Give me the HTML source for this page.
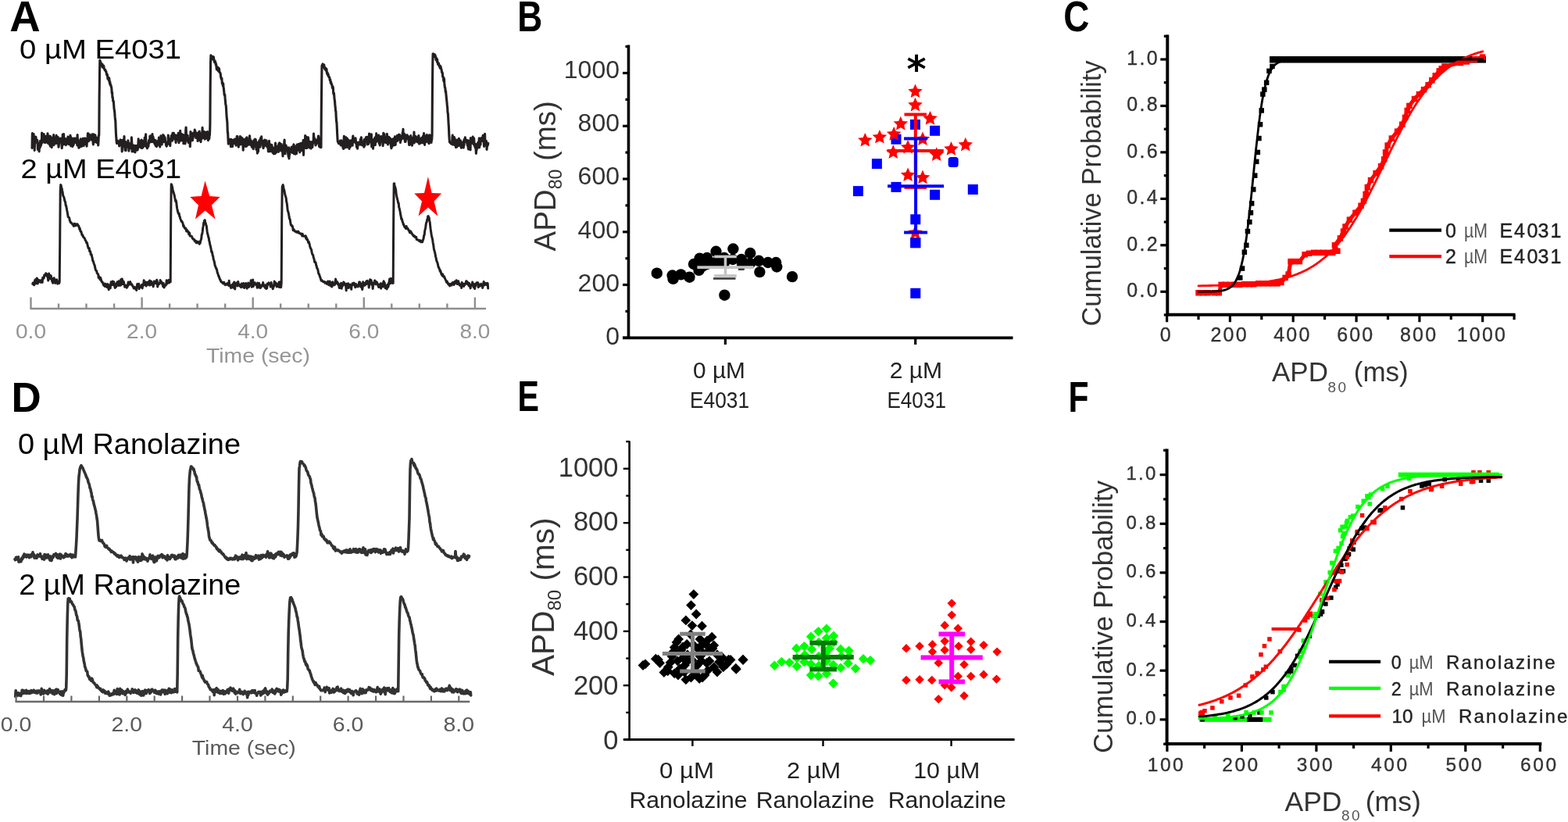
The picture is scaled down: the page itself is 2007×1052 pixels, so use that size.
<!DOCTYPE html>
<html><head><meta charset="utf-8"><title>Figure</title>
<style>html,body{margin:0;padding:0;background:#fff;overflow:hidden;width:2007px;height:1052px;} svg{display:block;} text{font-family:"Liberation Sans", Arial, sans-serif;}</style>
</head><body>
<svg width="2007" height="1052" viewBox="0 0 2007 1052">
<rect width="2007" height="1052" fill="#fff"/>
<path d="M41 189.5 L41.4 170.5 L41.7 180.3 L42.1 177.8 L42.4 179.3 L42.8 178.2 L43.1 171.5 L43.5 178.1 L43.8 175.2 L44.2 192.5 L44.5 181.9 L44.9 180.6 L45.2 177.7 L45.6 176.3 L45.9 175.2 L46.3 179 L46.6 181.1 L47 179.4 L47.3 182.6 L47.7 179.2 L48 182.1 L48.4 191.5 L48.7 187.7 L49.1 183.4 L49.4 184.1 L49.8 188.6 L50.1 194 L50.5 186.1 L50.8 186.4 L51.2 188.9 L51.5 180.3 L51.9 182.7 L52.2 186.7 L52.6 185 L52.9 182.8 L53.3 183.6 L53.6 170 L54 182.8 L54.3 175.6 L54.7 171.8 L55 177.2 L55.4 179.2 L55.7 174.7 L56.1 171.5 L56.4 174.9 L56.8 175.9 L57.1 182.4 L57.5 179.6 L57.8 178.1 L58.2 182.4 L58.5 177.1 L58.9 174.3 L59.2 179.8 L59.6 182 L59.9 177.3 L60.3 175.7 L60.6 180.5 L61 170.7 L61.3 183.3 L61.7 183.3 L62 174.8 L62.4 181.7 L62.7 177.6 L63.1 184.6 L63.4 174 L63.8 179.6 L64.1 186 L64.5 187.1 L64.8 174.5 L65.2 182.6 L65.5 185.4 L65.9 181.2 L66.2 188.6 L66.6 178.4 L66.9 183 L67.3 176.4 L67.6 184.8 L68 180.1 L68.3 178.5 L68.7 172.6 L69 185.6 L69.4 183.6 L69.7 182.8 L70.1 183.4 L70.4 181.2 L70.8 177.1 L71.1 176 L71.5 175.5 L71.8 183.6 L72.2 173.4 L72.5 176.8 L72.9 178.4 L73.2 181.4 L73.6 182.7 L73.9 177.9 L74.3 175.5 L74.6 183.1 L75 188.3 L75.3 186 L75.7 182.5 L76 180.1 L76.4 181.3 L76.7 179.2 L77.1 181.9 L77.4 177 L77.8 179.7 L78.1 178.9 L78.5 182.7 L78.8 181.5 L79.2 189.7 L79.5 185.3 L79.9 186.3 L80.2 172.1 L80.6 177 L80.9 176.3 L81.3 182 L81.6 171.6 L82 184.2 L82.3 184.5 L82.7 177.1 L83 177.9 L83.4 178.5 L83.7 182.5 L84.1 182.5 L84.4 185.6 L84.8 177.8 L85.1 183 L85.5 179.6 L85.8 183.9 L86.2 180.4 L86.5 183.5 L86.9 175 L87.2 179.1 L87.6 177.5 L87.9 184.8 L88.3 180.3 L88.6 176.4 L89 176.1 L89.3 178.7 L89.7 174.6 L90 173.3 L90.4 179 L90.7 186.9 L91.1 175.9 L91.4 176.5 L91.8 177.1 L92.1 177.6 L92.5 185.3 L92.8 187.5 L93.2 184.9 L93.5 186.3 L93.9 185 L94.2 185.2 L94.6 177.1 L94.9 180.1 L95.3 182.8 L95.6 178.6 L96 178.7 L96.3 177.1 L96.7 178.5 L97 182.5 L97.4 178 L97.7 178.4 L98.1 181.5 L98.4 179.8 L98.8 186 L99.1 172.6 L99.5 183.2 L99.8 178.5 L100.2 182.6 L100.5 186.7 L100.9 189.2 L101.2 189 L101.6 184.8 L101.9 188.5 L102.3 180.6 L102.6 180.8 L103 185.6 L103.3 177.9 L103.7 186.8 L104 182.6 L104.4 187.4 L104.7 181.4 L105.1 179.2 L105.4 180.8 L105.8 183.6 L106.1 177.4 L106.5 182.1 L106.8 180.1 L107.2 186.7 L107.5 177 L107.9 181.7 L108.2 177.5 L108.6 178.1 L108.9 179.5 L109.3 177 L109.6 181.6 L110 184.8 L110.3 179.9 L110.7 182 L111 187.1 L111.4 181.1 L111.7 178.9 L112.1 175.9 L112.4 170.7 L112.8 181 L113.1 170.7 L113.5 180.7 L113.8 177.4 L114.2 180 L114.5 174.2 L114.9 172.6 L115.2 177.5 L115.6 176.9 L115.9 176.6 L116.3 178.1 L116.6 177.6 L117 178.8 L117.3 176.9 L117.7 178.9 L118 171.9 L118.4 179.8 L118.7 174.1 L119.1 183.1 L119.4 184.9 L119.8 171.9 L120.1 179.4 L120.5 178.4 L120.8 177.3 L121.2 181.8 L121.5 177.4 L121.9 172.9 L122.2 179.1 L122.6 179.1 L122.9 180.2 L123.3 175.9 L123.6 182.4 L124 182.3 L124.3 177 L124.7 179.4 L125 180.1 L125.4 177.3 L125.7 186 L126.1 179.5 L126.4 173.1 L126.8 172.9 L127.1 126.9 L127.5 95.1 L127.8 77 L128.2 78.5 L128.5 79.8 L128.9 79.7 L129.2 84.3 L129.6 81.1 L129.9 84 L130.3 83.7 L130.6 84 L131 82.3 L131.3 86.3 L131.7 84 L132 85.1 L132.4 83.9 L132.7 84.5 L133.1 86.5 L133.4 87.9 L133.8 88.8 L134.1 89.6 L134.5 90.1 L134.8 89.5 L135.2 91.1 L135.5 91.3 L135.9 91.4 L136.2 93.9 L136.6 95.5 L136.9 94.6 L137.3 95.1 L137.6 97.8 L138 101 L138.3 98.7 L138.7 100 L139 101 L139.4 103.3 L139.7 99.9 L140.1 104.1 L140.4 106.8 L140.8 104.5 L141.1 109 L141.5 108.6 L141.8 108.4 L142.2 110.9 L142.5 111 L142.9 113.8 L143.2 119.4 L143.6 118.2 L143.9 125 L144.3 124.5 L144.6 129.2 L145 129.7 L145.3 129.4 L145.7 134.6 L146 139 L146.4 141 L146.7 143.1 L147.1 149.2 L147.4 152.1 L147.8 155 L148.1 163.2 L148.5 172.1 L148.8 176.1 L149.2 182.1 L149.5 183.4 L149.9 181.7 L150.2 180.4 L150.6 180.1 L150.9 181.8 L151.3 183.2 L151.6 182 L152 183.4 L152.3 184.5 L152.7 187 L153 183.1 L153.4 182.3 L153.7 179.9 L154.1 178.9 L154.4 182.5 L154.8 181 L155.1 179.6 L155.5 186.2 L155.8 182.3 L156.2 194 L156.5 187.7 L156.9 179.4 L157.2 185.8 L157.6 184.9 L157.9 180.1 L158.3 187.8 L158.6 181 L159 174.6 L159.3 188 L159.7 183.3 L160 192.2 L160.4 183.9 L160.7 181.5 L161.1 192.6 L161.4 182.9 L161.8 186.5 L162.1 188.3 L162.5 183.9 L162.8 182.2 L163.2 183.1 L163.5 185.9 L163.9 179.8 L164.2 186 L164.6 185.5 L164.9 193.1 L165.3 185.2 L165.6 183.5 L166 190 L166.3 185.8 L166.7 187.4 L167 186.5 L167.4 189.6 L167.7 183.4 L168.1 185.1 L168.4 175.9 L168.8 183.2 L169.1 194 L169.5 185.6 L169.8 186.9 L170.2 185.8 L170.5 193.1 L170.9 191.6 L171.2 187.2 L171.6 194.2 L171.9 191.4 L172.3 191.5 L172.6 186.4 L173 195 L173.3 190.4 L173.7 188.2 L174 186.6 L174.4 188.3 L174.7 191.1 L175.1 186.6 L175.4 192.2 L175.8 190.2 L176.1 191.9 L176.5 189.8 L176.8 186.1 L177.2 177.9 L177.5 186.5 L177.9 188 L178.2 185.8 L178.6 186.3 L178.9 182.5 L179.3 183.9 L179.6 180.4 L180 189 L180.3 185 L180.7 180.4 L181 179 L181.4 183.5 L181.7 189.6 L182.1 185.3 L182.4 180.1 L182.8 188.8 L183.1 188.4 L183.5 187.7 L183.8 185.7 L184.2 184.6 L184.5 181.9 L184.9 181.5 L185.2 176 L185.6 184.2 L185.9 179.7 L186.3 187 L186.6 171.7 L187 184.4 L187.3 187.9 L187.7 183.4 L188 188.4 L188.4 189.8 L188.7 189.1 L189.1 183.5 L189.4 183.7 L189.8 187.4 L190.1 185.8 L190.5 180.5 L190.8 179.4 L191.2 179.5 L191.5 182.4 L191.9 174.3 L192.2 174.1 L192.6 178.7 L192.9 173.9 L193.3 177.8 L193.6 178.8 L194 181.4 L194.3 174.9 L194.7 181.8 L195 171.6 L195.4 180.7 L195.7 174.8 L196.1 175.6 L196.4 181.7 L196.8 179.6 L197.1 178.3 L197.5 180 L197.8 183.9 L198.2 182.5 L198.5 182.2 L198.9 186.1 L199.2 179.5 L199.6 183.2 L199.9 182.7 L200.3 187.6 L200.6 187.2 L201 186.7 L201.3 182.4 L201.7 182.4 L202 185.5 L202.4 180.4 L202.7 182.2 L203.1 181.5 L203.4 176 L203.8 179 L204.1 180 L204.5 186.5 L204.8 188 L205.2 179.8 L205.5 181.3 L205.9 173.7 L206.2 183 L206.6 182.8 L206.9 177.1 L207.3 184.9 L207.6 176.4 L208 181.4 L208.3 180.7 L208.7 172.5 L209 180.5 L209.4 181.6 L209.7 173.6 L210.1 175.3 L210.4 180.8 L210.8 178.6 L211.1 175.9 L211.5 180.3 L211.8 182.5 L212.2 182.4 L212.5 185.8 L212.9 183.7 L213.2 187.3 L213.6 186.2 L213.9 182.8 L214.3 183.2 L214.6 182.9 L215 180.7 L215.3 173.1 L215.7 180.9 L216 177.8 L216.4 184.4 L216.7 179.3 L217.1 180.3 L217.4 180.3 L217.8 186.7 L218.1 180.3 L218.5 177.4 L218.8 178.4 L219.2 173.8 L219.5 175 L219.9 173.2 L220.2 175.3 L220.6 180.1 L220.9 170.4 L221.3 172.6 L221.6 171.8 L222 176.5 L222.3 170.2 L222.7 172.6 L223 175.5 L223.4 177.9 L223.7 177 L224.1 175.2 L224.4 172.9 L224.8 179.3 L225.1 182.5 L225.5 178.4 L225.8 177.7 L226.2 178.9 L226.5 173.3 L226.9 174.5 L227.2 174.7 L227.6 178.3 L227.9 176 L228.3 170.3 L228.6 180.3 L229 182.7 L229.3 175 L229.7 176.9 L230 175.2 L230.4 176.1 L230.7 167.2 L231.1 180.2 L231.4 171.5 L231.8 176.1 L232.1 172.6 L232.5 171.5 L232.8 173.1 L233.2 179.8 L233.5 174.1 L233.9 176 L234.2 175.1 L234.6 172.6 L234.9 183.6 L235.3 180.6 L235.6 176.6 L236 180.2 L236.3 173.6 L236.7 176.6 L237 183.9 L237.4 179.8 L237.7 166.9 L238.1 163 L238.4 170.2 L238.8 179.8 L239.1 175.8 L239.5 175.1 L239.8 179.7 L240.2 173.3 L240.5 179.2 L240.9 182 L241.2 182.3 L241.6 182 L241.9 177.5 L242.3 181.4 L242.6 177.7 L243 183.1 L243.3 187.7 L243.7 174.1 L244 168.6 L244.4 174.7 L244.7 177.6 L245.1 180 L245.4 179.4 L245.8 171.1 L246.1 171.6 L246.5 179.8 L246.8 170.9 L247.2 176.9 L247.5 170.3 L247.9 173.6 L248.2 173.1 L248.6 172.3 L248.9 173.5 L249.3 166 L249.6 170.6 L250 168.1 L250.3 172 L250.7 176.4 L251 171.9 L251.4 170.2 L251.7 170.9 L252.1 172.7 L252.4 176.7 L252.8 171.8 L253.1 180.5 L253.5 177.7 L253.8 174.5 L254.2 169.5 L254.5 176.6 L254.9 178.1 L255.2 168.1 L255.6 177.7 L255.9 179.5 L256.3 173.4 L256.6 172.8 L257 181.6 L257.3 178.2 L257.7 170.5 L258 173.5 L258.4 172.7 L258.7 173.8 L259.1 163.3 L259.4 177 L259.8 171.1 L260.1 174.1 L260.5 171.4 L260.8 174.2 L261.2 169.8 L261.5 168.5 L261.9 172.9 L262.2 178.2 L262.6 170.6 L262.9 175.4 L263.3 171.7 L263.6 169.4 L264 176.6 L264.3 170.2 L264.7 177.2 L265 171.5 L265.4 174 L265.7 168.6 L266.1 171.9 L266.4 179.7 L266.8 177.5 L267.1 177.2 L267.5 173.7 L267.8 177.6 L268.2 171.5 L268.5 172.7 L268.9 158.9 L269.2 110.9 L269.6 78.2 L269.9 70.8 L270.3 71.3 L270.6 71.8 L271 74.9 L271.3 75 L271.7 75.8 L272 73.9 L272.4 73.6 L272.7 72.5 L273.1 74.6 L273.4 72.9 L273.8 75.3 L274.1 77.9 L274.5 79.7 L274.8 79.7 L275.2 77.9 L275.5 80.5 L275.9 79.6 L276.2 83 L276.6 82 L276.9 85.2 L277.3 88.8 L277.6 86.5 L278 89.2 L278.3 86.6 L278.7 86 L279 89.2 L279.4 90.9 L279.7 87.9 L280.1 88.7 L280.4 87.4 L280.8 90.7 L281.1 92.9 L281.5 92.8 L281.8 93.4 L282.2 93.9 L282.5 97.4 L282.9 99.6 L283.2 100.9 L283.6 101.6 L283.9 100 L284.3 107 L284.6 105.3 L285 107.3 L285.3 109.8 L285.7 106.7 L286 111.6 L286.4 113.4 L286.7 116.5 L287.1 121.2 L287.4 121.9 L287.8 121.2 L288.1 125.7 L288.5 129.8 L288.8 133.7 L289.2 134.8 L289.5 138.5 L289.9 146 L290.2 150.1 L290.6 153.8 L290.9 156.7 L291.3 169.3 L291.6 169.1 L292 178 L292.3 184.3 L292.7 180.7 L293 181.1 L293.4 178.7 L293.7 182.6 L294.1 178.2 L294.4 180.7 L294.8 181 L295.1 179.7 L295.5 187.8 L295.8 178.4 L296.2 181.5 L296.5 182.3 L296.9 181.3 L297.2 186.1 L297.6 187.5 L297.9 182.8 L298.3 180.4 L298.6 179.1 L299 180.3 L299.3 183.2 L299.7 179.5 L300 183.6 L300.4 181.4 L300.7 178.1 L301.1 183.6 L301.4 178.5 L301.8 180.9 L302.1 186.1 L302.5 177.7 L302.8 181.8 L303.2 174.6 L303.5 177.7 L303.9 174.5 L304.2 179.5 L304.6 177.8 L304.9 182.5 L305.3 188.2 L305.6 183.7 L306 185.3 L306.3 181.8 L306.7 181.7 L307 179.3 L307.4 174.5 L307.7 180.1 L308.1 184.9 L308.4 180.7 L308.8 175.7 L309.1 183.8 L309.5 178.5 L309.8 178.8 L310.2 176.7 L310.5 178.3 L310.9 183.4 L311.2 192.3 L311.6 184.7 L311.9 182.6 L312.3 185.5 L312.6 184.3 L313 178.6 L313.3 184.4 L313.7 186.9 L314 185.2 L314.4 187.4 L314.7 178.1 L315.1 176.6 L315.4 187.2 L315.8 186.9 L316.1 175.9 L316.5 183.6 L316.8 182.6 L317.2 184.5 L317.5 183.1 L317.9 182.6 L318.2 185.2 L318.6 183.8 L318.9 183.2 L319.3 178.6 L319.6 173.7 L320 182.6 L320.3 178.2 L320.7 184.3 L321 185.5 L321.4 184 L321.7 183.1 L322.1 185 L322.4 188.3 L322.8 180.8 L323.1 187.4 L323.5 187.5 L323.8 186.4 L324.2 190.7 L324.5 181.3 L324.9 187.9 L325.2 180 L325.6 178.9 L325.9 179 L326.3 183.6 L326.6 178.1 L327 183.1 L327.3 178.6 L327.7 187.6 L328 191.4 L328.4 184.9 L328.7 191.6 L329.1 188.4 L329.4 196.1 L329.8 190 L330.1 182.2 L330.5 194.3 L330.8 188.1 L331.2 182.8 L331.5 184.8 L331.9 179.8 L332.2 184.7 L332.6 180.9 L332.9 188.1 L333.3 186.1 L333.6 176.6 L334 176.5 L334.3 178.6 L334.7 174.9 L335 183.4 L335.4 183.2 L335.7 179.7 L336.1 180.4 L336.4 184.3 L336.8 188.1 L337.1 189.6 L337.5 186.3 L337.8 187.6 L338.2 180 L338.5 185 L338.9 179 L339.2 186.5 L339.6 179.5 L339.9 179.7 L340.3 183.5 L340.6 185.6 L341 179.7 L341.3 183.9 L341.7 186.2 L342 188.2 L342.4 185.4 L342.7 188.9 L343.1 189 L343.4 193.9 L343.8 191 L344.1 183.2 L344.5 180.4 L344.8 189.3 L345.2 193.9 L345.5 189.3 L345.9 191.6 L346.2 186.2 L346.6 185 L346.9 192.1 L347.3 190.2 L347.6 193.6 L348 185.6 L348.3 191.4 L348.7 188.7 L349 195.5 L349.4 191.2 L349.7 189 L350.1 189.8 L350.4 197 L350.8 192 L351.1 189.5 L351.5 189.4 L351.8 189.5 L352.2 196.6 L352.5 183.1 L352.9 186.5 L353.2 193.4 L353.6 195.1 L353.9 189.5 L354.3 191.6 L354.6 189.8 L355 190.2 L355.3 187.3 L355.7 193.5 L356 189.2 L356.4 194.4 L356.7 184.3 L357.1 191 L357.4 183.6 L357.8 182.8 L358.1 189.9 L358.5 185.1 L358.8 189.4 L359.2 184 L359.5 192.9 L359.9 186.3 L360.2 184.6 L360.6 191.2 L360.9 192.8 L361.3 186.5 L361.6 192.3 L362 199.9 L362.3 197 L362.7 192.1 L363 190.3 L363.4 192.8 L363.7 184.1 L364.1 179 L364.4 188.6 L364.8 186.6 L365.1 196.8 L365.5 188.6 L365.8 185.9 L366.2 186.2 L366.5 192.5 L366.9 188.2 L367.2 189.7 L367.6 192.4 L367.9 192.3 L368.3 193.1 L368.6 195.4 L369 199.1 L369.3 200.8 L369.7 188.8 L370 203 L370.4 194.6 L370.7 198.1 L371.1 190.5 L371.4 193.2 L371.8 192.2 L372.1 192.3 L372.5 194.2 L372.8 194.3 L373.2 188.1 L373.5 191 L373.9 194.5 L374.2 195.5 L374.6 190.1 L374.9 189.3 L375.3 189.7 L375.6 186.4 L376 184.9 L376.3 196.6 L376.7 189 L377 190.1 L377.4 187 L377.7 196.8 L378.1 197.2 L378.4 191.4 L378.8 193.8 L379.1 189 L379.5 196.7 L379.8 193 L380.2 185.1 L380.5 192.9 L380.9 189.1 L381.2 190.6 L381.6 188.6 L381.9 185.3 L382.3 184.4 L382.6 189.4 L383 186.5 L383.3 184.6 L383.7 194.9 L384 184.8 L384.4 183.6 L384.7 183.5 L385.1 189.4 L385.4 190.6 L385.8 188.6 L386.1 193 L386.5 183.1 L386.8 187 L387.2 187.9 L387.5 188.9 L387.9 190.3 L388.2 179.3 L388.6 198.4 L388.9 183.7 L389.3 186.4 L389.6 187.6 L390 187.7 L390.3 184.8 L390.7 173.5 L391 181 L391.4 189.5 L391.7 182.8 L392.1 181.4 L392.4 175.3 L392.8 189.6 L393.1 187.4 L393.5 181.7 L393.8 183.6 L394.2 182.2 L394.5 175.8 L394.9 180.3 L395.2 183.8 L395.6 185.3 L395.9 189 L396.3 183.8 L396.6 181.3 L397 185.6 L397.3 182.9 L397.7 181.9 L398 190.1 L398.4 184.1 L398.7 186.6 L399.1 187.7 L399.4 181.6 L399.8 188.5 L400.1 185.9 L400.5 181.9 L400.8 183.1 L401.2 179.1 L401.5 171.1 L401.9 177.9 L402.2 176.1 L402.6 180.8 L402.9 179.5 L403.3 178 L403.6 182 L404 186 L404.3 185.1 L404.7 182.4 L405 184.1 L405.4 179.5 L405.7 181.6 L406.1 183.3 L406.4 180.4 L406.8 180.2 L407.1 176.1 L407.5 174.1 L407.8 175 L408.2 179.9 L408.5 187.4 L408.9 187.1 L409.2 179.8 L409.6 179 L409.9 188.4 L410.3 186.7 L410.6 179.2 L411 188.8 L411.3 143.1 L411.7 106.1 L412 83.9 L412.4 83.4 L412.7 82.7 L413.1 81.8 L413.4 82.9 L413.8 83.3 L414.1 85.7 L414.5 83.4 L414.8 83 L415.2 86.7 L415.5 87.7 L415.9 88.7 L416.2 89 L416.6 86.7 L416.9 88.5 L417.3 89.3 L417.6 90.8 L418 88.4 L418.3 92.8 L418.7 94.3 L419 92.8 L419.4 94.1 L419.7 96.5 L420.1 94.7 L420.4 97.2 L420.8 98.2 L421.1 98.8 L421.5 99.1 L421.8 98.8 L422.2 102.6 L422.5 101.7 L422.9 102.3 L423.2 106.1 L423.6 104.7 L423.9 106.7 L424.3 108 L424.6 107.6 L425 109.6 L425.3 111.8 L425.7 113.1 L426 110.7 L426.4 112.5 L426.7 119.2 L427.1 120.6 L427.4 119 L427.8 123 L428.1 127.1 L428.5 128.6 L428.8 133.6 L429.2 137.1 L429.5 141.5 L429.9 142.4 L430.2 149.4 L430.6 155.6 L430.9 155.8 L431.3 163.7 L431.6 170.4 L432 177.4 L432.3 181.2 L432.7 181.7 L433 181.4 L433.4 183.6 L433.7 183.6 L434.1 183.7 L434.4 183.7 L434.8 183.9 L435.1 181.4 L435.5 180.1 L435.8 182 L436.2 186 L436.5 184.5 L436.9 179.8 L437.2 185.9 L437.6 182.6 L437.9 186.1 L438.3 182.1 L438.6 185.2 L439 189.4 L439.3 186.1 L439.7 190.5 L440 180.4 L440.4 174.4 L440.7 185.9 L441.1 189.1 L441.4 189 L441.8 184.6 L442.1 183.4 L442.5 182.1 L442.8 175.7 L443.2 178.9 L443.5 183 L443.9 179.3 L444.2 188.4 L444.6 177.4 L444.9 181.8 L445.3 187.3 L445.6 182.3 L446 180.4 L446.3 179.5 L446.7 182.6 L447 190.5 L447.4 186.2 L447.7 185.8 L448.1 182.6 L448.4 188 L448.8 183.4 L449.1 179.8 L449.5 180.1 L449.8 181 L450.2 183.8 L450.5 179.6 L450.9 181.4 L451.2 186.3 L451.6 175.7 L451.9 174 L452.3 181.5 L452.6 180.3 L453 179.3 L453.3 181.8 L453.7 179.7 L454 182 L454.4 177.1 L454.7 182.4 L455.1 176.8 L455.4 179.8 L455.8 184.2 L456.1 182.3 L456.5 188.3 L456.8 185.3 L457.2 184.8 L457.5 190.2 L457.9 187.2 L458.2 182.2 L458.6 182.8 L458.9 182.4 L459.3 183.3 L459.6 183.1 L460 184.9 L460.3 181.8 L460.7 184.8 L461 183.6 L461.4 178 L461.7 185.2 L462.1 183.3 L462.4 175.9 L462.8 179.7 L463.1 183.4 L463.5 180.9 L463.8 186 L464.2 184 L464.5 185.9 L464.9 182.3 L465.2 185.9 L465.6 183.7 L465.9 188.3 L466.3 178.6 L466.6 185.9 L467 186.4 L467.3 181.3 L467.7 178.8 L468 180.8 L468.4 175.7 L468.7 175.7 L469.1 175.3 L469.4 176.6 L469.8 180.5 L470.1 175.7 L470.5 184.9 L470.8 175.2 L471.2 177.4 L471.5 179.1 L471.9 184.1 L472.2 177.7 L472.6 171 L472.9 181.9 L473.3 179.3 L473.6 174 L474 173.1 L474.3 174.1 L474.7 178.4 L475 179.5 L475.4 171.7 L475.7 187.7 L476.1 179.3 L476.4 178.4 L476.8 182.5 L477.1 180.7 L477.5 190.3 L477.8 185.7 L478.2 180.6 L478.5 180.9 L478.9 179.8 L479.2 177.7 L479.6 180.3 L479.9 176 L480.3 185.8 L480.6 179.3 L481 178.1 L481.3 182 L481.7 170.9 L482 175.2 L482.4 180.9 L482.7 179.9 L483.1 178.7 L483.4 179.6 L483.8 175.7 L484.1 178 L484.5 174.9 L484.8 173.1 L485.2 183.8 L485.5 176 L485.9 177.1 L486.2 185.9 L486.6 182.9 L486.9 175 L487.3 175.1 L487.6 177.6 L488 174.5 L488.3 180.7 L488.7 180.2 L489 177.2 L489.4 178.5 L489.7 180.3 L490.1 186.7 L490.4 183.2 L490.8 170.3 L491.1 179.8 L491.5 173.2 L491.8 171.6 L492.2 181.8 L492.5 176.4 L492.9 177.3 L493.2 182.5 L493.6 176.9 L493.9 175.4 L494.3 179.2 L494.6 182.7 L495 181 L495.3 171.3 L495.7 175.9 L496 178.3 L496.4 185 L496.7 181.7 L497.1 181.1 L497.4 182 L497.8 175.4 L498.1 178.8 L498.5 181 L498.8 176.3 L499.2 179.9 L499.5 183.4 L499.9 177.5 L500.2 185.3 L500.6 187.5 L500.9 189.8 L501.3 182.1 L501.6 184.5 L502 187.6 L502.3 184.6 L502.7 178.1 L503 180.4 L503.4 184.5 L503.7 177.6 L504.1 178.4 L504.4 185.9 L504.8 178.4 L505.1 179.5 L505.5 174.9 L505.8 175.4 L506.2 185.4 L506.5 179.5 L506.9 175.4 L507.2 176.1 L507.6 179.9 L507.9 180.6 L508.3 173.5 L508.6 180.5 L509 174.4 L509.3 176.3 L509.7 177.5 L510 177.1 L510.4 172.3 L510.7 174.9 L511.1 178.5 L511.4 172.4 L511.8 177 L512.1 180.2 L512.5 182.5 L512.8 177.3 L513.2 176.7 L513.5 179.2 L513.9 174.1 L514.2 173.9 L514.6 175.3 L514.9 175.3 L515.3 169.7 L515.6 170.7 L516 165.3 L516.3 177.2 L516.7 171.4 L517 174.3 L517.4 171 L517.7 176.8 L518.1 178.3 L518.4 181.4 L518.8 174 L519.1 181.4 L519.5 176.3 L519.8 173 L520.2 178.1 L520.5 174.8 L520.9 174.3 L521.2 172.7 L521.6 176.9 L521.9 176.8 L522.3 176.9 L522.6 174.6 L523 178.8 L523.3 182.1 L523.7 185.5 L524 180.8 L524.4 185.4 L524.7 178.2 L525.1 175.5 L525.4 179.6 L525.8 173.5 L526.1 177.9 L526.5 181.6 L526.8 175.9 L527.2 176.1 L527.5 186.2 L527.9 178.4 L528.2 177.9 L528.6 181.2 L528.9 178.3 L529.3 178.2 L529.6 179 L530 169.1 L530.3 183 L530.7 173.9 L531 174.6 L531.4 179.1 L531.7 177.7 L532.1 174.6 L532.4 180.9 L532.8 177.5 L533.1 178.2 L533.5 175.7 L533.8 178.4 L534.2 181.9 L534.5 180.5 L534.9 179.5 L535.2 180.8 L535.6 176.6 L535.9 173.5 L536.3 176.6 L536.6 184.2 L537 178.2 L537.3 179.8 L537.7 180.1 L538 183.3 L538.4 183.1 L538.7 180.5 L539.1 178.8 L539.4 176.8 L539.8 176.4 L540.1 181.5 L540.5 182.3 L540.8 182.8 L541.2 177.3 L541.5 174.2 L541.9 179.6 L542.2 179.5 L542.6 170.5 L542.9 179 L543.3 180.8 L543.6 185.5 L544 175.3 L544.3 175.4 L544.7 182.1 L545 173.7 L545.4 179.7 L545.7 177.4 L546.1 177.4 L546.4 172.6 L546.8 178.9 L547.1 181.1 L547.5 180.5 L547.8 181.7 L548.2 178.4 L548.5 183 L548.9 181 L549.2 183.8 L549.6 172.7 L549.9 180.1 L550.3 175.9 L550.6 180.4 L551 179.3 L551.3 173.4 L551.7 178.6 L552 182.5 L552.4 179.1 L552.7 179.1 L553.1 172.3 L553.4 121.1 L553.8 82 L554.1 68.7 L554.5 71 L554.8 70.8 L555.2 70.2 L555.5 69.3 L555.9 72.6 L556.2 71.8 L556.6 70 L556.9 70.1 L557.3 72.9 L557.6 72.2 L558 76.6 L558.3 75.2 L558.7 74.3 L559 75.5 L559.4 79.4 L559.7 76 L560.1 80 L560.4 80.4 L560.8 82.8 L561.1 81.8 L561.5 81 L561.8 83.3 L562.2 83.7 L562.5 85.2 L562.9 83.9 L563.2 87.2 L563.6 84.3 L563.9 86.2 L564.3 85.9 L564.6 88.2 L565 88.8 L565.3 90.5 L565.7 93 L566 92.7 L566.4 93.6 L566.7 98.3 L567.1 97.7 L567.4 98.9 L567.8 103.3 L568.1 104.2 L568.5 100.5 L568.8 106.4 L569.2 110 L569.5 112.4 L569.9 112.5 L570.2 117.6 L570.6 116.5 L570.9 120.2 L571.3 124.1 L571.6 127 L572 130.9 L572.3 134.5 L572.7 137.6 L573 143.9 L573.4 145.5 L573.7 150.7 L574.1 158.3 L574.4 162.3 L574.8 171.7 L575.1 177.2 L575.5 181.9 L575.8 182.1 L576.2 182.7 L576.5 182.1 L576.9 182.5 L577.2 183.6 L577.6 184.2 L577.9 182 L578.3 182 L578.6 183.7 L579 175.1 L579.3 173 L579.7 185.2 L580 183.7 L580.4 179 L580.7 180.9 L581.1 176.9 L581.4 175.5 L581.8 182.9 L582.1 177.3 L582.5 186.2 L582.8 179.3 L583.2 183.8 L583.5 188.6 L583.9 188.4 L584.2 181.1 L584.6 188.1 L584.9 179 L585.3 179.6 L585.6 183.5 L586 187 L586.3 179.4 L586.7 184.5 L587 182.6 L587.4 177.2 L587.7 180.4 L588.1 186.3 L588.4 181.4 L588.8 181.9 L589.1 184.8 L589.5 179.9 L589.8 186.8 L590.2 188.8 L590.5 189.1 L590.9 188 L591.2 183.2 L591.6 182.5 L591.9 183.5 L592.3 182.2 L592.6 181.8 L593 188.7 L593.3 189 L593.7 179.9 L594 186.2 L594.4 178.4 L594.7 180.7 L595.1 178.4 L595.4 175.8 L595.8 180.6 L596.1 180.3 L596.5 179.2 L596.8 181.3 L597.2 179.2 L597.5 182.8 L597.9 182.3 L598.2 185.9 L598.6 179.5 L598.9 186.9 L599.3 189.1 L599.6 191 L600 189.2 L600.3 186.3 L600.7 183.5 L601 180 L601.4 185.6 L601.7 191.8 L602.1 191.8 L602.4 176.5 L602.8 183.5 L603.1 184.1 L603.5 179.2 L603.8 182.5 L604.2 181.3 L604.5 179.3 L604.9 180.6 L605.2 175 L605.6 177.4 L605.9 177.4 L606.3 184.8 L606.6 176.7 L607 182.2 L607.3 186.5 L607.7 184.5 L608 188.5 L608.4 184.2 L608.7 188.2 L609.1 191.2 L609.4 196.4 L609.8 189.7 L610.1 192.2 L610.5 185.4 L610.8 184.3 L611.2 189.4 L611.5 183.4 L611.9 185 L612.2 181.8 L612.6 187.2 L612.9 188.8 L613.3 176.9 L613.6 188.8 L614 184.9 L614.3 184.4 L614.7 182.2 L615 185.3 L615.4 178.2 L615.7 177.9 L616.1 176.7 L616.4 179.1 L616.8 179.9 L617.1 179.6 L617.5 180.4 L617.8 177.3 L618.2 173.2 L618.5 181 L618.9 180.3 L619.2 182.2 L619.6 187.5 L619.9 181.4 L620.3 180.8 L620.6 171.3 L621 183.6 L621.3 181.3 L621.7 180.3 L622 185.6 L622.4 180.4 L622.7 182.7 L623.1 191.5 L623.4 186 L623.8 187 L624.1 185.6 L624.5 185.6 L624.8 183.4" fill="none" stroke="#231f20" stroke-width="3.1" stroke-linejoin="round" stroke-linecap="round"/>
<path d="M41.7 363.4 L42.2 362 L42.7 363.7 L43.2 364.5 L43.7 364.8 L44.2 361 L44.7 358.8 L45.2 357.9 L45.7 360.4 L46.2 362.9 L46.7 359.5 L47.2 356 L47.7 356.6 L48.2 363.1 L48.7 361.6 L49.2 358.3 L49.7 361 L50.2 358.6 L50.7 358.9 L51.2 359.3 L51.7 359.2 L52.2 361.3 L52.7 360.1 L53.2 358.5 L53.7 360.4 L54.2 361.5 L54.7 355.3 L55.2 356.4 L55.7 354.8 L56.2 356.2 L56.7 351.9 L57.2 353.1 L57.7 352.7 L58.2 351.9 L58.7 349.8 L59.2 352.5 L59.7 351.8 L60.2 350.9 L60.7 354.5 L61.2 354.3 L61.7 359.1 L62.2 356.9 L62.7 350.1 L63.2 354.4 L63.7 352.3 L64.2 356.1 L64.7 356.7 L65.2 352.7 L65.7 355.6 L66.2 356.2 L66.7 360.2 L67.2 357.1 L67.7 362.3 L68.2 357 L68.7 356.9 L69.2 355.7 L69.7 359.8 L70.2 358.6 L70.7 362.4 L71.2 358.3 L71.7 358.9 L72.2 359.5 L72.7 357.9 L73.2 359.9 L73.7 363.2 L74.2 360.7 L74.7 362.1 L75.2 361.6 L75.7 362.5 L76.2 360.7 L76.7 310.6 L77.2 244.2 L77.7 236.5 L78.2 237.4 L78.7 240.8 L79.2 241.3 L79.7 244 L80.2 246.4 L80.7 250.5 L81.2 251.2 L81.7 252.2 L82.2 253.7 L82.7 256.7 L83.2 257.5 L83.7 259.3 L84.2 263.1 L84.7 263.4 L85.2 266.2 L85.7 269.1 L86.2 271.5 L86.7 274.5 L87.2 277.7 L87.7 277.7 L88.2 278.3 L88.7 278.7 L89.2 281.7 L89.7 282.9 L90.2 284.7 L90.7 284.5 L91.2 285.3 L91.7 285.4 L92.2 286.2 L92.7 287.1 L93.2 287.4 L93.7 287.7 L94.2 289.4 L94.7 287.7 L95.2 286.2 L95.7 289.1 L96.2 288.1 L96.7 286.9 L97.2 288.8 L97.7 287.5 L98.2 286.7 L98.7 286.8 L99.2 287 L99.7 287.9 L100.2 289.3 L100.7 289 L101.2 290.8 L101.7 293.2 L102.2 292.2 L102.7 295.3 L103.2 296.3 L103.7 296.1 L104.2 297.5 L104.7 300 L105.2 301.1 L105.7 300.6 L106.2 302 L106.7 303.4 L107.2 303.9 L107.7 304.2 L108.2 304.8 L108.7 305.8 L109.2 307.5 L109.7 307.9 L110.2 308.9 L110.7 310.9 L111.2 310.3 L111.7 311.7 L112.2 314.4 L112.7 316.1 L113.2 317.9 L113.7 318 L114.2 317.7 L114.7 321.7 L115.2 322.1 L115.7 321.8 L116.2 325.7 L116.7 326 L117.2 325.8 L117.7 328.8 L118.2 330.3 L118.7 333.7 L119.2 334 L119.7 335.6 L120.2 337.5 L120.7 338.6 L121.2 339.9 L121.7 342.4 L122.2 344.8 L122.7 346.1 L123.2 346.3 L123.7 346.8 L124.2 349.5 L124.7 349.9 L125.2 350.7 L125.7 351 L126.2 355.6 L126.7 355.2 L127.2 354.1 L127.7 356.9 L128.2 358 L128.7 355.4 L129.2 357.5 L129.7 359.2 L130.2 360.8 L130.7 360.4 L131.2 361.4 L131.7 362.2 L132.2 364.2 L132.7 365.1 L133.2 363.6 L133.7 363.2 L134.2 366.6 L134.7 363.2 L135.2 363.6 L135.7 364.3 L136.2 365.1 L136.7 367.4 L137.2 366.6 L137.7 363.4 L138.2 368.2 L138.7 368.2 L139.2 370.7 L139.7 367.1 L140.2 364.7 L140.7 365 L141.2 368.8 L141.7 364 L142.2 360.8 L142.7 361.9 L143.2 361.3 L143.7 364.6 L144.2 360.1 L144.7 363.9 L145.2 364.4 L145.7 360.7 L146.2 362.6 L146.7 366.5 L147.2 368.5 L147.7 367.9 L148.2 365.9 L148.7 367 L149.2 362.9 L149.7 362.3 L150.2 360.7 L150.7 361.5 L151.2 361.2 L151.7 365.6 L152.2 359.8 L152.7 364.3 L153.2 365.1 L153.7 362.7 L154.2 365.2 L154.7 357.7 L155.2 362.3 L155.7 364.2 L156.2 356.9 L156.7 359 L157.2 363.5 L157.7 361.9 L158.2 360.2 L158.7 362.6 L159.2 364 L159.7 367.3 L160.2 366.4 L160.7 366.5 L161.2 365.4 L161.7 366.6 L162.2 368.3 L162.7 366.7 L163.2 366.9 L163.7 363.8 L164.2 361 L164.7 362.3 L165.2 364.4 L165.7 363.6 L166.2 361.7 L166.7 360.6 L167.2 363.8 L167.7 362.9 L168.2 364.4 L168.7 363.7 L169.2 365.1 L169.7 365.6 L170.2 366.9 L170.7 367.3 L171.2 369 L171.7 368.7 L172.2 367.3 L172.7 367.8 L173.2 369.6 L173.7 368.3 L174.2 369.8 L174.7 371.5 L175.2 366.7 L175.7 363.4 L176.2 367.3 L176.7 364.8 L177.2 365.9 L177.7 363.2 L178.2 369.8 L178.7 367.5 L179.2 366.2 L179.7 366 L180.2 367.1 L180.7 367.5 L181.2 366.1 L181.7 364.2 L182.2 368.9 L182.7 364.6 L183.2 364.1 L183.7 364.1 L184.2 358.7 L184.7 364.9 L185.2 362.2 L185.7 362.8 L186.2 363.8 L186.7 360.9 L187.2 366 L187.7 362.8 L188.2 362.2 L188.7 361.4 L189.2 362.6 L189.7 364.2 L190.2 362.7 L190.7 360.1 L191.2 365.1 L191.7 359 L192.2 364.9 L192.7 362.2 L193.2 360.6 L193.7 360.2 L194.2 364.2 L194.7 363.6 L195.2 362.7 L195.7 364.7 L196.2 366.8 L196.7 362 L197.2 360 L197.7 361.6 L198.2 361.5 L198.7 361.8 L199.2 362.8 L199.7 359.8 L200.2 362.7 L200.7 358.2 L201.2 359.7 L201.7 367.1 L202.2 364.3 L202.7 363.2 L203.2 363 L203.7 363.6 L204.2 362.2 L204.7 362 L205.2 358.6 L205.7 362.2 L206.2 360.1 L206.7 361 L207.2 361.4 L207.7 363.4 L208.2 364.4 L208.7 366.8 L209.2 362.5 L209.7 365.3 L210.2 368.1 L210.7 364.9 L211.2 365.4 L211.7 365.1 L212.2 365.2 L212.7 364 L213.2 358.8 L213.7 362.1 L214.2 362.9 L214.7 360.5 L215.2 360.8 L215.7 359.8 L216.2 358.3 L216.7 361.9 L217.2 361.1 L217.7 360.5 L218.2 360.6 L218.7 279 L219.2 235.7 L219.7 236.4 L220.2 238 L220.7 240.3 L221.2 243.1 L221.7 245.2 L222.2 246.4 L222.7 248.1 L223.2 249.9 L223.7 252.6 L224.2 255 L224.7 257.7 L225.2 256.5 L225.7 258.5 L226.2 263.8 L226.7 266.7 L227.2 269.2 L227.7 271.1 L228.2 273.1 L228.7 273.7 L229.2 273.1 L229.7 276.8 L230.2 277.2 L230.7 279.6 L231.2 280.6 L231.7 282.1 L232.2 283.4 L232.7 283 L233.2 284.2 L233.7 284.9 L234.2 286.7 L234.7 289.6 L235.2 288.5 L235.7 290.8 L236.2 291.3 L236.7 292.3 L237.2 292.5 L237.7 292 L238.2 294.3 L238.7 296 L239.2 294.1 L239.7 295.6 L240.2 295.6 L240.7 297.2 L241.2 296.5 L241.7 299.9 L242.2 298.7 L242.7 298.3 L243.2 302.1 L243.7 302 L244.2 301.9 L244.7 302.4 L245.2 302.4 L245.7 302.9 L246.2 304.9 L246.7 305.2 L247.2 306.1 L247.7 305.7 L248.2 306.2 L248.7 306.5 L249.2 308.6 L249.7 309 L250.2 308.3 L250.7 308.3 L251.2 310.8 L251.7 310.5 L252.2 310.8 L252.7 309.2 L253.2 310.7 L253.7 310.1 L254.2 310.9 L254.7 309.5 L255.2 312.3 L255.7 311.6 L256.2 311.3 L256.7 308.3 L257.2 306.9 L257.7 305.4 L258.2 300.3 L258.7 299.6 L259.2 296.5 L259.7 291.7 L260.2 289.3 L260.7 285.1 L261.2 284.3 L261.7 282 L262.2 281.7 L262.7 284.9 L263.2 285.3 L263.7 288.1 L264.2 288.7 L264.7 292.3 L265.2 296.7 L265.7 299.3 L266.2 300.7 L266.7 303.6 L267.2 304.2 L267.7 308.3 L268.2 309.4 L268.7 312.7 L269.2 314.2 L269.7 316.5 L270.2 319 L270.7 322.5 L271.2 321.9 L271.7 323.9 L272.2 327 L272.7 328 L273.2 331.9 L273.7 332.9 L274.2 334.6 L274.7 336.9 L275.2 340 L275.7 341 L276.2 342.2 L276.7 343.9 L277.2 343.9 L277.7 346 L278.2 348.7 L278.7 349.9 L279.2 351.3 L279.7 353.3 L280.2 353.4 L280.7 355.8 L281.2 356.3 L281.7 358.2 L282.2 358.2 L282.7 360.3 L283.2 360.9 L283.7 360.6 L284.2 361.5 L284.7 362 L285.2 362 L285.7 363 L286.2 361.4 L286.7 361.3 L287.2 362.9 L287.7 363.4 L288.2 364.6 L288.7 363.7 L289.2 364.2 L289.7 363.3 L290.2 364.3 L290.7 363.7 L291.2 362.5 L291.7 363.2 L292.2 364.2 L292.7 365.4 L293.2 359.3 L293.7 364.9 L294.2 365.9 L294.7 365.8 L295.2 367.5 L295.7 368.4 L296.2 365.1 L296.7 368 L297.2 366 L297.7 363.8 L298.2 366.3 L298.7 368.2 L299.2 362.1 L299.7 361.1 L300.2 361.4 L300.7 370 L301.2 364.9 L301.7 365.2 L302.2 364.4 L302.7 363.7 L303.2 362 L303.7 365.6 L304.2 365.9 L304.7 360.4 L305.2 362.8 L305.7 363.5 L306.2 364.4 L306.7 364.3 L307.2 366.3 L307.7 367 L308.2 366.4 L308.7 367.8 L309.2 362.9 L309.7 363.2 L310.2 367.1 L310.7 366.6 L311.2 367.1 L311.7 362.5 L312.2 363.5 L312.7 368.5 L313.2 366.8 L313.7 366 L314.2 365.6 L314.7 362.6 L315.2 366.4 L315.7 367.8 L316.2 369.2 L316.7 364 L317.2 363.6 L317.7 362.1 L318.2 365.7 L318.7 367.4 L319.2 362.9 L319.7 365 L320.2 363.8 L320.7 363.3 L321.2 358.8 L321.7 364.2 L322.2 367.2 L322.7 363.1 L323.2 362.9 L323.7 358 L324.2 366.7 L324.7 364.9 L325.2 363.3 L325.7 362.9 L326.2 361.7 L326.7 363.7 L327.2 363.3 L327.7 364.7 L328.2 364.1 L328.7 365 L329.2 368.3 L329.7 362 L330.2 366.8 L330.7 366.4 L331.2 363.9 L331.7 362.5 L332.2 368.3 L332.7 366.1 L333.2 366.2 L333.7 368.4 L334.2 365.1 L334.7 366.5 L335.2 364.8 L335.7 366 L336.2 365.6 L336.7 361.6 L337.2 365.9 L337.7 365.2 L338.2 366.4 L338.7 365.4 L339.2 368.3 L339.7 364.7 L340.2 368.2 L340.7 369.6 L341.2 365.2 L341.7 368.8 L342.2 363.1 L342.7 364.6 L343.2 363.7 L343.7 363.2 L344.2 361.9 L344.7 363.7 L345.2 363.9 L345.7 363.3 L346.2 367.1 L346.7 367.1 L347.2 361.6 L347.7 366 L348.2 364.9 L348.7 365.8 L349.2 369.7 L349.7 368.4 L350.2 366.4 L350.7 366.3 L351.2 360.1 L351.7 364.5 L352.2 361.3 L352.7 363.2 L353.2 362.3 L353.7 363.7 L354.2 366.9 L354.7 364.9 L355.2 364.6 L355.7 363.2 L356.2 366.3 L356.7 367.1 L357.2 361 L357.7 367.5 L358.2 362.3 L358.7 360.7 L359.2 366.1 L359.7 367.7 L360.2 362 L360.7 280.3 L361.2 239.7 L361.7 237.7 L362.2 236.6 L362.7 238.9 L363.2 242.3 L363.7 242.9 L364.2 245.4 L364.7 248.5 L365.2 250.2 L365.7 251.7 L366.2 253.6 L366.7 258.3 L367.2 259.9 L367.7 264.3 L368.2 269.1 L368.7 270.7 L369.2 272.3 L369.7 274.7 L370.2 278.1 L370.7 280.3 L371.2 280.7 L371.7 284.6 L372.2 287.3 L372.7 288.4 L373.2 288.1 L373.7 289.4 L374.2 289.2 L374.7 291.2 L375.2 294.7 L375.7 294.1 L376.2 293.7 L376.7 295.3 L377.2 295.7 L377.7 296.3 L378.2 296.4 L378.7 296.1 L379.2 297.2 L379.7 297.3 L380.2 296.4 L380.7 296.4 L381.2 297.7 L381.7 296.1 L382.2 297.1 L382.7 297.5 L383.2 298.5 L383.7 298.7 L384.2 298.7 L384.7 299.4 L385.2 298.9 L385.7 299.3 L386.2 299.4 L386.7 301.9 L387.2 299.3 L387.7 301.6 L388.2 302.2 L388.7 302.1 L389.2 302.1 L389.7 302 L390.2 302.6 L390.7 302.1 L391.2 301.9 L391.7 305.2 L392.2 303.7 L392.7 306.6 L393.2 306.9 L393.7 306.5 L394.2 308.8 L394.7 310.7 L395.2 309.5 L395.7 311.1 L396.2 312.5 L396.7 315.1 L397.2 317 L397.7 318 L398.2 318.8 L398.7 320 L399.2 323.4 L399.7 325.2 L400.2 326.1 L400.7 326.2 L401.2 329.2 L401.7 330.6 L402.2 332.3 L402.7 335.4 L403.2 335.7 L403.7 335.4 L404.2 336.4 L404.7 339.7 L405.2 340.4 L405.7 343.2 L406.2 343.7 L406.7 344.4 L407.2 347.2 L407.7 350.1 L408.2 350.7 L408.7 351.3 L409.2 353.5 L409.7 354.5 L410.2 356.1 L410.7 357.7 L411.2 359.3 L411.7 358.7 L412.2 358.8 L412.7 359.7 L413.2 360.3 L413.7 360.6 L414.2 360.6 L414.7 360.5 L415.2 360.4 L415.7 362.1 L416.2 361.5 L416.7 361.2 L417.2 362.4 L417.7 361.5 L418.2 363.4 L418.7 362.8 L419.2 363.4 L419.7 360 L420.2 361.3 L420.7 364.4 L421.2 361.7 L421.7 365 L422.2 360.1 L422.7 364.9 L423.2 365.7 L423.7 364 L424.2 364 L424.7 367.1 L425.2 361.4 L425.7 360.9 L426.2 362.8 L426.7 365 L427.2 365.1 L427.7 363.5 L428.2 363.8 L428.7 364.2 L429.2 359.7 L429.7 357.1 L430.2 361.1 L430.7 360.3 L431.2 362.6 L431.7 360.7 L432.2 361.5 L432.7 364.2 L433.2 363.2 L433.7 364.2 L434.2 368.4 L434.7 364.7 L435.2 366 L435.7 368.6 L436.2 363.2 L436.7 362.3 L437.2 369.2 L437.7 366.4 L438.2 366.5 L438.7 365.6 L439.2 365.2 L439.7 361.1 L440.2 362 L440.7 362 L441.2 363.9 L441.7 364 L442.2 365 L442.7 366.5 L443.2 371.8 L443.7 363.2 L444.2 367.9 L444.7 366.7 L445.2 365.5 L445.7 362.8 L446.2 368.6 L446.7 366.1 L447.2 364.7 L447.7 364.5 L448.2 364.1 L448.7 365.6 L449.2 367.5 L449.7 370.3 L450.2 364.4 L450.7 364.6 L451.2 362.6 L451.7 364.7 L452.2 364.2 L452.7 364.1 L453.2 362.1 L453.7 363.3 L454.2 365.4 L454.7 367.8 L455.2 367.5 L455.7 363.5 L456.2 366.3 L456.7 366.1 L457.2 364.9 L457.7 365.7 L458.2 367 L458.7 365.5 L459.2 364.1 L459.7 360.9 L460.2 364.3 L460.7 360.9 L461.2 364.9 L461.7 367.2 L462.2 363.3 L462.7 365.5 L463.2 365.8 L463.7 370.5 L464.2 367.4 L464.7 360.7 L465.2 365.6 L465.7 365.1 L466.2 362.4 L466.7 363.7 L467.2 365.2 L467.7 364.5 L468.2 363.5 L468.7 360.3 L469.2 363.4 L469.7 359.5 L470.2 359.3 L470.7 362.8 L471.2 360.8 L471.7 362.4 L472.2 368 L472.7 363.7 L473.2 360.8 L473.7 357.8 L474.2 361.7 L474.7 360.1 L475.2 358.6 L475.7 364.3 L476.2 361.5 L476.7 364.1 L477.2 369.5 L477.7 362.6 L478.2 362.7 L478.7 362.6 L479.2 360.9 L479.7 359 L480.2 360.7 L480.7 363.9 L481.2 361.4 L481.7 360.5 L482.2 361.3 L482.7 361.6 L483.2 363.5 L483.7 364.9 L484.2 366.3 L484.7 367.5 L485.2 364.2 L485.7 367.5 L486.2 366.8 L486.7 367.3 L487.2 362.7 L487.7 369.2 L488.2 364.5 L488.7 363.2 L489.2 366.2 L489.7 362.8 L490.2 366.9 L490.7 361.2 L491.2 359.9 L491.7 362.4 L492.2 361.8 L492.7 365.8 L493.2 368.8 L493.7 367.6 L494.2 365.7 L494.7 366.2 L495.2 369.9 L495.7 364.6 L496.2 364 L496.7 367.5 L497.2 366 L497.7 361.7 L498.2 361 L498.7 356.9 L499.2 362.9 L499.7 359.8 L500.2 356.4 L500.7 356.6 L501.2 357 L501.7 362.3 L502.2 360.6 L502.7 357 L503.2 362.5 L503.7 281.6 L504.2 235 L504.7 234.8 L505.2 239.1 L505.7 239 L506.2 241.5 L506.7 243.3 L507.2 247.9 L507.7 251.1 L508.2 253.1 L508.7 255.2 L509.2 257.1 L509.7 259.9 L510.2 259.9 L510.7 265.4 L511.2 266.5 L511.7 269 L512.2 271.5 L512.7 274.7 L513.2 276.8 L513.7 280.4 L514.2 279.8 L514.7 281.6 L515.2 283.7 L515.7 284.8 L516.2 287.3 L516.7 287.1 L517.2 288.8 L517.7 290.1 L518.2 290.7 L518.7 290.9 L519.2 292.4 L519.7 292.6 L520.2 289.6 L520.7 292.4 L521.2 292.2 L521.7 292.1 L522.2 292.7 L522.7 294 L523.2 295 L523.7 295.3 L524.2 297.2 L524.7 297.8 L525.2 295.8 L525.7 296.1 L526.2 298 L526.7 297.7 L527.2 299.2 L527.7 299.5 L528.2 300.4 L528.7 300.6 L529.2 302.1 L529.7 301.4 L530.2 302.7 L530.7 302 L531.2 303.4 L531.7 303.8 L532.2 303.7 L532.7 303.3 L533.2 306.5 L533.7 306.4 L534.2 306.6 L534.7 306.7 L535.2 307.3 L535.7 307.6 L536.2 307.5 L536.7 308.5 L537.2 308 L537.7 307.6 L538.2 309.4 L538.7 308.7 L539.2 309.8 L539.7 308.4 L540.2 309.8 L540.7 309.7 L541.2 307.7 L541.7 306.7 L542.2 304.7 L542.7 301.3 L543.2 300.7 L543.7 295.8 L544.2 293.4 L544.7 291.3 L545.2 287.3 L545.7 284.8 L546.2 283.9 L546.7 281 L547.2 280.8 L547.7 276.9 L548.2 276.6 L548.7 277.8 L549.2 278.7 L549.7 282.9 L550.2 284.3 L550.7 289.3 L551.2 293.5 L551.7 296.7 L552.2 300.5 L552.7 302.6 L553.2 304.8 L553.7 306.9 L554.2 311 L554.7 313.1 L555.2 317.2 L555.7 319.9 L556.2 321.6 L556.7 323.3 L557.2 326.1 L557.7 328.6 L558.2 330.5 L558.7 333.5 L559.2 334.4 L559.7 335.8 L560.2 337.3 L560.7 339.5 L561.2 342.1 L561.7 342.2 L562.2 344.1 L562.7 344.5 L563.2 347.3 L563.7 346.3 L564.2 347.9 L564.7 350.1 L565.2 351.4 L565.7 350.7 L566.2 352.9 L566.7 350.9 L567.2 353.5 L567.7 354.1 L568.2 353.5 L568.7 354 L569.2 355.8 L569.7 356.7 L570.2 357.9 L570.7 358.8 L571.2 360.1 L571.7 361.5 L572.2 359.9 L572.7 361.6 L573.2 362 L573.7 363.8 L574.2 363.5 L574.7 364.8 L575.2 363.8 L575.7 366 L576.2 363.6 L576.7 363.7 L577.2 363.5 L577.7 363.5 L578.2 365.1 L578.7 362 L579.2 361.7 L579.7 363.1 L580.2 363.7 L580.7 361.6 L581.2 364.5 L581.7 362.2 L582.2 360.2 L582.7 361.4 L583.2 361.8 L583.7 362.3 L584.2 358.8 L584.7 363.1 L585.2 363.5 L585.7 361 L586.2 363.5 L586.7 359.7 L587.2 362 L587.7 362.8 L588.2 364.8 L588.7 365.4 L589.2 365.2 L589.7 364.3 L590.2 364.2 L590.7 368.5 L591.2 361.6 L591.7 362.5 L592.2 364.2 L592.7 363.1 L593.2 363.5 L593.7 366.4 L594.2 364.5 L594.7 363.4 L595.2 364.4 L595.7 362.8 L596.2 362.6 L596.7 359.7 L597.2 359.7 L597.7 361 L598.2 363.5 L598.7 361.2 L599.2 364.3 L599.7 364.8 L600.2 365.7 L600.7 362.4 L601.2 366.5 L601.7 366.3 L602.2 368.9 L602.7 364.9 L603.2 364.5 L603.7 364.1 L604.2 364.6 L604.7 360.9 L605.2 365.5 L605.7 365.8 L606.2 367.6 L606.7 363.4 L607.2 364.9 L607.7 369.5 L608.2 364.1 L608.7 366.4 L609.2 363 L609.7 362.2 L610.2 363.5 L610.7 363.8 L611.2 361.6 L611.7 361.7 L612.2 367.7 L612.7 363.4 L613.2 365.1 L613.7 366.1 L614.2 366.3 L614.7 364.5 L615.2 365.6 L615.7 363.3 L616.2 365.3 L616.7 363.8 L617.2 365.2 L617.7 368.5 L618.2 366.1 L618.7 363.6 L619.2 360.5 L619.7 364 L620.2 364.8 L620.7 362.2 L621.2 364.3 L621.7 362.9 L622.2 364.5 L622.7 363.9 L623.2 362.4 L623.7 364.6 L624.2 362.5 L624.7 369.1" fill="none" stroke="#231f20" stroke-width="3" stroke-linejoin="round" stroke-linecap="round"/>
<polygon fill="#ff0000" points="262.5,231.6 268.3,251 281.6,251.9 270.9,262.6 275.6,280.5 262.5,269.6 250,280.5 254,262.6 243.3,251.9 257.6,251"/>
<polygon fill="#ff0000" points="547.9,226 552.6,247 565.2,247.6 555.6,257.6 560.2,276.5 547.9,265.6 535.6,276.5 540,257.6 530.3,247.6 543,247"/>
<text x="25" y="75.3" font-size="35.5" fill="#000" textLength="207" lengthAdjust="spacingAndGlyphs">0 µM E4031</text>
<text x="26.5" y="228" font-size="35.5" fill="#000" textLength="205.5" lengthAdjust="spacingAndGlyphs">2 µM E4031</text>
<line x1="38.5" y1="395" x2="622" y2="395" stroke="#8e8e8e" stroke-width="2.6" stroke-linecap="butt"/>
<line x1="39.5" y1="380.5" x2="39.5" y2="395" stroke="#8e8e8e" stroke-width="2.4" stroke-linecap="butt"/>
<line x1="75" y1="388.5" x2="75" y2="395" stroke="#8e8e8e" stroke-width="2.4" stroke-linecap="butt"/>
<line x1="110.5" y1="388.5" x2="110.5" y2="395" stroke="#8e8e8e" stroke-width="2.4" stroke-linecap="butt"/>
<line x1="146.1" y1="388.5" x2="146.1" y2="395" stroke="#8e8e8e" stroke-width="2.4" stroke-linecap="butt"/>
<line x1="181.6" y1="380.5" x2="181.6" y2="395" stroke="#8e8e8e" stroke-width="2.4" stroke-linecap="butt"/>
<line x1="217.1" y1="388.5" x2="217.1" y2="395" stroke="#8e8e8e" stroke-width="2.4" stroke-linecap="butt"/>
<line x1="252.6" y1="388.5" x2="252.6" y2="395" stroke="#8e8e8e" stroke-width="2.4" stroke-linecap="butt"/>
<line x1="288.2" y1="388.5" x2="288.2" y2="395" stroke="#8e8e8e" stroke-width="2.4" stroke-linecap="butt"/>
<line x1="323.7" y1="380.5" x2="323.7" y2="395" stroke="#8e8e8e" stroke-width="2.4" stroke-linecap="butt"/>
<line x1="359.2" y1="388.5" x2="359.2" y2="395" stroke="#8e8e8e" stroke-width="2.4" stroke-linecap="butt"/>
<line x1="394.8" y1="388.5" x2="394.8" y2="395" stroke="#8e8e8e" stroke-width="2.4" stroke-linecap="butt"/>
<line x1="430.3" y1="388.5" x2="430.3" y2="395" stroke="#8e8e8e" stroke-width="2.4" stroke-linecap="butt"/>
<line x1="465.8" y1="380.5" x2="465.8" y2="395" stroke="#8e8e8e" stroke-width="2.4" stroke-linecap="butt"/>
<line x1="501.3" y1="388.5" x2="501.3" y2="395" stroke="#8e8e8e" stroke-width="2.4" stroke-linecap="butt"/>
<line x1="536.8" y1="388.5" x2="536.8" y2="395" stroke="#8e8e8e" stroke-width="2.4" stroke-linecap="butt"/>
<line x1="572.4" y1="388.5" x2="572.4" y2="395" stroke="#8e8e8e" stroke-width="2.4" stroke-linecap="butt"/>
<line x1="607.9" y1="380.5" x2="607.9" y2="395" stroke="#8e8e8e" stroke-width="2.4" stroke-linecap="butt"/>
<text x="39.5" y="433" font-size="26.5" fill="#959595" text-anchor="middle" textLength="39" lengthAdjust="spacingAndGlyphs">0.0</text>
<text x="181.6" y="433" font-size="26.5" fill="#959595" text-anchor="middle" textLength="39" lengthAdjust="spacingAndGlyphs">2.0</text>
<text x="323.7" y="433" font-size="26.5" fill="#959595" text-anchor="middle" textLength="39" lengthAdjust="spacingAndGlyphs">4.0</text>
<text x="465.8" y="433" font-size="26.5" fill="#959595" text-anchor="middle" textLength="39" lengthAdjust="spacingAndGlyphs">6.0</text>
<text x="607.9" y="433" font-size="26.5" fill="#959595" text-anchor="middle" textLength="39" lengthAdjust="spacingAndGlyphs">8.0</text>
<text x="264" y="463.6" font-size="25" fill="#959595" textLength="133" lengthAdjust="spacingAndGlyphs">Time (sec)</text>
<path d="M19 715.7 L19.5 716.7 L20 716.4 L20.5 713.3 L21 714.1 L21.5 713.2 L22 715.2 L22.5 714.5 L23 716.5 L23.5 712.9 L24 719.1 L24.5 717 L25 718.9 L25.5 717.6 L26 718.3 L26.5 718.6 L27 718.7 L27.5 714.9 L28 714.5 L28.5 715.8 L29 713.2 L29.5 711.8 L30 713.8 L30.5 711 L31 709 L31.5 711.4 L32 712.3 L32.5 711.7 L33 710.1 L33.5 712.1 L34 713 L34.5 711.2 L35 710.2 L35.5 711.5 L36 711.6 L36.5 710.3 L37 712.4 L37.5 713.6 L38 711.4 L38.5 710.5 L39 711.8 L39.5 711 L40 712.7 L40.5 709.3 L41 710 L41.5 708.5 L42 706.8 L42.5 709.8 L43 710.8 L43.5 709.6 L44 714.1 L44.5 713 L45 713 L45.5 713.1 L46 714 L46.5 711.4 L47 714.2 L47.5 713.4 L48 709.8 L48.5 712.3 L49 711.3 L49.5 711.9 L50 710.6 L50.5 711 L51 710.1 L51.5 708.7 L52 712.5 L52.5 712 L53 713.1 L53.5 712 L54 715.2 L54.5 714.4 L55 713.3 L55.5 715.1 L56 716 L56.5 716.1 L57 709.5 L57.5 713.4 L58 712.8 L58.5 711.7 L59 710.2 L59.5 713.9 L60 710.9 L60.5 713.2 L61 713.5 L61.5 709.9 L62 712.7 L62.5 712 L63 714.3 L63.5 716 L64 717.1 L64.5 711.7 L65 713.8 L65.5 716.7 L66 717.4 L66.5 715.2 L67 712.1 L67.5 713.7 L68 713.2 L68.5 712 L69 709.5 L69.5 710.7 L70 710.4 L70.5 710.1 L71 709.5 L71.5 708.4 L72 710 L72.5 713 L73 710.8 L73.5 709.9 L74 714.3 L74.5 712.5 L75 714.2 L75.5 711.3 L76 709.9 L76.5 709.1 L77 712.8 L77.5 715 L78 709.6 L78.5 710.9 L79 712.8 L79.5 711.2 L80 711.8 L80.5 712 L81 711.8 L81.5 713.7 L82 711.6 L82.5 713.1 L83 710.9 L83.5 712.3 L84 708.5 L84.5 709.5 L85 711.8 L85.5 709.6 L86 711.4 L86.5 711.8 L87 712.2 L87.5 710.8 L88 711.3 L88.5 710.2 L89 710.1 L89.5 711.2 L90 711.8 L90.5 709.4 L91 711 L91.5 712.7 L92 713.6 L92.5 713.1 L93 710.1 L93.5 712.4 L94 712.6 L94.5 712.8 L95 712.8 L95.5 710.5 L96 709.8 L96.5 712.8 L97 704.8 L97.5 697.7 L98 688.7 L98.5 676.2 L99 664 L99.5 647.8 L100 631.4 L100.5 618.1 L101 609.8 L101.5 605.9 L102 601.2 L102.5 599.2 L103 597.4 L103.5 596.5 L104 595.7 L104.5 596.8 L105 597.7 L105.5 597.9 L106 599.3 L106.5 600.4 L107 601.6 L107.5 602.9 L108 603.9 L108.5 605 L109 606 L109.5 607.8 L110 608.3 L110.5 610.8 L111 610.8 L111.5 612.1 L112 613.2 L112.5 614.4 L113 617.1 L113.5 618.3 L114 619.1 L114.5 621 L115 624.4 L115.5 625 L116 626.5 L116.5 629.6 L117 630.8 L117.5 635.8 L118 635.1 L118.5 638.6 L119 640.6 L119.5 641.3 L120 644.6 L120.5 646.3 L121 648 L121.5 649.9 L122 652 L122.5 653.9 L123 657.1 L123.5 659.6 L124 663.4 L124.5 666.2 L125 672.3 L125.5 679.2 L126 685.6 L126.5 689.9 L127 691.8 L127.5 691.6 L128 690.9 L128.5 692.2 L129 691.5 L129.5 692.4 L130 692.7 L130.5 691.5 L131 693.8 L131.5 693.7 L132 695.1 L132.5 695.2 L133 695.8 L133.5 696.7 L134 698.7 L134.5 699.8 L135 698.9 L135.5 700.1 L136 699.4 L136.5 698.3 L137 700.2 L137.5 700.9 L138 701.2 L138.5 701.9 L139 702.7 L139.5 702 L140 702.3 L140.5 703.8 L141 704 L141.5 704.7 L142 705.9 L142.5 706.4 L143 705 L143.5 705.9 L144 706.3 L144.5 706.2 L145 707 L145.5 706.8 L146 707.6 L146.5 709 L147 708.9 L147.5 708.4 L148 709.3 L148.5 710.5 L149 710.3 L149.5 710.3 L150 712 L150.5 710.5 L151 712.1 L151.5 711.5 L152 711.1 L152.5 713.4 L153 713.3 L153.5 712.4 L154 712.8 L154.5 712.3 L155 711.1 L155.5 712.1 L156 713.1 L156.5 713.7 L157 713.8 L157.5 713.6 L158 713.9 L158.5 714.8 L159 716.4 L159.5 715.3 L160 715.5 L160.5 715.8 L161 714.2 L161.5 714.5 L162 718 L162.5 716.8 L163 714.8 L163.5 715 L164 713.9 L164.5 714.9 L165 714.3 L165.5 715.1 L166 711.6 L166.5 716.1 L167 713.6 L167.5 712.8 L168 715.6 L168.5 714.7 L169 715.9 L169.5 712.9 L170 715.3 L170.5 720 L171 712.7 L171.5 714.4 L172 713.4 L172.5 714.9 L173 712.9 L173.5 712.8 L174 715.2 L174.5 713.8 L175 717.3 L175.5 713.6 L176 715.4 L176.5 719.2 L177 713 L177.5 712.6 L178 715.2 L178.5 715.6 L179 717.5 L179.5 715.2 L180 713.1 L180.5 714.2 L181 717.2 L181.5 714.9 L182 708.9 L182.5 711.9 L183 710.6 L183.5 712.6 L184 712.3 L184.5 715.8 L185 714.8 L185.5 715.5 L186 714.4 L186.5 714 L187 714.8 L187.5 716.5 L188 716.4 L188.5 715 L189 718.1 L189.5 716.2 L190 715.5 L190.5 714 L191 713.6 L191.5 713.5 L192 709.9 L192.5 714.6 L193 714.5 L193.5 712.9 L194 715.3 L194.5 714.8 L195 715.3 L195.5 711 L196 714.5 L196.5 717.2 L197 719.4 L197.5 719.6 L198 719.2 L198.5 715.1 L199 712.9 L199.5 716.3 L200 715.9 L200.5 717.7 L201 714.6 L201.5 714.7 L202 711.4 L202.5 714.2 L203 711.8 L203.5 712.9 L204 713.4 L204.5 711.5 L205 711.3 L205.5 710.7 L206 711.5 L206.5 711.4 L207 709.6 L207.5 710.1 L208 713.8 L208.5 710.7 L209 713.4 L209.5 713.1 L210 711.7 L210.5 712 L211 713.3 L211.5 713.8 L212 715.1 L212.5 712.5 L213 714 L213.5 714.7 L214 717 L214.5 710.6 L215 715 L215.5 713.5 L216 714.9 L216.5 712.8 L217 714.3 L217.5 715.5 L218 713.5 L218.5 712.9 L219 713.3 L219.5 710.6 L220 712.2 L220.5 711.4 L221 710.3 L221.5 711.2 L222 711.6 L222.5 712.8 L223 712.2 L223.5 711.2 L224 715.6 L224.5 715.4 L225 715.7 L225.5 714.2 L226 713.6 L226.5 712.3 L227 712.8 L227.5 714.3 L228 714.1 L228.5 710.2 L229 712.6 L229.5 710.7 L230 712.8 L230.5 710.3 L231 711.5 L231.5 713.9 L232 713.3 L232.5 709.7 L233 713.6 L233.5 714.7 L234 708.5 L234.5 715.2 L235 711.5 L235.5 711 L236 710.8 L236.5 710 L237 714.7 L237.5 713.6 L238 712.8 L238.5 713.4 L239 711.8 L239.5 703.5 L240 693.7 L240.5 679.2 L241 662.6 L241.5 641.6 L242 623 L242.5 611.7 L243 605.8 L243.5 601.5 L244 599.4 L244.5 597 L245 597.1 L245.5 598.7 L246 599.1 L246.5 598.6 L247 599.4 L247.5 601 L248 600.3 L248.5 602.9 L249 603.4 L249.5 607.1 L250 607.1 L250.5 608.7 L251 610.3 L251.5 610 L252 614.3 L252.5 616.6 L253 616.5 L253.5 619.1 L254 620.7 L254.5 620.3 L255 623.9 L255.5 626 L256 627 L256.5 628.4 L257 630.9 L257.5 631.8 L258 634.6 L258.5 637.4 L259 637.9 L259.5 641.3 L260 642.8 L260.5 643.8 L261 647.5 L261.5 649.3 L262 652.3 L262.5 653.9 L263 657.7 L263.5 659.4 L264 662.7 L264.5 664.7 L265 668.1 L265.5 672.7 L266 675.7 L266.5 678.3 L267 680.8 L267.5 686.1 L268 688.4 L268.5 689.9 L269 691.5 L269.5 691.1 L270 691.6 L270.5 692.8 L271 694.3 L271.5 695.2 L272 694.4 L272.5 695.9 L273 696.3 L273.5 696.4 L274 697.9 L274.5 697.5 L275 697.7 L275.5 698.7 L276 699.1 L276.5 700.5 L277 700.1 L277.5 702.7 L278 701.8 L278.5 702.6 L279 702.7 L279.5 704.6 L280 705.3 L280.5 705.4 L281 705.9 L281.5 704.1 L282 705.4 L282.5 706.1 L283 706.1 L283.5 707.8 L284 708.2 L284.5 708.6 L285 709.4 L285.5 708.7 L286 709.7 L286.5 710.1 L287 711.5 L287.5 712.2 L288 713 L288.5 713.7 L289 713 L289.5 714.3 L290 715.3 L290.5 714.2 L291 715 L291.5 716.2 L292 716.2 L292.5 716.4 L293 715.2 L293.5 714.7 L294 715.6 L294.5 714.3 L295 714.8 L295.5 715.3 L296 714.3 L296.5 714.6 L297 715.6 L297.5 716 L298 715.8 L298.5 715.6 L299 715.7 L299.5 714.2 L300 714.6 L300.5 715.7 L301 714.1 L301.5 711.1 L302 711.9 L302.5 712.4 L303 713.2 L303.5 712.5 L304 714.5 L304.5 716.9 L305 714.7 L305.5 715.7 L306 715.4 L306.5 713 L307 713.6 L307.5 712.8 L308 715.1 L308.5 712.3 L309 715.5 L309.5 713.7 L310 710.1 L310.5 714.8 L311 715.5 L311.5 712.9 L312 714.8 L312.5 710.9 L313 713.5 L313.5 711.5 L314 714.4 L314.5 710.3 L315 707.5 L315.5 713.2 L316 715.6 L316.5 711.6 L317 714 L317.5 712.6 L318 711.3 L318.5 712.5 L319 715.4 L319.5 712.6 L320 714.3 L320.5 713.9 L321 712 L321.5 717.2 L322 716.9 L322.5 712.8 L323 717.7 L323.5 713.9 L324 712.8 L324.5 715.8 L325 714 L325.5 713.4 L326 714.3 L326.5 714.8 L327 714.3 L327.5 710.6 L328 710.8 L328.5 714 L329 711.5 L329.5 713.2 L330 712 L330.5 712.8 L331 711.2 L331.5 716.1 L332 712.3 L332.5 713.4 L333 713.9 L333.5 715.3 L334 710.6 L334.5 711.8 L335 712.4 L335.5 713.9 L336 712.9 L336.5 710.4 L337 711.5 L337.5 710.5 L338 712.1 L338.5 711.1 L339 711.2 L339.5 711.6 L340 711.6 L340.5 713.2 L341 709.2 L341.5 709.9 L342 711.6 L342.5 705.9 L343 707.2 L343.5 707.5 L344 708.5 L344.5 713.8 L345 712.1 L345.5 713.7 L346 712.1 L346.5 708.1 L347 708.4 L347.5 712.9 L348 712.4 L348.5 711.1 L349 714.1 L349.5 710.5 L350 714.5 L350.5 714.8 L351 712 L351.5 710.6 L352 713.3 L352.5 709.4 L353 712.2 L353.5 708.6 L354 710.1 L354.5 709.1 L355 709.2 L355.5 707.6 L356 709.5 L356.5 706.3 L357 708.3 L357.5 707.5 L358 709.1 L358.5 706.4 L359 711 L359.5 707.4 L360 706.4 L360.5 710.6 L361 711.5 L361.5 709.1 L362 708.5 L362.5 710.1 L363 709.5 L363.5 710.4 L364 713.2 L364.5 711.5 L365 711.3 L365.5 711.5 L366 711.3 L366.5 712.1 L367 712.1 L367.5 710.9 L368 711.2 L368.5 715.1 L369 713.1 L369.5 711.8 L370 715.1 L370.5 711.5 L371 710.5 L371.5 712.9 L372 709.6 L372.5 710.1 L373 710.7 L373.5 709.6 L374 708.8 L374.5 708.2 L375 708 L375.5 710.3 L376 707.7 L376.5 708.1 L377 713.3 L377.5 709.9 L378 712.8 L378.5 712.6 L379 711.5 L379.5 709.5 L380 707.3 L380.5 699.3 L381 687.9 L381.5 673.7 L382 652.3 L382.5 620.9 L383 599.6 L383.5 596.7 L384 592.4 L384.5 590.5 L385 590.6 L385.5 592.4 L386 591.9 L386.5 590.9 L387 592.5 L387.5 593 L388 593.5 L388.5 594.1 L389 594.5 L389.5 596.4 L390 595.6 L390.5 596.6 L391 597.8 L391.5 599 L392 601.4 L392.5 602.6 L393 602.9 L393.5 603.6 L394 604.8 L394.5 607.4 L395 608.2 L395.5 609 L396 609.5 L396.5 610.6 L397 612.6 L397.5 613.4 L398 618.4 L398.5 619.6 L399 621.5 L399.5 624.2 L400 625.7 L400.5 628.2 L401 629.6 L401.5 630.8 L402 633.8 L402.5 636.3 L403 636.9 L403.5 641.7 L404 644 L404.5 648.3 L405 653.5 L405.5 658.2 L406 662.5 L406.5 664.5 L407 666.9 L407.5 669.1 L408 671.8 L408.5 674 L409 675.6 L409.5 678.7 L410 679 L410.5 679.9 L411 684.7 L411.5 683.3 L412 683.8 L412.5 686.7 L413 687 L413.5 686.3 L414 686.2 L414.5 687.5 L415 690 L415.5 689.6 L416 689.8 L416.5 690.6 L417 691.9 L417.5 690.6 L418 691.8 L418.5 692 L419 694.7 L419.5 694.4 L420 694.1 L420.5 693.3 L421 694.7 L421.5 693 L422 694.9 L422.5 694.4 L423 694.9 L423.5 696 L424 697 L424.5 698.1 L425 698.6 L425.5 698.8 L426 698.8 L426.5 701.5 L427 701.3 L427.5 702.6 L428 701.4 L428.5 700.1 L429 702.1 L429.5 704.9 L430 703.7 L430.5 703.8 L431 704.3 L431.5 704.4 L432 704.5 L432.5 703.7 L433 704.5 L433.5 705 L434 704.8 L434.5 704.9 L435 705.5 L435.5 706.6 L436 706.1 L436.5 706.2 L437 706.5 L437.5 708.1 L438 706 L438.5 705.9 L439 706.8 L439.5 705.5 L440 705.1 L440.5 705.6 L441 706.5 L441.5 704.7 L442 704.5 L442.5 705.2 L443 704 L443.5 707 L444 705.6 L444.5 704 L445 707.1 L445.5 704.5 L446 704.8 L446.5 706.6 L447 704.3 L447.5 707.2 L448 702.8 L448.5 704.9 L449 705.3 L449.5 707.1 L450 706.5 L450.5 705.8 L451 706 L451.5 704.9 L452 706.1 L452.5 702.5 L453 704.3 L453.5 703.8 L454 704.2 L454.5 703.5 L455 706.7 L455.5 702.5 L456 705.4 L456.5 705.8 L457 707.1 L457.5 707.1 L458 706.6 L458.5 706.9 L459 703.1 L459.5 706 L460 702.9 L460.5 705.6 L461 703.1 L461.5 703.4 L462 704.8 L462.5 707.3 L463 706.3 L463.5 705.6 L464 707.2 L464.5 703.8 L465 700.7 L465.5 704 L466 704.3 L466.5 706.4 L467 708.1 L467.5 702.8 L468 710 L468.5 708 L469 706.8 L469.5 706.9 L470 710.4 L470.5 707.2 L471 705.8 L471.5 706.9 L472 704.2 L472.5 705.6 L473 705.8 L473.5 706.5 L474 706.3 L474.5 703.8 L475 707.4 L475.5 704.7 L476 706.6 L476.5 703.2 L477 705.8 L477.5 702.8 L478 705.3 L478.5 704.6 L479 702.5 L479.5 703.8 L480 705.4 L480.5 706.6 L481 702.8 L481.5 702.6 L482 704.9 L482.5 704.9 L483 703.4 L483.5 703.1 L484 706.4 L484.5 706.8 L485 706.1 L485.5 704 L486 705.8 L486.5 705.6 L487 703.9 L487.5 708.2 L488 705.9 L488.5 705.4 L489 707.2 L489.5 706.7 L490 707 L490.5 706.2 L491 705.7 L491.5 702.8 L492 704 L492.5 706.3 L493 703 L493.5 705.7 L494 706.2 L494.5 708.6 L495 709.5 L495.5 709 L496 707.8 L496.5 709.1 L497 708.6 L497.5 707.5 L498 709.5 L498.5 708.8 L499 706.6 L499.5 709.3 L500 706.7 L500.5 707.2 L501 704 L501.5 706.3 L502 705.1 L502.5 704.5 L503 702.2 L503.5 707.9 L504 704 L504.5 704.4 L505 704.8 L505.5 703.2 L506 704.3 L506.5 701 L507 703.8 L507.5 702.1 L508 704.5 L508.5 704.3 L509 702.1 L509.5 701.6 L510 703 L510.5 706 L511 705.2 L511.5 705.2 L512 703 L512.5 700.7 L513 703.3 L513.5 704.3 L514 704.9 L514.5 706 L515 706.1 L515.5 704.8 L516 705 L516.5 706.1 L517 706 L517.5 706.3 L518 709.3 L518.5 705 L519 705.6 L519.5 702.9 L520 704 L520.5 705.7 L521 706 L521.5 705.2 L522 705 L522.5 701.2 L523 690.8 L523.5 677.3 L524 663.3 L524.5 626.5 L525 601 L525.5 592.4 L526 589.2 L526.5 590.2 L527 587.6 L527.5 590.3 L528 591.8 L528.5 592.3 L529 593.2 L529.5 592.5 L530 595.9 L530.5 594.1 L531 595.2 L531.5 597.4 L532 598.9 L532.5 598.6 L533 600.6 L533.5 600.5 L534 601.8 L534.5 604.1 L535 605.7 L535.5 606.8 L536 606.5 L536.5 607 L537 608 L537.5 609.9 L538 612 L538.5 612.7 L539 613.4 L539.5 615.6 L540 617.4 L540.5 619.1 L541 620.7 L541.5 622.6 L542 625.5 L542.5 627.2 L543 629.7 L543.5 631.5 L544 634.6 L544.5 636.1 L545 637.3 L545.5 641.6 L546 643.1 L546.5 646 L547 648.2 L547.5 651.1 L548 654 L548.5 657.1 L549 659.8 L549.5 662 L550 668.2 L550.5 669.2 L551 673.7 L551.5 677.1 L552 679.4 L552.5 682 L553 683.9 L553.5 686.8 L554 687.4 L554.5 690.4 L555 689 L555.5 691 L556 691.9 L556.5 692.7 L557 694.5 L557.5 696.6 L558 695.4 L558.5 695.7 L559 697.5 L559.5 698.1 L560 699.4 L560.5 699.1 L561 699.2 L561.5 699.3 L562 700.6 L562.5 701.2 L563 701.3 L563.5 702.8 L564 702.9 L564.5 703.6 L565 704.2 L565.5 705.8 L566 705.3 L566.5 705.4 L567 704.3 L567.5 704.8 L568 706.4 L568.5 707.8 L569 707.9 L569.5 708.4 L570 709.8 L570.5 710.4 L571 709.9 L571.5 711.1 L572 711.1 L572.5 711.6 L573 710.8 L573.5 711.8 L574 712.5 L574.5 712.3 L575 711.7 L575.5 712 L576 712.5 L576.5 713.3 L577 713.7 L577.5 713.4 L578 712.1 L578.5 714.6 L579 713.7 L579.5 713.3 L580 713.6 L580.5 713.1 L581 713.1 L581.5 713.2 L582 713.4 L582.5 711 L583 705.5 L583.5 711.6 L584 713.4 L584.5 714.6 L585 712.9 L585.5 717.4 L586 717.4 L586.5 717.4 L587 717 L587.5 714.7 L588 716.6 L588.5 715.7 L589 714.8 L589.5 716.4 L590 714.9 L590.5 712 L591 712.4 L591.5 712.4 L592 712.2 L592.5 711.2 L593 712.7 L593.5 709.1 L594 712.1 L594.5 709.9 L595 712.5 L595.5 714.6 L596 713.6 L596.5 712.9 L597 714 L597.5 716.5 L598 712 L598.5 714.4 L599 711 L599.5 712.5 L600 713.3 L600.5 711.7" fill="none" stroke="#333333" stroke-width="3.6" stroke-linejoin="round" stroke-linecap="round"/>
<path d="M19.7 891.3 L20.2 883.7 L20.7 889.4 L21.2 889 L21.7 890.6 L22.2 886.7 L22.7 889.4 L23.2 887.2 L23.7 886.9 L24.2 888.7 L24.7 890 L25.2 888.9 L25.7 887.6 L26.2 888.6 L26.7 890.6 L27.2 888.3 L27.7 887.2 L28.2 883.3 L28.7 887.8 L29.2 883.2 L29.7 885.9 L30.2 884.6 L30.7 887.2 L31.2 886 L31.7 884.2 L32.2 886.9 L32.7 884.1 L33.2 887.2 L33.7 883.4 L34.2 885.8 L34.7 887.4 L35.2 886.6 L35.7 885.2 L36.2 884.6 L36.7 885 L37.2 887.5 L37.7 887.4 L38.2 885.6 L38.7 884.4 L39.2 887.1 L39.7 883.8 L40.2 885.1 L40.7 883.9 L41.2 886.3 L41.7 884.3 L42.2 884.4 L42.7 884.7 L43.2 883.3 L43.7 884.8 L44.2 886.3 L44.7 884.5 L45.2 886 L45.7 884.6 L46.2 887 L46.7 886.3 L47.2 886 L47.7 884.2 L48.2 887 L48.7 884.5 L49.2 884.3 L49.7 883.9 L50.2 885.5 L50.7 884.5 L51.2 884.3 L51.7 886.4 L52.2 888.9 L52.7 887.2 L53.2 881.4 L53.7 883.8 L54.2 883.9 L54.7 883.9 L55.2 884.2 L55.7 888 L56.2 884.6 L56.7 883.4 L57.2 886.2 L57.7 885.4 L58.2 886.4 L58.7 885.2 L59.2 886.5 L59.7 887.2 L60.2 884.1 L60.7 884.1 L61.2 888.1 L61.7 887.1 L62.2 884.9 L62.7 883 L63.2 884 L63.7 881.7 L64.2 883.5 L64.7 886.1 L65.2 884.5 L65.7 885.8 L66.2 883.9 L66.7 885 L67.2 887.8 L67.7 883.8 L68.2 885.4 L68.7 885.8 L69.2 887.1 L69.7 888.7 L70.2 887 L70.7 883.3 L71.2 884.5 L71.7 882.5 L72.2 882.1 L72.7 887.4 L73.2 883.1 L73.7 884.1 L74.2 882.8 L74.7 885.7 L75.2 885.4 L75.7 885.4 L76.2 885.8 L76.7 888.1 L77.2 885.1 L77.7 886.3 L78.2 885.7 L78.7 889.5 L79.2 886.3 L79.7 884.9 L80.2 885.8 L80.7 890.2 L81.2 886.2 L81.7 886.5 L82.2 884.6 L82.7 883.6 L83.2 882.6 L83.7 883.5 L84.2 883.6 L84.7 880.7 L85.2 863.9 L85.7 817.7 L86.2 791.9 L86.7 774.8 L87.2 766 L87.7 766.8 L88.2 766 L88.7 767.1 L89.2 766.1 L89.7 768.5 L90.2 770.2 L90.7 769.3 L91.2 770.3 L91.7 770.3 L92.2 772.1 L92.7 773.1 L93.2 773.5 L93.7 774 L94.2 775.5 L94.7 776.1 L95.2 776.7 L95.7 779.5 L96.2 781.2 L96.7 781.5 L97.2 783.5 L97.7 787.3 L98.2 787.8 L98.7 789.3 L99.2 793.8 L99.7 793.8 L100.2 794.3 L100.7 797 L101.2 799.9 L101.7 804.3 L102.2 807.6 L102.7 808.2 L103.2 814.9 L103.7 817.5 L104.2 823.7 L104.7 828.8 L105.2 833.4 L105.7 836.8 L106.2 839.9 L106.7 841.7 L107.2 845.5 L107.7 847.8 L108.2 849.8 L108.7 853.4 L109.2 854.3 L109.7 855.9 L110.2 858.4 L110.7 858.7 L111.2 859.1 L111.7 859.6 L112.2 863.9 L112.7 865 L113.2 866.1 L113.7 865.7 L114.2 867 L114.7 869.3 L115.2 868.8 L115.7 868 L116.2 869.2 L116.7 871.2 L117.2 869.4 L117.7 868.4 L118.2 869.7 L118.7 871.2 L119.2 873.3 L119.7 873.6 L120.2 873.9 L120.7 874 L121.2 875.1 L121.7 875.8 L122.2 876.6 L122.7 877.1 L123.2 877.5 L123.7 879.7 L124.2 877.1 L124.7 879.3 L125.2 878.7 L125.7 880.1 L126.2 880 L126.7 880.8 L127.2 881.7 L127.7 881.7 L128.2 882.5 L128.7 881.3 L129.2 883.8 L129.7 883.5 L130.2 884.1 L130.7 885.1 L131.2 885 L131.7 885.7 L132.2 882.9 L132.7 884 L133.2 885.8 L133.7 884.2 L134.2 885.3 L134.7 887.2 L135.2 886.7 L135.7 885.7 L136.2 887.4 L136.7 887.5 L137.2 887.5 L137.7 887.1 L138.2 888 L138.7 885.1 L139.2 888 L139.7 887 L140.2 890.2 L140.7 889.4 L141.2 888.3 L141.7 889.8 L142.2 889.5 L142.7 888 L143.2 889.3 L143.7 887.7 L144.2 887.8 L144.7 886.9 L145.2 886.4 L145.7 888.6 L146.2 883.4 L146.7 886.4 L147.2 884 L147.7 885.6 L148.2 886.5 L148.7 885.8 L149.2 888.5 L149.7 887 L150.2 881.5 L150.7 884.5 L151.2 888.2 L151.7 887.3 L152.2 886.1 L152.7 883.7 L153.2 889 L153.7 881.2 L154.2 885.4 L154.7 885.2 L155.2 885.2 L155.7 883 L156.2 885.3 L156.7 887.7 L157.2 884.9 L157.7 884.6 L158.2 887.2 L158.7 887.9 L159.2 887.6 L159.7 886.9 L160.2 889.3 L160.7 887.1 L161.2 884.5 L161.7 887.3 L162.2 885.7 L162.7 885.9 L163.2 882.1 L163.7 883 L164.2 885.3 L164.7 886 L165.2 885.7 L165.7 885.6 L166.2 885.2 L166.7 886.3 L167.2 887.3 L167.7 886.3 L168.2 885.4 L168.7 886.1 L169.2 881.8 L169.7 884.7 L170.2 884 L170.7 885.4 L171.2 886.5 L171.7 885.5 L172.2 883.1 L172.7 883.8 L173.2 883 L173.7 885 L174.2 886.3 L174.7 884.2 L175.2 886.4 L175.7 887.2 L176.2 885.1 L176.7 886.2 L177.2 882.8 L177.7 885.7 L178.2 888.4 L178.7 884.3 L179.2 887.4 L179.7 887.4 L180.2 889.8 L180.7 890.1 L181.2 888.2 L181.7 889.3 L182.2 884.6 L182.7 889.6 L183.2 889.3 L183.7 889.9 L184.2 884.6 L184.7 888.1 L185.2 886.8 L185.7 883.1 L186.2 886.8 L186.7 887.3 L187.2 887.5 L187.7 885.8 L188.2 883.7 L188.7 884.5 L189.2 884.6 L189.7 883.6 L190.2 882.7 L190.7 884.2 L191.2 884.5 L191.7 887.5 L192.2 883.3 L192.7 886.6 L193.2 884.4 L193.7 885.5 L194.2 882.6 L194.7 882.1 L195.2 883 L195.7 884.1 L196.2 883.4 L196.7 884.4 L197.2 884.8 L197.7 886.4 L198.2 884.9 L198.7 883.3 L199.2 885.4 L199.7 884.4 L200.2 887.5 L200.7 885.2 L201.2 886.3 L201.7 885.2 L202.2 887.6 L202.7 887.1 L203.2 888.1 L203.7 884.9 L204.2 885.1 L204.7 887.6 L205.2 887.2 L205.7 888.9 L206.2 884 L206.7 886 L207.2 883.6 L207.7 882.9 L208.2 883.7 L208.7 885.6 L209.2 883.5 L209.7 883.1 L210.2 883.3 L210.7 886 L211.2 888.4 L211.7 883.3 L212.2 885.2 L212.7 885.6 L213.2 887.2 L213.7 886 L214.2 887.7 L214.7 883.6 L215.2 885.1 L215.7 883.3 L216.2 881.4 L216.7 883.4 L217.2 881.7 L217.7 886.5 L218.2 883.8 L218.7 882.8 L219.2 883.2 L219.7 886.6 L220.2 882.7 L220.7 884.2 L221.2 884.6 L221.7 885.5 L222.2 885.8 L222.7 884.7 L223.2 883.3 L223.7 881.5 L224.2 883.6 L224.7 885.1 L225.2 883.9 L225.7 884.6 L226.2 881.8 L226.7 885.9 L227.2 861.4 L227.7 815.9 L228.2 790.7 L228.7 773.8 L229.2 765.3 L229.7 763.1 L230.2 765.4 L230.7 765.3 L231.2 766.7 L231.7 768.5 L232.2 769.2 L232.7 768.6 L233.2 769.7 L233.7 771.8 L234.2 772.7 L234.7 773.2 L235.2 774.2 L235.7 776.4 L236.2 776.9 L236.7 777.7 L237.2 779.4 L237.7 782.5 L238.2 784.2 L238.7 786.1 L239.2 786.6 L239.7 789.3 L240.2 789.9 L240.7 793.7 L241.2 795.8 L241.7 797.8 L242.2 800.4 L242.7 804.1 L243.2 807.5 L243.7 812.3 L244.2 815.2 L244.7 818.4 L245.2 823.1 L245.7 828.3 L246.2 831.4 L246.7 831.9 L247.2 834.7 L247.7 837.1 L248.2 838.3 L248.7 840.6 L249.2 842.8 L249.7 844 L250.2 845.8 L250.7 847.1 L251.2 849.3 L251.7 849.6 L252.2 851.5 L252.7 851.8 L253.2 853.3 L253.7 853.8 L254.2 858.5 L254.7 857.5 L255.2 858.7 L255.7 859.1 L256.2 859.5 L256.7 861.2 L257.2 862.5 L257.7 863.7 L258.2 865.2 L258.7 867.1 L259.2 864.6 L259.7 866.9 L260.2 869 L260.7 869.2 L261.2 870.3 L261.7 872 L262.2 871.6 L262.7 873.1 L263.2 872.3 L263.7 873 L264.2 873 L264.7 872.9 L265.2 874.8 L265.7 875.6 L266.2 876 L266.7 876.3 L267.2 878.8 L267.7 879.4 L268.2 880.3 L268.7 880.6 L269.2 882.6 L269.7 882.6 L270.2 882.3 L270.7 882.6 L271.2 883.1 L271.7 884.1 L272.2 885.2 L272.7 883.3 L273.2 883 L273.7 882.7 L274.2 889.7 L274.7 883.1 L275.2 885.3 L275.7 884.1 L276.2 885.4 L276.7 881.2 L277.2 880.6 L277.7 883.1 L278.2 883.9 L278.7 886 L279.2 882.6 L279.7 886.5 L280.2 886.4 L280.7 884.4 L281.2 886.8 L281.7 887.5 L282.2 886.7 L282.7 884.4 L283.2 886.5 L283.7 887.3 L284.2 885.4 L284.7 886.3 L285.2 883.5 L285.7 886.8 L286.2 888.3 L286.7 886.6 L287.2 886.6 L287.7 884.9 L288.2 887.9 L288.7 885.8 L289.2 884.9 L289.7 886.3 L290.2 885.4 L290.7 885.6 L291.2 882.5 L291.7 882.7 L292.2 884.1 L292.7 887.1 L293.2 884 L293.7 881.2 L294.2 883.5 L294.7 882.3 L295.2 880.2 L295.7 881.8 L296.2 881.7 L296.7 882.9 L297.2 884.2 L297.7 883.6 L298.2 882.8 L298.7 881.2 L299.2 882.5 L299.7 883.5 L300.2 886.8 L300.7 883.7 L301.2 884.8 L301.7 888.1 L302.2 887.6 L302.7 885.4 L303.2 886.3 L303.7 885.9 L304.2 885.4 L304.7 886.7 L305.2 886.3 L305.7 885.8 L306.2 885.3 L306.7 882.3 L307.2 885.1 L307.7 887.7 L308.2 886.9 L308.7 885.6 L309.2 886.3 L309.7 885.4 L310.2 887 L310.7 888.1 L311.2 888.7 L311.7 887.3 L312.2 886.9 L312.7 885.9 L313.2 884.3 L313.7 886 L314.2 885.6 L314.7 888 L315.2 888 L315.7 887.4 L316.2 889.3 L316.7 892.7 L317.2 885.4 L317.7 889.6 L318.2 888 L318.7 887 L319.2 885.4 L319.7 886.3 L320.2 885.5 L320.7 886.5 L321.2 886.5 L321.7 886.8 L322.2 884 L322.7 886.2 L323.2 884.1 L323.7 883.7 L324.2 886.3 L324.7 886.1 L325.2 885.1 L325.7 886.7 L326.2 883.6 L326.7 886.5 L327.2 887.6 L327.7 887.3 L328.2 887.4 L328.7 890.3 L329.2 887.2 L329.7 886.8 L330.2 887.1 L330.7 885.6 L331.2 886.1 L331.7 885.4 L332.2 885.6 L332.7 886.6 L333.2 885.5 L333.7 890 L334.2 885.6 L334.7 887.4 L335.2 888.6 L335.7 886.6 L336.2 884.8 L336.7 885 L337.2 887.3 L337.7 884.8 L338.2 882.8 L338.7 884.9 L339.2 883.4 L339.7 880.9 L340.2 884.9 L340.7 886.4 L341.2 887.5 L341.7 886.1 L342.2 884.9 L342.7 889.1 L343.2 886.5 L343.7 887.7 L344.2 887.3 L344.7 885.6 L345.2 885.8 L345.7 884.2 L346.2 884.8 L346.7 884.9 L347.2 884.2 L347.7 884.7 L348.2 882.1 L348.7 884.3 L349.2 886.4 L349.7 884.5 L350.2 885.7 L350.7 884.2 L351.2 886.9 L351.7 888 L352.2 883.9 L352.7 886.4 L353.2 882.5 L353.7 884 L354.2 881.4 L354.7 884 L355.2 881.8 L355.7 882.2 L356.2 884.7 L356.7 885 L357.2 883.8 L357.7 882.7 L358.2 884.9 L358.7 883.7 L359.2 884.5 L359.7 889.1 L360.2 888.2 L360.7 886.4 L361.2 886.8 L361.7 883.6 L362.2 885.7 L362.7 883.1 L363.2 884.2 L363.7 886 L364.2 885.8 L364.7 885.5 L365.2 884.6 L365.7 883.7 L366.2 883.6 L366.7 885 L367.2 884.8 L367.7 880.4 L368.2 869 L368.7 836.4 L369.2 810 L369.7 794.9 L370.2 782.6 L370.7 772.7 L371.2 767.5 L371.7 764.7 L372.2 765.2 L372.7 764.7 L373.2 765.7 L373.7 766.7 L374.2 767.8 L374.7 770.2 L375.2 770.5 L375.7 772.8 L376.2 773.5 L376.7 774.8 L377.2 776.5 L377.7 777.4 L378.2 779.6 L378.7 782.2 L379.2 783.5 L379.7 786.3 L380.2 789.5 L380.7 789.8 L381.2 793.8 L381.7 796.6 L382.2 800.4 L382.7 803.9 L383.2 806.8 L383.7 810.7 L384.2 814.2 L384.7 819.6 L385.2 823 L385.7 827.3 L386.2 830 L386.7 831.4 L387.2 833.5 L387.7 837.5 L388.2 840.3 L388.7 842.5 L389.2 843.3 L389.7 846.3 L390.2 846 L390.7 846.7 L391.2 849.4 L391.7 850.8 L392.2 849.6 L392.7 852.2 L393.2 851.3 L393.7 853.2 L394.2 856.2 L394.7 856.8 L395.2 857.2 L395.7 858.3 L396.2 858 L396.7 860.1 L397.2 861.8 L397.7 862.5 L398.2 864.9 L398.7 866.4 L399.2 867.6 L399.7 869.6 L400.2 870.5 L400.7 871 L401.2 873 L401.7 872.1 L402.2 873 L402.7 875 L403.2 876.3 L403.7 875.6 L404.2 873.8 L404.7 876.4 L405.2 876.4 L405.7 876.3 L406.2 877.4 L406.7 878.5 L407.2 878.1 L407.7 878.1 L408.2 880.5 L408.7 878.6 L409.2 881.5 L409.7 881.7 L410.2 882.8 L410.7 883.6 L411.2 883.6 L411.7 883.8 L412.2 883.8 L412.7 883.3 L413.2 883.5 L413.7 882.9 L414.2 882.3 L414.7 882.5 L415.2 880.2 L415.7 881.3 L416.2 885.6 L416.7 882.7 L417.2 881.3 L417.7 881 L418.2 879.3 L418.7 881.6 L419.2 882 L419.7 883.2 L420.2 883.4 L420.7 883 L421.2 880.7 L421.7 886.9 L422.2 885.9 L422.7 884.5 L423.2 884.3 L423.7 885.3 L424.2 886.2 L424.7 885.1 L425.2 882.7 L425.7 882.6 L426.2 881.4 L426.7 884.5 L427.2 886 L427.7 885.8 L428.2 884.1 L428.7 885 L429.2 882.2 L429.7 883.5 L430.2 882.6 L430.7 881.4 L431.2 879.5 L431.7 883.5 L432.2 879.1 L432.7 883.7 L433.2 881.9 L433.7 883.8 L434.2 883 L434.7 884.6 L435.2 883.1 L435.7 882.7 L436.2 883.3 L436.7 881.2 L437.2 883.6 L437.7 885.3 L438.2 885.2 L438.7 884 L439.2 886.5 L439.7 883.3 L440.2 886.8 L440.7 885.5 L441.2 885.5 L441.7 887.5 L442.2 883.9 L442.7 884.3 L443.2 885.9 L443.7 883 L444.2 882.9 L444.7 882.6 L445.2 884.4 L445.7 882.2 L446.2 885 L446.7 883.2 L447.2 885.2 L447.7 882.8 L448.2 885.5 L448.7 884.4 L449.2 887.2 L449.7 887.5 L450.2 887.6 L450.7 884.5 L451.2 887.5 L451.7 885.8 L452.2 889.7 L452.7 886.3 L453.2 885.5 L453.7 885.2 L454.2 884.7 L454.7 884.6 L455.2 883.9 L455.7 883.8 L456.2 885.2 L456.7 886.1 L457.2 887.9 L457.7 886.1 L458.2 885.4 L458.7 886.3 L459.2 885.9 L459.7 889.2 L460.2 886.4 L460.7 883.8 L461.2 881.3 L461.7 883.5 L462.2 883.7 L462.7 885 L463.2 887.7 L463.7 884.8 L464.2 881.8 L464.7 884.8 L465.2 883.1 L465.7 886.7 L466.2 886.7 L466.7 886.1 L467.2 884 L467.7 885.2 L468.2 886.6 L468.7 882.9 L469.2 882.9 L469.7 883.4 L470.2 882.8 L470.7 883.1 L471.2 883 L471.7 881.7 L472.2 879.6 L472.7 881.6 L473.2 881.8 L473.7 880.3 L474.2 883 L474.7 883.7 L475.2 883.4 L475.7 883.9 L476.2 881.9 L476.7 883 L477.2 884.7 L477.7 884.6 L478.2 885.1 L478.7 884.3 L479.2 882.7 L479.7 884.7 L480.2 883.7 L480.7 885 L481.2 885.8 L481.7 885.8 L482.2 885.3 L482.7 882 L483.2 879.6 L483.7 882.6 L484.2 881.7 L484.7 882.2 L485.2 885.3 L485.7 881.8 L486.2 885.9 L486.7 885.9 L487.2 888.2 L487.7 885.6 L488.2 886.4 L488.7 882.8 L489.2 882.8 L489.7 884.8 L490.2 881.9 L490.7 884.4 L491.2 883.2 L491.7 880 L492.2 886.1 L492.7 883.1 L493.2 888.7 L493.7 881.1 L494.2 883.1 L494.7 883.5 L495.2 883.9 L495.7 880.9 L496.2 883.8 L496.7 883.7 L497.2 883.9 L497.7 880.6 L498.2 883.1 L498.7 883.1 L499.2 885.5 L499.7 884.3 L500.2 883.2 L500.7 883.5 L501.2 886.7 L501.7 882.5 L502.2 885.1 L502.7 880.6 L503.2 887.2 L503.7 885.5 L504.2 882.1 L504.7 886.6 L505.2 887.7 L505.7 886.4 L506.2 885.2 L506.7 885.3 L507.2 882.9 L507.7 882.3 L508.2 881.8 L508.7 883.2 L509.2 881.2 L509.7 884.8 L510.2 848.2 L510.7 812.2 L511.2 793.4 L511.7 780.1 L512.2 769.7 L512.7 764.9 L513.2 763.7 L513.7 763.7 L514.2 765.1 L514.7 766.6 L515.2 766.2 L515.7 767.1 L516.2 769.2 L516.7 771.6 L517.2 772.1 L517.7 773.6 L518.2 774.1 L518.7 777.3 L519.2 777.2 L519.7 778.9 L520.2 780.7 L520.7 782.4 L521.2 783.8 L521.7 783.9 L522.2 785.9 L522.7 787.8 L523.2 789.3 L523.7 789.4 L524.2 790.8 L524.7 794.1 L525.2 795.5 L525.7 798.3 L526.2 799.7 L526.7 802.6 L527.2 804.1 L527.7 807.4 L528.2 810 L528.7 811.6 L529.2 813.3 L529.7 817.7 L530.2 820.2 L530.7 823.8 L531.2 825.9 L531.7 831.4 L532.2 834.7 L532.7 839.9 L533.2 844.7 L533.7 848.5 L534.2 850.1 L534.7 853.7 L535.2 853.8 L535.7 856.7 L536.2 856.9 L536.7 857.7 L537.2 858.2 L537.7 858.9 L538.2 860.8 L538.7 861.8 L539.2 862.9 L539.7 863.3 L540.2 862.7 L540.7 865 L541.2 867 L541.7 866.9 L542.2 867 L542.7 867.1 L543.2 868.6 L543.7 868.4 L544.2 871.3 L544.7 871.3 L545.2 871.8 L545.7 873.1 L546.2 872.6 L546.7 873.2 L547.2 874.8 L547.7 876.9 L548.2 876.3 L548.7 877.7 L549.2 876.8 L549.7 879.2 L550.2 879.9 L550.7 881.4 L551.2 879.3 L551.7 881.4 L552.2 881.1 L552.7 882.8 L553.2 882.6 L553.7 883.6 L554.2 882.7 L554.7 883.1 L555.2 883.8 L555.7 884.8 L556.2 883.8 L556.7 883.4 L557.2 882 L557.7 884.2 L558.2 881.3 L558.7 881.1 L559.2 881.9 L559.7 883 L560.2 883.6 L560.7 883.3 L561.2 883.9 L561.7 883.9 L562.2 883.2 L562.7 882.5 L563.2 884.2 L563.7 883.7 L564.2 884.7 L564.7 884.2 L565.2 881 L565.7 881.2 L566.2 882.4 L566.7 884.8 L567.2 884.5 L567.7 882.4 L568.2 882.7 L568.7 885 L569.2 883.6 L569.7 884 L570.2 883.4 L570.7 881.4 L571.2 881.6 L571.7 881.2 L572.2 881.3 L572.7 883.6 L573.2 881.7 L573.7 881.3 L574.2 880.3 L574.7 880.9 L575.2 877.4 L575.7 881.4 L576.2 883.7 L576.7 879.8 L577.2 883.1 L577.7 881.2 L578.2 881.5 L578.7 885.8 L579.2 885.4 L579.7 882.3 L580.2 884.1 L580.7 885.9 L581.2 883.7 L581.7 883.9 L582.2 884.4 L582.7 883.4 L583.2 884.4 L583.7 881.7 L584.2 881.7 L584.7 883.8 L585.2 885.2 L585.7 885.7 L586.2 885.4 L586.7 883.5 L587.2 882.7 L587.7 883.3 L588.2 884.1 L588.7 882.2 L589.2 884.9 L589.7 886.3 L590.2 884 L590.7 887.5 L591.2 885.9 L591.7 883.4 L592.2 884.8 L592.7 886 L593.2 887.8 L593.7 886.8 L594.2 885.6 L594.7 886.4 L595.2 887.8 L595.7 887.7 L596.2 883.9 L596.7 884.1 L597.2 884.8 L597.7 883.2 L598.2 887.3 L598.7 884.3 L599.2 884.5 L599.7 885.1 L600.2 886.8 L600.7 888.2 L601.2 888.3 L601.7 888.6 L602.2 885.8 L602.7 889.9" fill="none" stroke="#333333" stroke-width="3.6" stroke-linejoin="round" stroke-linecap="round"/>
<text x="23" y="580.6" font-size="36.5" fill="#000" textLength="285" lengthAdjust="spacingAndGlyphs">0 µM Ranolazine</text>
<text x="24.3" y="761" font-size="36.5" fill="#000" textLength="284" lengthAdjust="spacingAndGlyphs">2 µM Ranolazine</text>
<line x1="19.5" y1="898" x2="601.3" y2="898" stroke="#6a6a6a" stroke-width="2.4" stroke-linecap="butt"/>
<line x1="20.6" y1="890.5" x2="20.6" y2="898" stroke="#6a6a6a" stroke-width="2.2" stroke-linecap="butt"/>
<line x1="56" y1="890.5" x2="56" y2="898" stroke="#6a6a6a" stroke-width="2.2" stroke-linecap="butt"/>
<line x1="91.4" y1="890.5" x2="91.4" y2="898" stroke="#6a6a6a" stroke-width="2.2" stroke-linecap="butt"/>
<line x1="126.9" y1="890.5" x2="126.9" y2="898" stroke="#6a6a6a" stroke-width="2.2" stroke-linecap="butt"/>
<line x1="162.3" y1="890.5" x2="162.3" y2="898" stroke="#6a6a6a" stroke-width="2.2" stroke-linecap="butt"/>
<line x1="197.7" y1="890.5" x2="197.7" y2="898" stroke="#6a6a6a" stroke-width="2.2" stroke-linecap="butt"/>
<line x1="233.1" y1="890.5" x2="233.1" y2="898" stroke="#6a6a6a" stroke-width="2.2" stroke-linecap="butt"/>
<line x1="268.5" y1="890.5" x2="268.5" y2="898" stroke="#6a6a6a" stroke-width="2.2" stroke-linecap="butt"/>
<line x1="304" y1="890.5" x2="304" y2="898" stroke="#6a6a6a" stroke-width="2.2" stroke-linecap="butt"/>
<line x1="339.4" y1="890.5" x2="339.4" y2="898" stroke="#6a6a6a" stroke-width="2.2" stroke-linecap="butt"/>
<line x1="374.8" y1="890.5" x2="374.8" y2="898" stroke="#6a6a6a" stroke-width="2.2" stroke-linecap="butt"/>
<line x1="410.2" y1="890.5" x2="410.2" y2="898" stroke="#6a6a6a" stroke-width="2.2" stroke-linecap="butt"/>
<line x1="445.6" y1="890.5" x2="445.6" y2="898" stroke="#6a6a6a" stroke-width="2.2" stroke-linecap="butt"/>
<line x1="481.1" y1="890.5" x2="481.1" y2="898" stroke="#6a6a6a" stroke-width="2.2" stroke-linecap="butt"/>
<line x1="516.5" y1="890.5" x2="516.5" y2="898" stroke="#6a6a6a" stroke-width="2.2" stroke-linecap="butt"/>
<line x1="551.9" y1="890.5" x2="551.9" y2="898" stroke="#6a6a6a" stroke-width="2.2" stroke-linecap="butt"/>
<line x1="587.3" y1="890.5" x2="587.3" y2="898" stroke="#6a6a6a" stroke-width="2.2" stroke-linecap="butt"/>
<text x="20.6" y="935.6" font-size="26.5" fill="#5a5a5a" text-anchor="middle" textLength="39.5" lengthAdjust="spacingAndGlyphs">0.0</text>
<text x="162.3" y="935.6" font-size="26.5" fill="#5a5a5a" text-anchor="middle" textLength="39.5" lengthAdjust="spacingAndGlyphs">2.0</text>
<text x="304" y="935.6" font-size="26.5" fill="#5a5a5a" text-anchor="middle" textLength="39.5" lengthAdjust="spacingAndGlyphs">4.0</text>
<text x="445.6" y="935.6" font-size="26.5" fill="#5a5a5a" text-anchor="middle" textLength="39.5" lengthAdjust="spacingAndGlyphs">6.0</text>
<text x="587.3" y="935.6" font-size="26.5" fill="#5a5a5a" text-anchor="middle" textLength="39.5" lengthAdjust="spacingAndGlyphs">8.0</text>
<text x="245.8" y="966" font-size="25" fill="#5a5a5a" textLength="133" lengthAdjust="spacingAndGlyphs">Time (sec)</text>
<line x1="804.5" y1="57.5" x2="804.5" y2="434" stroke="#000" stroke-width="3.6" stroke-linecap="butt"/>
<line x1="797" y1="432.3" x2="1296.5" y2="432.3" stroke="#000" stroke-width="3.8" stroke-linecap="butt"/>
<line x1="797" y1="432.3" x2="805" y2="432.3" stroke="#000" stroke-width="3.2" stroke-linecap="butt"/>
<line x1="800.5" y1="398.4" x2="805" y2="398.4" stroke="#000" stroke-width="3.2" stroke-linecap="butt"/>
<line x1="797" y1="364.5" x2="805" y2="364.5" stroke="#000" stroke-width="3.2" stroke-linecap="butt"/>
<line x1="800.5" y1="330.7" x2="805" y2="330.7" stroke="#000" stroke-width="3.2" stroke-linecap="butt"/>
<line x1="797" y1="296.8" x2="805" y2="296.8" stroke="#000" stroke-width="3.2" stroke-linecap="butt"/>
<line x1="800.5" y1="262.9" x2="805" y2="262.9" stroke="#000" stroke-width="3.2" stroke-linecap="butt"/>
<line x1="797" y1="229" x2="805" y2="229" stroke="#000" stroke-width="3.2" stroke-linecap="butt"/>
<line x1="800.5" y1="195.1" x2="805" y2="195.1" stroke="#000" stroke-width="3.2" stroke-linecap="butt"/>
<line x1="797" y1="161.3" x2="805" y2="161.3" stroke="#000" stroke-width="3.2" stroke-linecap="butt"/>
<line x1="800.5" y1="127.4" x2="805" y2="127.4" stroke="#000" stroke-width="3.2" stroke-linecap="butt"/>
<line x1="797" y1="93.5" x2="805" y2="93.5" stroke="#000" stroke-width="3.2" stroke-linecap="butt"/>
<line x1="800.5" y1="59.6" x2="805" y2="59.6" stroke="#000" stroke-width="3.2" stroke-linecap="butt"/>
<line x1="928.4" y1="432" x2="928.4" y2="441" stroke="#000" stroke-width="3.2" stroke-linecap="butt"/>
<line x1="1171.7" y1="432" x2="1171.7" y2="441" stroke="#000" stroke-width="3.2" stroke-linecap="butt"/>
<text x="793" y="440.8" font-size="32" fill="#333" text-anchor="end">0</text>
<text x="793" y="372.6" font-size="32" fill="#333" text-anchor="end">200</text>
<text x="793" y="304.5" font-size="32" fill="#333" text-anchor="end">400</text>
<text x="793" y="236.3" font-size="32" fill="#333" text-anchor="end">600</text>
<text x="793" y="168.2" font-size="32" fill="#333" text-anchor="end">800</text>
<text x="793" y="100" font-size="32" fill="#333" text-anchor="end">1000</text>
<text transform="translate(710.5,321.5) rotate(-90)" font-size="38.5" fill="#333"><tspan>APD</tspan><tspan font-size="23" dy="8">80</tspan><tspan dy="-8"> (ms)</tspan></text>
<text x="920.5" y="484.2" font-size="29" fill="#222" text-anchor="middle" textLength="67" lengthAdjust="spacingAndGlyphs">0 µM</text>
<text x="921" y="521.8" font-size="29" fill="#222" text-anchor="middle" textLength="76" lengthAdjust="spacingAndGlyphs">E4031</text>
<text x="1172.4" y="484.2" font-size="29" fill="#222" text-anchor="middle" textLength="67.5" lengthAdjust="spacingAndGlyphs">2 µM</text>
<text x="1173.2" y="521.8" font-size="29" fill="#222" text-anchor="middle" textLength="75.5" lengthAdjust="spacingAndGlyphs">E4031</text>
<circle cx="840.8" cy="349.7" r="7.2" fill="#000"/>
<circle cx="860.6" cy="352.5" r="7.2" fill="#000"/>
<circle cx="861.6" cy="356.9" r="7.2" fill="#000"/>
<circle cx="871.5" cy="351.4" r="7.2" fill="#000"/>
<circle cx="882.5" cy="354.7" r="7.2" fill="#000"/>
<circle cx="894.5" cy="345.9" r="7.2" fill="#000"/>
<circle cx="895.6" cy="330.6" r="7.2" fill="#000"/>
<circle cx="905" cy="330" r="7.2" fill="#000"/>
<circle cx="916.5" cy="321.8" r="7.2" fill="#000"/>
<circle cx="927" cy="330" r="7.2" fill="#000"/>
<circle cx="938.4" cy="318.5" r="7.2" fill="#000"/>
<circle cx="949" cy="332" r="7.2" fill="#000"/>
<circle cx="960.3" cy="324" r="7.2" fill="#000"/>
<circle cx="971.3" cy="333.8" r="7.2" fill="#000"/>
<circle cx="972.4" cy="348.1" r="7.2" fill="#000"/>
<circle cx="993.2" cy="336" r="7.2" fill="#000"/>
<circle cx="994.3" cy="341.5" r="7.2" fill="#000"/>
<circle cx="1014" cy="354.1" r="7.2" fill="#000"/>
<circle cx="927.4" cy="377.7" r="7.2" fill="#000"/>
<circle cx="905" cy="338" r="7.2" fill="#000"/>
<circle cx="916" cy="336" r="7.2" fill="#000"/>
<circle cx="950" cy="338" r="7.2" fill="#000"/>
<circle cx="960" cy="337" r="7.2" fill="#000"/>
<circle cx="983" cy="336" r="7.2" fill="#000"/>
<circle cx="888" cy="338" r="7.2" fill="#000"/>
<circle cx="938" cy="332" r="7.2" fill="#000"/>
<circle cx="927" cy="336" r="7.2" fill="#000"/>
<circle cx="899" cy="341" r="7.2" fill="#000"/>
<line x1="928.5" y1="328.4" x2="928.5" y2="353" stroke="#c4c4c4" stroke-width="3.6" stroke-linecap="butt"/>
<line x1="914.2" y1="328.4" x2="942.8" y2="328.4" stroke="#c4c4c4" stroke-width="3.6" stroke-linecap="butt"/>
<line x1="914.2" y1="353" x2="942.8" y2="353" stroke="#c4c4c4" stroke-width="3.6" stroke-linecap="butt"/>
<line x1="892.4" y1="342.1" x2="964.6" y2="342.1" stroke="#c4c4c4" stroke-width="3.6" stroke-linecap="butt"/>
<line x1="913" y1="356.5" x2="941.5" y2="356.5" stroke="#3a3a3a" stroke-width="2.6" stroke-linecap="butt"/>
<line x1="945" y1="344.8" x2="952.6" y2="344.8" stroke="#3a3a3a" stroke-width="2.4" stroke-linecap="butt"/>
<rect x="1165" y="152.9" width="13" height="13" fill="#0000ff"/>
<rect x="1190.1" y="160.8" width="13" height="13" fill="#0000ff"/>
<rect x="1140.5" y="171.7" width="13" height="13" fill="#0000ff"/>
<rect x="1115.9" y="203.1" width="13" height="13" fill="#0000ff"/>
<rect x="1140.5" y="232.9" width="13" height="13" fill="#0000ff"/>
<rect x="1091.9" y="238.1" width="13" height="13" fill="#0000ff"/>
<rect x="1190.1" y="242.8" width="13" height="13" fill="#0000ff"/>
<rect x="1238.8" y="236" width="13" height="13" fill="#0000ff"/>
<rect x="1165.3" y="274.3" width="13" height="13" fill="#0000ff"/>
<rect x="1165.3" y="304.2" width="13" height="13" fill="#0000ff"/>
<rect x="1165.3" y="368.8" width="13" height="13" fill="#0000ff"/>
<rect x="1213.7" y="201" width="13" height="13" rx="3.5" fill="#0000ff"/>
<polygon fill="#ff0000" points="1171.5,107.4 1174.2,113.5 1180.8,114.2 1175.9,118.6 1177.3,125.1 1171.5,121.8 1165.7,125.1 1167.1,118.6 1162.2,114.2 1168.8,113.5"/>
<polygon fill="#ff0000" points="1171.5,124.7 1174.2,130.8 1180.8,131.5 1175.9,135.9 1177.3,142.4 1171.5,139.1 1165.7,142.4 1167.1,135.9 1162.2,131.5 1168.8,130.8"/>
<polygon fill="#ff0000" points="1190.5,142 1193.2,148.1 1199.8,148.8 1194.9,153.2 1196.3,159.7 1190.5,156.4 1184.7,159.7 1186.1,153.2 1181.2,148.8 1187.8,148.1"/>
<polygon fill="#ff0000" points="1152.8,148.8 1155.5,154.9 1162.1,155.6 1157.2,160 1158.6,166.5 1152.8,163.2 1147,166.5 1148.4,160 1143.5,155.6 1150.1,154.9"/>
<polygon fill="#ff0000" points="1144.2,162 1146.9,168.1 1153.5,168.8 1148.6,173.2 1150,179.7 1144.2,176.4 1138.4,179.7 1139.8,173.2 1134.9,168.8 1141.5,168.1"/>
<polygon fill="#ff0000" points="1125.9,165.9 1128.6,172 1135.2,172.7 1130.3,177.1 1131.7,183.6 1125.9,180.3 1120.1,183.6 1121.5,177.1 1116.6,172.7 1123.2,172"/>
<polygon fill="#ff0000" points="1107.3,169.9 1110,176 1116.6,176.7 1111.7,181.1 1113.1,187.6 1107.3,184.3 1101.5,187.6 1102.9,181.1 1098,176.7 1104.6,176"/>
<polygon fill="#ff0000" points="1181,168.4 1183.7,174.5 1190.3,175.2 1185.4,179.6 1186.8,186.1 1181,182.8 1175.2,186.1 1176.6,179.6 1171.7,175.2 1178.3,174.5"/>
<polygon fill="#ff0000" points="1162.1,178.9 1164.8,185 1171.4,185.7 1166.5,190.1 1167.9,196.6 1162.1,193.3 1156.3,196.6 1157.7,190.1 1152.8,185.7 1159.4,185"/>
<polygon fill="#ff0000" points="1143.3,185.2 1146,191.3 1152.6,192 1147.7,196.4 1149.1,202.9 1143.3,199.6 1137.5,202.9 1138.9,196.4 1134,192 1140.6,191.3"/>
<polygon fill="#ff0000" points="1198.7,188.3 1201.4,194.4 1208,195.1 1203.1,199.5 1204.5,206 1198.7,202.7 1192.9,206 1194.3,199.5 1189.4,195.1 1196,194.4"/>
<polygon fill="#ff0000" points="1217.5,181 1220.2,187.1 1226.8,187.8 1221.9,192.2 1223.3,198.7 1217.5,195.4 1211.7,198.7 1213.1,192.2 1208.2,187.8 1214.8,187.1"/>
<polygon fill="#ff0000" points="1235.8,175.7 1238.5,181.8 1245.1,182.5 1240.2,186.9 1241.6,193.4 1235.8,190.1 1230,193.4 1231.4,186.9 1226.5,182.5 1233.1,181.8"/>
<polygon fill="#ff0000" points="1171.5,288.2 1174.2,294.3 1180.8,295 1175.9,299.4 1177.3,305.9 1171.5,302.6 1165.7,305.9 1167.1,299.4 1162.2,295 1168.8,294.3"/>
<line x1="1171.8" y1="146.5" x2="1171.8" y2="239.9" stroke="#ff0000" stroke-width="4" stroke-linecap="butt"/>
<line x1="1157.5" y1="146.5" x2="1186" y2="146.5" stroke="#ff0000" stroke-width="4" stroke-linecap="butt"/>
<line x1="1157.5" y1="239.9" x2="1186" y2="239.9" stroke="#ff0000" stroke-width="4" stroke-linecap="butt"/>
<line x1="1135.8" y1="192.9" x2="1207.8" y2="192.9" stroke="#ff0000" stroke-width="4" stroke-linecap="butt"/>
<line x1="1172.1" y1="177.4" x2="1172.1" y2="297.5" stroke="#0000ff" stroke-width="4" stroke-linecap="butt"/>
<line x1="1157.1" y1="177.4" x2="1187.1" y2="177.4" stroke="#0000ff" stroke-width="4" stroke-linecap="butt"/>
<line x1="1157.1" y1="297.5" x2="1187.1" y2="297.5" stroke="#0000ff" stroke-width="4" stroke-linecap="butt"/>
<line x1="1136.1" y1="238.3" x2="1208.1" y2="238.3" stroke="#0000ff" stroke-width="4" stroke-linecap="butt"/>
<polygon fill="#ff0000" points="1162.1,214.4 1164.8,220.5 1171.4,221.2 1166.5,225.6 1167.9,232.1 1162.1,228.8 1156.3,232.1 1157.7,225.6 1152.8,221.2 1159.4,220.5"/>
<polygon fill="#ff0000" points="1181,217.6 1183.7,223.7 1190.3,224.4 1185.4,228.8 1186.8,235.3 1181,232 1175.2,235.3 1176.6,228.8 1171.7,224.4 1178.3,223.7"/>
<rect x="1165.3" y="304.2" width="13" height="13" fill="#0000ff"/>
<text x="1173.1" y="104.5" font-size="48" font-weight="bold" text-anchor="middle" fill="#000" style="font-family:'DejaVu Sans', sans-serif">*</text>
<line x1="805.6" y1="564.5" x2="805.6" y2="948" stroke="#000" stroke-width="2.6" stroke-linecap="butt"/>
<line x1="798" y1="946.5" x2="1298.6" y2="946.5" stroke="#000" stroke-width="2.8" stroke-linecap="butt"/>
<line x1="797.8" y1="946.6" x2="805.8" y2="946.6" stroke="#000" stroke-width="2.4" stroke-linecap="butt"/>
<line x1="801.3" y1="911.9" x2="805.8" y2="911.9" stroke="#000" stroke-width="2.4" stroke-linecap="butt"/>
<line x1="797.8" y1="877.2" x2="805.8" y2="877.2" stroke="#000" stroke-width="2.4" stroke-linecap="butt"/>
<line x1="801.3" y1="842.6" x2="805.8" y2="842.6" stroke="#000" stroke-width="2.4" stroke-linecap="butt"/>
<line x1="797.8" y1="807.9" x2="805.8" y2="807.9" stroke="#000" stroke-width="2.4" stroke-linecap="butt"/>
<line x1="801.3" y1="773.2" x2="805.8" y2="773.2" stroke="#000" stroke-width="2.4" stroke-linecap="butt"/>
<line x1="797.8" y1="738.5" x2="805.8" y2="738.5" stroke="#000" stroke-width="2.4" stroke-linecap="butt"/>
<line x1="801.3" y1="703.8" x2="805.8" y2="703.8" stroke="#000" stroke-width="2.4" stroke-linecap="butt"/>
<line x1="797.8" y1="669.2" x2="805.8" y2="669.2" stroke="#000" stroke-width="2.4" stroke-linecap="butt"/>
<line x1="801.3" y1="634.5" x2="805.8" y2="634.5" stroke="#000" stroke-width="2.4" stroke-linecap="butt"/>
<line x1="797.8" y1="599.8" x2="805.8" y2="599.8" stroke="#000" stroke-width="2.4" stroke-linecap="butt"/>
<line x1="801.3" y1="565.1" x2="805.8" y2="565.1" stroke="#000" stroke-width="2.4" stroke-linecap="butt"/>
<line x1="886.4" y1="946" x2="886.4" y2="955" stroke="#000" stroke-width="2.4" stroke-linecap="butt"/>
<line x1="1053.5" y1="946" x2="1053.5" y2="955" stroke="#000" stroke-width="2.4" stroke-linecap="butt"/>
<line x1="1217.6" y1="946" x2="1217.6" y2="955" stroke="#000" stroke-width="2.4" stroke-linecap="butt"/>
<text x="791.5" y="958.6" font-size="34.5" fill="#333" text-anchor="end">0</text>
<text x="791.5" y="888.8" font-size="34.5" fill="#333" text-anchor="end">200</text>
<text x="791.5" y="819" font-size="34.5" fill="#333" text-anchor="end">400</text>
<text x="791.5" y="749.1" font-size="34.5" fill="#333" text-anchor="end">600</text>
<text x="791.5" y="679.3" font-size="34.5" fill="#333" text-anchor="end">800</text>
<text x="791.5" y="609.5" font-size="34.5" fill="#333" text-anchor="end">1000</text>
<text transform="translate(708.5,865) rotate(-90)" font-size="40.6" fill="#333"><tspan>APD</tspan><tspan font-size="24" dy="9">80</tspan><tspan dy="-9"> (ms)</tspan></text>
<text x="879.1" y="996.1" font-size="29" fill="#222" text-anchor="middle" textLength="70" lengthAdjust="spacingAndGlyphs">0 µM</text>
<text x="1041.6" y="996.1" font-size="29" fill="#222" text-anchor="middle" textLength="69" lengthAdjust="spacingAndGlyphs">2 µM</text>
<text x="1211.7" y="996.1" font-size="29" fill="#222" text-anchor="middle" textLength="85" lengthAdjust="spacingAndGlyphs">10 µM</text>
<text x="881" y="1033.5" font-size="29" fill="#222" text-anchor="middle" textLength="151" lengthAdjust="spacingAndGlyphs">Ranolazine</text>
<text x="1043.5" y="1033.5" font-size="29" fill="#222" text-anchor="middle" textLength="151.5" lengthAdjust="spacingAndGlyphs">Ranolazine</text>
<text x="1212.3" y="1033.5" font-size="29" fill="#222" text-anchor="middle" textLength="151" lengthAdjust="spacingAndGlyphs">Ranolazine</text>
<polygon fill="#000" points="887.9,754.2 894.3,760.6 887.9,767 881.5,760.6"/>
<polygon fill="#000" points="884.5,768.2 890.9,774.6 884.5,781 878.1,774.6"/>
<polygon fill="#000" points="891.2,779.6 897.6,786 891.2,792.4 884.8,786"/>
<polygon fill="#000" points="877.9,787.5 884.3,793.9 877.9,800.3 871.5,793.9"/>
<polygon fill="#000" points="885.9,794.2 892.3,800.6 885.9,807 879.5,800.6"/>
<polygon fill="#000" points="898.5,794.8 904.9,801.2 898.5,807.6 892.1,801.2"/>
<polygon fill="#000" points="868.6,811.5 875,817.9 868.6,824.3 862.2,817.9"/>
<polygon fill="#000" points="879.2,818.1 885.6,824.5 879.2,830.9 872.8,824.5"/>
<polygon fill="#000" points="911.2,808.8 917.6,815.2 911.2,821.6 904.8,815.2"/>
<polygon fill="#000" points="903.2,818.1 909.6,824.5 903.2,830.9 896.8,824.5"/>
<polygon fill="#000" points="913.8,819.5 920.2,825.9 913.8,832.3 907.4,825.9"/>
<polygon fill="#000" points="863.2,822.1 869.6,828.5 863.2,834.9 856.8,828.5"/>
<polygon fill="#000" points="826,843.4 832.4,849.8 826,856.2 819.6,849.8"/>
<polygon fill="#000" points="839.3,836.8 845.7,843.2 839.3,849.6 832.9,843.2"/>
<polygon fill="#000" points="844.6,842.1 851,848.5 844.6,854.9 838.2,848.5"/>
<polygon fill="#000" points="855.3,847.4 861.7,853.8 855.3,860.2 848.9,853.8"/>
<polygon fill="#000" points="849.9,854.1 856.3,860.5 849.9,866.9 843.5,860.5"/>
<polygon fill="#000" points="863.2,855.4 869.6,861.8 863.2,868.2 856.8,861.8"/>
<polygon fill="#000" points="867.2,839.4 873.6,845.8 867.2,852.2 860.8,845.8"/>
<polygon fill="#000" points="876.6,844.8 883,851.2 876.6,857.6 870.2,851.2"/>
<polygon fill="#000" points="897.8,839.4 904.2,845.8 897.8,852.2 891.4,845.8"/>
<polygon fill="#000" points="904.5,842.1 910.9,848.5 904.5,854.9 898.1,848.5"/>
<polygon fill="#000" points="913.8,847.4 920.2,853.8 913.8,860.2 907.4,853.8"/>
<polygon fill="#000" points="920.5,840.8 926.9,847.2 920.5,853.6 914.1,847.2"/>
<polygon fill="#000" points="925.8,847.4 932.2,853.8 925.8,860.2 919.4,853.8"/>
<polygon fill="#000" points="935.1,838.1 941.5,844.5 935.1,850.9 928.7,844.5"/>
<polygon fill="#000" points="941.8,848.8 948.2,855.2 941.8,861.6 935.4,855.2"/>
<polygon fill="#000" points="951.1,838.1 957.5,844.5 951.1,850.9 944.7,844.5"/>
<polygon fill="#000" points="877.9,863.4 884.3,869.8 877.9,876.2 871.5,869.8"/>
<polygon fill="#000" points="884.5,860.7 890.9,867.1 884.5,873.5 878.1,867.1"/>
<polygon fill="#000" points="895.2,862.1 901.6,868.5 895.2,874.9 888.8,868.5"/>
<polygon fill="#000" points="899.2,860.7 905.6,867.1 899.2,873.5 892.8,867.1"/>
<polygon fill="#000" points="823,845.1 829.4,851.5 823,857.9 816.6,851.5"/>
<polygon fill="#000" points="842.5,837.8 848.9,844.2 842.5,850.6 836.1,844.2"/>
<polygon fill="#000" points="854.7,852.4 861.1,858.8 854.7,865.2 848.3,858.8"/>
<polygon fill="#000" points="932.6,837.8 939,844.2 932.6,850.6 926.2,844.2"/>
<polygon fill="#000" points="942.3,850 948.7,856.4 942.3,862.8 935.9,856.4"/>
<polygon fill="#000" points="951,837.8 957.4,844.2 951,850.6 944.6,844.2"/>
<polygon fill="#000" points="872,825.6 878.4,832 872,838.4 865.6,832"/>
<polygon fill="#000" points="880,831.6 886.4,838 880,844.4 873.6,838"/>
<polygon fill="#000" points="893,823.6 899.4,830 893,836.4 886.6,830"/>
<polygon fill="#000" points="900,829.6 906.4,836 900,842.4 893.6,836"/>
<polygon fill="#000" points="908,825.6 914.4,832 908,838.4 901.6,832"/>
<polygon fill="#000" points="874,835.6 880.4,842 874,848.4 867.6,842"/>
<polygon fill="#000" points="892,845.6 898.4,852 892,858.4 885.6,852"/>
<polygon fill="#000" points="906,851.6 912.4,858 906,864.4 899.6,858"/>
<polygon fill="#000" points="870,849.6 876.4,856 870,862.4 863.6,856"/>
<polygon fill="#000" points="890,855.6 896.4,862 890,868.4 883.6,862"/>
<polygon fill="#000" points="918,831.6 924.4,838 918,844.4 911.6,838"/>
<polygon fill="#000" points="860,833.6 866.4,840 860,846.4 853.6,840"/>
<polygon fill="#000" points="930,843.6 936.4,850 930,856.4 923.6,850"/>
<polygon fill="#000" points="884,805.6 890.4,812 884,818.4 877.6,812"/>
<polygon fill="#000" points="896,811.6 902.4,818 896,824.4 889.6,818"/>
<polygon fill="#000" points="886,838.6 892.4,845 886,851.4 879.6,845"/>
<polygon fill="#000" points="866,815.6 872.4,822 866,828.4 859.6,822"/>
<polygon fill="#000" points="874,821.6 880.4,828 874,834.4 867.6,828"/>
<polygon fill="#000" points="905,813.6 911.4,820 905,826.4 898.6,820"/>
<polygon fill="#000" points="912,823.6 918.4,830 912,836.4 905.6,830"/>
<polygon fill="#000" points="880,839.6 886.4,846 880,852.4 873.6,846"/>
<polygon fill="#000" points="896,833.6 902.4,840 896,846.4 889.6,840"/>
<polygon fill="#000" points="908,839.6 914.4,846 908,852.4 901.6,846"/>
<polygon fill="#000" points="868,857.6 874.4,864 868,870.4 861.6,864"/>
<polygon fill="#000" points="876,853.6 882.4,860 876,866.4 869.6,860"/>
<polygon fill="#000" points="902,857.6 908.4,864 902,870.4 895.6,864"/>
<polygon fill="#000" points="858,841.6 864.4,848 858,854.4 851.6,848"/>
<polygon fill="#000" points="918,853.6 924.4,860 918,866.4 911.6,860"/>
<polygon fill="#000" points="925,835.6 931.4,842 925,848.4 918.6,842"/>
<polygon fill="#000" points="862,827.6 868.4,834 862,840.4 855.6,834"/>
<polygon fill="#000" points="888,819.6 894.4,826 888,832.4 881.6,826"/>
<polygon fill="#000" points="898,819.6 904.4,826 898,832.4 891.6,826"/>
<line x1="886.5" y1="811.2" x2="886.5" y2="859.1" stroke="#808080" stroke-width="5" stroke-linecap="butt"/>
<line x1="870.2" y1="811.2" x2="902.8" y2="811.2" stroke="#808080" stroke-width="5" stroke-linecap="butt"/>
<line x1="870.2" y1="859.1" x2="902.8" y2="859.1" stroke="#808080" stroke-width="5" stroke-linecap="butt"/>
<line x1="847.9" y1="836.5" x2="925.1" y2="836.5" stroke="#808080" stroke-width="5" stroke-linecap="butt"/>
<polygon fill="#00ff00" points="1057.9,798.5 1064.2,804.7 1057.9,811 1051.7,804.7"/>
<polygon fill="#00ff00" points="1047.5,801.9 1053.8,808.1 1047.5,814.4 1041.2,808.1"/>
<polygon fill="#00ff00" points="1067,807.5 1073.2,813.8 1067,820 1060.8,813.8"/>
<polygon fill="#00ff00" points="1038,808.5 1044.2,814.7 1038,821 1031.8,814.7"/>
<polygon fill="#00ff00" points="1057.9,810.4 1064.2,816.6 1057.9,822.9 1051.7,816.6"/>
<polygon fill="#00ff00" points="1019.4,823.6 1025.7,829.9 1019.4,836.1 1013.1,829.9"/>
<polygon fill="#00ff00" points="1029.4,820.9 1035.7,827.1 1029.4,833.4 1023.2,827.1"/>
<polygon fill="#00ff00" points="1038.9,824.6 1045.2,830.9 1038.9,837.1 1032.7,830.9"/>
<polygon fill="#00ff00" points="1061.7,823.6 1068,829.9 1061.7,836.1 1055.5,829.9"/>
<polygon fill="#00ff00" points="1076,824.6 1082.2,830.9 1076,837.1 1069.8,830.9"/>
<polygon fill="#00ff00" points="1086.5,826.5 1092.8,832.8 1086.5,839 1080.2,832.8"/>
<polygon fill="#00ff00" points="991.4,845.5 997.6,851.8 991.4,858 985.1,851.8"/>
<polygon fill="#00ff00" points="1000.4,840.8 1006.6,847 1000.4,853.2 994.1,847"/>
<polygon fill="#00ff00" points="1010.4,841.8 1016.6,848 1010.4,854.2 1004.1,848"/>
<polygon fill="#00ff00" points="1019.9,846.5 1026.2,852.7 1019.9,859 1013.6,852.7"/>
<polygon fill="#00ff00" points="1029.4,840.8 1035.7,847 1029.4,853.2 1023.2,847"/>
<polygon fill="#00ff00" points="1038,843.6 1044.2,849.9 1038,856.1 1031.8,849.9"/>
<polygon fill="#00ff00" points="1066.5,844.5 1072.8,850.8 1066.5,857 1060.2,850.8"/>
<polygon fill="#00ff00" points="1076,848.4 1082.2,854.6 1076,860.9 1069.8,854.6"/>
<polygon fill="#00ff00" points="1085.5,842.6 1091.8,848.9 1085.5,855.1 1079.2,848.9"/>
<polygon fill="#00ff00" points="1095,849.4 1101.2,855.6 1095,861.9 1088.8,855.6"/>
<polygon fill="#00ff00" points="1105,837 1111.2,843.2 1105,849.5 1098.8,843.2"/>
<polygon fill="#00ff00" points="1114,838.9 1120.2,845.1 1114,851.4 1107.8,845.1"/>
<polygon fill="#00ff00" points="1038,857.9 1044.2,864.1 1038,870.4 1031.8,864.1"/>
<polygon fill="#00ff00" points="1047.5,858.9 1053.8,865.1 1047.5,871.4 1041.2,865.1"/>
<polygon fill="#00ff00" points="1057.9,856 1064.2,862.2 1057.9,868.5 1051.7,862.2"/>
<polygon fill="#00ff00" points="1066.5,868.4 1072.8,874.6 1066.5,880.9 1060.2,874.6"/>
<polygon fill="#00ff00" points="1048,815.8 1054.2,822 1048,828.2 1041.8,822"/>
<polygon fill="#00ff00" points="1067,815.8 1073.2,822 1067,828.2 1060.8,822"/>
<polygon fill="#00ff00" points="1048,833.8 1054.2,840 1048,846.2 1041.8,840"/>
<polygon fill="#00ff00" points="1058,839.8 1064.2,846 1058,852.2 1051.8,846"/>
<polygon fill="#00ff00" points="1048,845.8 1054.2,852 1048,858.2 1041.8,852"/>
<polygon fill="#00ff00" points="1057,829.8 1063.2,836 1057,842.2 1050.8,836"/>
<polygon fill="#00ff00" points="1030,831.8 1036.2,838 1030,844.2 1023.8,838"/>
<polygon fill="#00ff00" points="1077,833.8 1083.2,840 1077,846.2 1070.8,840"/>
<polygon fill="#00ff00" points="1020,835.8 1026.2,842 1020,848.2 1013.8,842"/>
<polygon fill="#00ff00" points="1087,833.8 1093.2,840 1087,846.2 1080.8,840"/>
<line x1="1053.7" y1="822.8" x2="1053.7" y2="856.5" stroke="#007c00" stroke-width="6" stroke-linecap="butt"/>
<line x1="1036.4" y1="822.8" x2="1071" y2="822.8" stroke="#007c00" stroke-width="6" stroke-linecap="butt"/>
<line x1="1036.4" y1="856.5" x2="1071" y2="856.5" stroke="#007c00" stroke-width="6" stroke-linecap="butt"/>
<line x1="1014.7" y1="840.9" x2="1092.7" y2="840.9" stroke="#007c00" stroke-width="6" stroke-linecap="butt"/>
<polygon fill="#ff0000" points="1218.2,766.4 1224,772.1 1218.2,777.9 1212.5,772.1"/>
<polygon fill="#ff0000" points="1218.2,781.4 1224,787.1 1218.2,792.9 1212.5,787.1"/>
<polygon fill="#ff0000" points="1209.2,794.6 1215,800.4 1209.2,806.1 1203.5,800.4"/>
<polygon fill="#ff0000" points="1226.3,798.5 1232,804.2 1226.3,810 1220.5,804.2"/>
<polygon fill="#ff0000" points="1160,824.1 1165.8,829.9 1160,835.6 1154.2,829.9"/>
<polygon fill="#ff0000" points="1177.1,821.2 1182.8,827 1177.1,832.8 1171.3,827"/>
<polygon fill="#ff0000" points="1193.5,819.1 1199.2,824.9 1193.5,830.6 1187.8,824.9"/>
<polygon fill="#ff0000" points="1193.5,828.4 1199.2,834.1 1193.5,839.9 1187.8,834.1"/>
<polygon fill="#ff0000" points="1209.2,814.9 1215,820.6 1209.2,826.4 1203.5,820.6"/>
<polygon fill="#ff0000" points="1209.2,826.2 1215,832 1209.2,837.8 1203.5,832"/>
<polygon fill="#ff0000" points="1227,821.2 1232.8,827 1227,832.8 1221.2,827"/>
<polygon fill="#ff0000" points="1242.7,815.5 1248.5,821.3 1242.7,827 1237,821.3"/>
<polygon fill="#ff0000" points="1242.7,825.5 1248.5,831.3 1242.7,837 1237,831.3"/>
<polygon fill="#ff0000" points="1259.1,819.9 1264.8,825.6 1259.1,831.4 1253.3,825.6"/>
<polygon fill="#ff0000" points="1276.2,828.4 1282,834.1 1276.2,839.9 1270.5,834.1"/>
<polygon fill="#ff0000" points="1201.3,842.6 1207,848.4 1201.3,854.1 1195.5,848.4"/>
<polygon fill="#ff0000" points="1234.1,844.8 1239.8,850.5 1234.1,856.2 1228.3,850.5"/>
<polygon fill="#ff0000" points="1160,864.8 1165.8,870.5 1160,876.2 1154.2,870.5"/>
<polygon fill="#ff0000" points="1177.1,864 1182.8,869.8 1177.1,875.5 1171.3,869.8"/>
<polygon fill="#ff0000" points="1192.8,864.8 1198.5,870.5 1192.8,876.2 1187,870.5"/>
<polygon fill="#ff0000" points="1226.3,859.8 1232,865.5 1226.3,871.2 1220.5,865.5"/>
<polygon fill="#ff0000" points="1242.7,859.8 1248.5,865.5 1242.7,871.2 1237,865.5"/>
<polygon fill="#ff0000" points="1259.1,857.6 1264.8,863.4 1259.1,869.1 1253.3,863.4"/>
<polygon fill="#ff0000" points="1275.5,863.4 1281.2,869.1 1275.5,874.9 1269.8,869.1"/>
<polygon fill="#ff0000" points="1209.2,871.1 1215,876.9 1209.2,882.6 1203.5,876.9"/>
<polygon fill="#ff0000" points="1217.7,874 1223.5,879.8 1217.7,885.5 1212,879.8"/>
<polygon fill="#ff0000" points="1234.1,884.8 1239.8,890.5 1234.1,896.2 1228.3,890.5"/>
<polygon fill="#ff0000" points="1201.3,889 1207,894.8 1201.3,900.5 1195.5,894.8"/>
<polygon fill="#ff0000" points="1218,836.2 1223.8,842 1218,847.8 1212.2,842"/>
<line x1="1218.2" y1="811.6" x2="1218.2" y2="872.6" stroke="#ff00ff" stroke-width="6" stroke-linecap="butt"/>
<line x1="1201.5" y1="811.6" x2="1235" y2="811.6" stroke="#ff00ff" stroke-width="6" stroke-linecap="butt"/>
<line x1="1201.5" y1="872.6" x2="1235" y2="872.6" stroke="#ff00ff" stroke-width="6" stroke-linecap="butt"/>
<line x1="1178.6" y1="841.6" x2="1257.8" y2="841.6" stroke="#ff00ff" stroke-width="6" stroke-linecap="butt"/>
<line x1="1494.3" y1="44.5" x2="1494.3" y2="404.5" stroke="#000" stroke-width="4" stroke-linecap="butt"/>
<line x1="1492.5" y1="402.7" x2="1939.5" y2="402.7" stroke="#000" stroke-width="4" stroke-linecap="butt"/>
<line x1="1489.8" y1="403" x2="1494.3" y2="403" stroke="#000" stroke-width="3.2" stroke-linecap="butt"/>
<line x1="1485.3" y1="373.3" x2="1494.3" y2="373.3" stroke="#000" stroke-width="3.2" stroke-linecap="butt"/>
<line x1="1489.8" y1="343.6" x2="1494.3" y2="343.6" stroke="#000" stroke-width="3.2" stroke-linecap="butt"/>
<line x1="1485.3" y1="313.8" x2="1494.3" y2="313.8" stroke="#000" stroke-width="3.2" stroke-linecap="butt"/>
<line x1="1489.8" y1="284.1" x2="1494.3" y2="284.1" stroke="#000" stroke-width="3.2" stroke-linecap="butt"/>
<line x1="1485.3" y1="254.4" x2="1494.3" y2="254.4" stroke="#000" stroke-width="3.2" stroke-linecap="butt"/>
<line x1="1489.8" y1="224.7" x2="1494.3" y2="224.7" stroke="#000" stroke-width="3.2" stroke-linecap="butt"/>
<line x1="1485.3" y1="194.9" x2="1494.3" y2="194.9" stroke="#000" stroke-width="3.2" stroke-linecap="butt"/>
<line x1="1489.8" y1="165.2" x2="1494.3" y2="165.2" stroke="#000" stroke-width="3.2" stroke-linecap="butt"/>
<line x1="1485.3" y1="135.5" x2="1494.3" y2="135.5" stroke="#000" stroke-width="3.2" stroke-linecap="butt"/>
<line x1="1489.8" y1="105.7" x2="1494.3" y2="105.7" stroke="#000" stroke-width="3.2" stroke-linecap="butt"/>
<line x1="1485.3" y1="76" x2="1494.3" y2="76" stroke="#000" stroke-width="3.2" stroke-linecap="butt"/>
<line x1="1489.8" y1="46.3" x2="1494.3" y2="46.3" stroke="#000" stroke-width="3.2" stroke-linecap="butt"/>
<line x1="1493.6" y1="402.7" x2="1493.6" y2="412.2" stroke="#000" stroke-width="3.2" stroke-linecap="butt"/>
<line x1="1534" y1="402.7" x2="1534" y2="409.2" stroke="#000" stroke-width="3.2" stroke-linecap="butt"/>
<line x1="1574.4" y1="402.7" x2="1574.4" y2="412.2" stroke="#000" stroke-width="3.2" stroke-linecap="butt"/>
<line x1="1614.8" y1="402.7" x2="1614.8" y2="409.2" stroke="#000" stroke-width="3.2" stroke-linecap="butt"/>
<line x1="1655.2" y1="402.7" x2="1655.2" y2="412.2" stroke="#000" stroke-width="3.2" stroke-linecap="butt"/>
<line x1="1695.6" y1="402.7" x2="1695.6" y2="409.2" stroke="#000" stroke-width="3.2" stroke-linecap="butt"/>
<line x1="1736.1" y1="402.7" x2="1736.1" y2="412.2" stroke="#000" stroke-width="3.2" stroke-linecap="butt"/>
<line x1="1776.5" y1="402.7" x2="1776.5" y2="409.2" stroke="#000" stroke-width="3.2" stroke-linecap="butt"/>
<line x1="1816.9" y1="402.7" x2="1816.9" y2="412.2" stroke="#000" stroke-width="3.2" stroke-linecap="butt"/>
<line x1="1857.3" y1="402.7" x2="1857.3" y2="409.2" stroke="#000" stroke-width="3.2" stroke-linecap="butt"/>
<line x1="1897.7" y1="402.7" x2="1897.7" y2="412.2" stroke="#000" stroke-width="3.2" stroke-linecap="butt"/>
<line x1="1938.1" y1="402.7" x2="1938.1" y2="409.2" stroke="#000" stroke-width="3.2" stroke-linecap="butt"/>
<text x="1484" y="380" font-size="25" fill="#333" text-anchor="end" letter-spacing="2.3" stroke="#333" stroke-width="0.35">0.0</text>
<text x="1484" y="320.5" font-size="25" fill="#333" text-anchor="end" letter-spacing="2.3" stroke="#333" stroke-width="0.35">0.2</text>
<text x="1484" y="261.1" font-size="25" fill="#333" text-anchor="end" letter-spacing="2.3" stroke="#333" stroke-width="0.35">0.4</text>
<text x="1484" y="201.6" font-size="25" fill="#333" text-anchor="end" letter-spacing="2.3" stroke="#333" stroke-width="0.35">0.6</text>
<text x="1484" y="142.2" font-size="25" fill="#333" text-anchor="end" letter-spacing="2.3" stroke="#333" stroke-width="0.35">0.8</text>
<text x="1484" y="82.7" font-size="25" fill="#333" text-anchor="end" letter-spacing="2.3" stroke="#333" stroke-width="0.35">1.0</text>
<text x="1492.8" y="436.7" font-size="25" fill="#333" text-anchor="middle" letter-spacing="2.2" stroke="#333" stroke-width="0.35">0</text>
<text x="1573.6" y="436.7" font-size="25" fill="#333" text-anchor="middle" letter-spacing="2.2" stroke="#333" stroke-width="0.35">200</text>
<text x="1654.4" y="436.7" font-size="25" fill="#333" text-anchor="middle" letter-spacing="2.2" stroke="#333" stroke-width="0.35">400</text>
<text x="1735.3" y="436.7" font-size="25" fill="#333" text-anchor="middle" letter-spacing="2.2" stroke="#333" stroke-width="0.35">600</text>
<text x="1816.1" y="436.7" font-size="25" fill="#333" text-anchor="middle" letter-spacing="2.2" stroke="#333" stroke-width="0.35">800</text>
<text x="1896.9" y="436.7" font-size="25" fill="#333" text-anchor="middle" letter-spacing="2.2" stroke="#333" stroke-width="0.35">1000</text>
<text transform="translate(1409,417.5) rotate(-90)" font-size="35" fill="#333" textLength="340" lengthAdjust="spacingAndGlyphs">Cumulative Probability</text>
<text x="1628" y="488.4" font-size="35" fill="#333">APD</text>
<text x="1699.5" y="501.5" font-size="19" fill="#555" letter-spacing="2.5">80</text>
<text x="1732.8" y="488.4" font-size="35" fill="#333">(ms)</text>
<rect x="1625" y="72" width="277" height="8.5" fill="#000"/>
<path d="M1534 374.8 L1540.1 374.8 L1546.1 374.8 L1554.2 374.8 L1560.3 374.8 L1563.1 364.4 L1568.4 364.4 L1574.4 364.4 L1580.5 364.4 L1586.5 364.4 L1592.6 363.8 L1598.7 363.8 L1604.7 363.8 L1610.8 362.9 L1616.9 362.9 L1622.9 362.9 L1629 362.9 L1635 362.9 L1639.9 361.4 L1645.1 355.5 L1649.2 351 L1652 334.7 L1657.3 334.7 L1663.3 334.7 L1670.2 325.7 L1675.4 324.2 L1681.5 323.4 L1687.6 323.4 L1693.6 323.4 L1699.7 323.4 L1705.8 323.4 L1711.8 321.3 L1708.5 313.8 L1715.4 304.9 L1719.5 296 L1722 290.1 L1727.5 281.1 L1734.9 272.2 L1742.1 263.3 L1745.4 257.4 L1748.2 248.4 L1750.3 239.5 L1754.6 230.6 L1761.1 221.7 L1767.6 212.8 L1771.6 203.8 L1773.6 194.9 L1776.1 186 L1781.4 177.1 L1788.5 168.2 L1794.8 159.2 L1798.5 150.3 L1801.2 141.4 L1803.9 135.5 L1810.5 126.5 L1816.4 120.6 L1822.5 114.6 L1828.1 108.7 L1832.9 102.8 L1837.3 96.8 L1842.2 90.9 L1845.3 87.9 L1848.9 84.9 L1869.4 80.5 L1877.5 79 L1887.6 76 L1897.7 73" fill="none" stroke="#ff0000" stroke-width="5" stroke-linejoin="round" stroke-linecap="round"/>
<rect x="1530.3" y="371" width="7.5" height="7.5" fill="#ff0000"/>
<rect x="1536.3" y="371" width="7.5" height="7.5" fill="#ff0000"/>
<rect x="1542.4" y="371" width="7.5" height="7.5" fill="#ff0000"/>
<rect x="1550.5" y="371" width="7.5" height="7.5" fill="#ff0000"/>
<rect x="1556.5" y="371" width="7.5" height="7.5" fill="#ff0000"/>
<rect x="1559.4" y="360.6" width="7.5" height="7.5" fill="#ff0000"/>
<rect x="1564.6" y="360.6" width="7.5" height="7.5" fill="#ff0000"/>
<rect x="1570.7" y="360.6" width="7.5" height="7.5" fill="#ff0000"/>
<rect x="1576.7" y="360.6" width="7.5" height="7.5" fill="#ff0000"/>
<rect x="1582.8" y="360.6" width="7.5" height="7.5" fill="#ff0000"/>
<rect x="1588.9" y="360" width="7.5" height="7.5" fill="#ff0000"/>
<rect x="1594.9" y="360" width="7.5" height="7.5" fill="#ff0000"/>
<rect x="1601" y="360" width="7.5" height="7.5" fill="#ff0000"/>
<rect x="1607" y="359.1" width="7.5" height="7.5" fill="#ff0000"/>
<rect x="1613.1" y="359.1" width="7.5" height="7.5" fill="#ff0000"/>
<rect x="1619.2" y="359.1" width="7.5" height="7.5" fill="#ff0000"/>
<rect x="1625.2" y="359.1" width="7.5" height="7.5" fill="#ff0000"/>
<rect x="1631.3" y="359.1" width="7.5" height="7.5" fill="#ff0000"/>
<rect x="1636.1" y="357.7" width="7.5" height="7.5" fill="#ff0000"/>
<rect x="1641.4" y="351.7" width="7.5" height="7.5" fill="#ff0000"/>
<rect x="1645.4" y="347.3" width="7.5" height="7.5" fill="#ff0000"/>
<rect x="1648.3" y="330.9" width="7.5" height="7.5" fill="#ff0000"/>
<rect x="1653.5" y="330.9" width="7.5" height="7.5" fill="#ff0000"/>
<rect x="1659.6" y="330.9" width="7.5" height="7.5" fill="#ff0000"/>
<rect x="1666.4" y="322" width="7.5" height="7.5" fill="#ff0000"/>
<rect x="1671.7" y="320.5" width="7.5" height="7.5" fill="#ff0000"/>
<rect x="1677.8" y="319.6" width="7.5" height="7.5" fill="#ff0000"/>
<rect x="1683.8" y="319.6" width="7.5" height="7.5" fill="#ff0000"/>
<rect x="1689.9" y="319.6" width="7.5" height="7.5" fill="#ff0000"/>
<rect x="1695.9" y="319.6" width="7.5" height="7.5" fill="#ff0000"/>
<rect x="1702" y="319.6" width="7.5" height="7.5" fill="#ff0000"/>
<rect x="1708.1" y="317.5" width="7.5" height="7.5" fill="#ff0000"/>
<rect x="1704.7" y="310.1" width="7.5" height="7.5" fill="#ff0000"/>
<rect x="1711.7" y="301.2" width="7.5" height="7.5" fill="#ff0000"/>
<rect x="1715.8" y="292.3" width="7.5" height="7.5" fill="#ff0000"/>
<rect x="1718.3" y="286.3" width="7.5" height="7.5" fill="#ff0000"/>
<rect x="1723.7" y="277.4" width="7.5" height="7.5" fill="#ff0000"/>
<rect x="1731.2" y="268.5" width="7.5" height="7.5" fill="#ff0000"/>
<rect x="1738.3" y="259.5" width="7.5" height="7.5" fill="#ff0000"/>
<rect x="1741.7" y="253.6" width="7.5" height="7.5" fill="#ff0000"/>
<rect x="1744.4" y="244.7" width="7.5" height="7.5" fill="#ff0000"/>
<rect x="1746.6" y="235.8" width="7.5" height="7.5" fill="#ff0000"/>
<rect x="1750.8" y="226.8" width="7.5" height="7.5" fill="#ff0000"/>
<rect x="1757.4" y="217.9" width="7.5" height="7.5" fill="#ff0000"/>
<rect x="1763.9" y="209" width="7.5" height="7.5" fill="#ff0000"/>
<rect x="1767.9" y="200.1" width="7.5" height="7.5" fill="#ff0000"/>
<rect x="1769.8" y="191.2" width="7.5" height="7.5" fill="#ff0000"/>
<rect x="1772.4" y="182.3" width="7.5" height="7.5" fill="#ff0000"/>
<rect x="1777.6" y="173.3" width="7.5" height="7.5" fill="#ff0000"/>
<rect x="1784.8" y="164.4" width="7.5" height="7.5" fill="#ff0000"/>
<rect x="1791" y="155.5" width="7.5" height="7.5" fill="#ff0000"/>
<rect x="1794.8" y="146.6" width="7.5" height="7.5" fill="#ff0000"/>
<rect x="1797.5" y="137.7" width="7.5" height="7.5" fill="#ff0000"/>
<rect x="1800.1" y="131.7" width="7.5" height="7.5" fill="#ff0000"/>
<rect x="1806.8" y="122.8" width="7.5" height="7.5" fill="#ff0000"/>
<rect x="1812.7" y="116.8" width="7.5" height="7.5" fill="#ff0000"/>
<rect x="1818.8" y="110.9" width="7.5" height="7.5" fill="#ff0000"/>
<rect x="1824.4" y="105" width="7.5" height="7.5" fill="#ff0000"/>
<rect x="1829.1" y="99" width="7.5" height="7.5" fill="#ff0000"/>
<rect x="1833.5" y="93.1" width="7.5" height="7.5" fill="#ff0000"/>
<rect x="1838.5" y="87.1" width="7.5" height="7.5" fill="#ff0000"/>
<rect x="1841.5" y="84.1" width="7.5" height="7.5" fill="#ff0000"/>
<rect x="1845.2" y="81.2" width="7.5" height="7.5" fill="#ff0000"/>
<rect x="1865.7" y="76.7" width="7.5" height="7.5" fill="#ff0000"/>
<rect x="1873.7" y="75.2" width="7.5" height="7.5" fill="#ff0000"/>
<rect x="1883.8" y="72.2" width="7.5" height="7.5" fill="#ff0000"/>
<rect x="1893.9" y="69.3" width="7.5" height="7.5" fill="#ff0000"/>
<path d="M1534 365.8 L1534.9 365.8 L1535.8 365.8 L1536.7 365.8 L1537.7 365.7 L1538.6 365.7 L1539.5 365.7 L1540.4 365.7 L1541.3 365.7 L1542.2 365.7 L1543.1 365.6 L1544 365.6 L1544.9 365.6 L1545.9 365.6 L1546.8 365.6 L1547.7 365.5 L1548.6 365.5 L1549.5 365.5 L1550.4 365.5 L1551.3 365.5 L1552.2 365.4 L1553.2 365.4 L1554.1 365.4 L1555 365.4 L1555.9 365.3 L1556.8 365.3 L1557.7 365.3 L1558.6 365.3 L1559.5 365.2 L1560.4 365.2 L1561.4 365.2 L1562.3 365.2 L1563.2 365.1 L1564.1 365.1 L1565 365.1 L1565.9 365 L1566.8 365 L1567.7 365 L1568.6 364.9 L1569.6 364.9 L1570.5 364.9 L1571.4 364.8 L1572.3 364.8 L1573.2 364.8 L1574.1 364.7 L1575 364.7 L1575.9 364.6 L1576.9 364.6 L1577.8 364.5 L1578.7 364.5 L1579.6 364.5 L1580.5 364.4 L1581.4 364.4 L1582.3 364.3 L1583.2 364.3 L1584.1 364.2 L1585.1 364.2 L1586 364.1 L1586.9 364.1 L1587.8 364 L1588.7 363.9 L1589.6 363.9 L1590.5 363.8 L1591.4 363.8 L1592.3 363.7 L1593.3 363.6 L1594.2 363.6 L1595.1 363.5 L1596 363.4 L1596.9 363.3 L1597.8 363.3 L1598.7 363.2 L1599.6 363.1 L1600.5 363 L1601.5 363 L1602.4 362.9 L1603.3 362.8 L1604.2 362.7 L1605.1 362.6 L1606 362.5 L1606.9 362.4 L1607.8 362.3 L1608.8 362.2 L1609.7 362.1 L1610.6 362 L1611.5 361.9 L1612.4 361.8 L1613.3 361.7 L1614.2 361.6 L1615.1 361.5 L1616 361.4 L1617 361.3 L1617.9 361.1 L1618.8 361 L1619.7 360.9 L1620.6 360.8 L1621.5 360.6 L1622.4 360.5 L1623.3 360.3 L1624.2 360.2 L1625.2 360 L1626.1 359.9 L1627 359.7 L1627.9 359.6 L1628.8 359.4 L1629.7 359.2 L1630.6 359.1 L1631.5 358.9 L1632.5 358.7 L1633.4 358.5 L1634.3 358.4 L1635.2 358.2 L1636.1 358 L1637 357.8 L1637.9 357.6 L1638.8 357.4 L1639.7 357.1 L1640.7 356.9 L1641.6 356.7 L1642.5 356.5 L1643.4 356.2 L1644.3 356 L1645.2 355.7 L1646.1 355.5 L1647 355.2 L1647.9 355 L1648.9 354.7 L1649.8 354.4 L1650.7 354.2 L1651.6 353.9 L1652.5 353.6 L1653.4 353.3 L1654.3 353 L1655.2 352.7 L1656.2 352.3 L1657.1 352 L1658 351.7 L1658.9 351.3 L1659.8 351 L1660.7 350.6 L1661.6 350.3 L1662.5 349.9 L1663.4 349.5 L1664.4 349.1 L1665.3 348.7 L1666.2 348.3 L1667.1 347.9 L1668 347.5 L1668.9 347 L1669.8 346.6 L1670.7 346.1 L1671.6 345.7 L1672.6 345.2 L1673.5 344.7 L1674.4 344.2 L1675.3 343.7 L1676.2 343.2 L1677.1 342.7 L1678 342.1 L1678.9 341.6 L1679.9 341 L1680.8 340.5 L1681.7 339.9 L1682.6 339.3 L1683.5 338.7 L1684.4 338.1 L1685.3 337.5 L1686.2 336.8 L1687.1 336.2 L1688.1 335.5 L1689 334.8 L1689.9 334.1 L1690.8 333.4 L1691.7 332.7 L1692.6 332 L1693.5 331.2 L1694.4 330.5 L1695.3 329.7 L1696.3 328.9 L1697.2 328.1 L1698.1 327.3 L1699 326.4 L1699.9 325.6 L1700.8 324.7 L1701.7 323.8 L1702.6 323 L1703.5 322 L1704.5 321.1 L1705.4 320.2 L1706.3 319.2 L1707.2 318.2 L1708.1 317.2 L1709 316.2 L1709.9 315.2 L1710.8 314.2 L1711.8 313.1 L1712.7 312 L1713.6 310.9 L1714.5 309.8 L1715.4 308.7 L1716.3 307.6 L1717.2 306.4 L1718.1 305.2 L1719 304 L1720 302.8 L1720.9 301.6 L1721.8 300.3 L1722.7 299.1 L1723.6 297.8 L1724.5 296.5 L1725.4 295.1 L1726.3 293.8 L1727.2 292.5 L1728.2 291.1 L1729.1 289.7 L1730 288.3 L1730.9 286.9 L1731.8 285.4 L1732.7 284 L1733.6 282.5 L1734.5 281 L1735.5 279.5 L1736.4 278 L1737.3 276.4 L1738.2 274.9 L1739.1 273.3 L1740 271.7 L1740.9 270.1 L1741.8 268.5 L1742.7 266.9 L1743.7 265.2 L1744.6 263.6 L1745.5 261.9 L1746.4 260.2 L1747.3 258.5 L1748.2 256.8 L1749.1 255.1 L1750 253.4 L1750.9 251.6 L1751.9 249.9 L1752.8 248.1 L1753.7 246.3 L1754.6 244.5 L1755.5 242.7 L1756.4 240.9 L1757.3 239.1 L1758.2 237.3 L1759.2 235.5 L1760.1 233.6 L1761 231.8 L1761.9 229.9 L1762.8 228.1 L1763.7 226.2 L1764.6 224.4 L1765.5 222.5 L1766.4 220.6 L1767.4 218.7 L1768.3 216.9 L1769.2 215 L1770.1 213.1 L1771 211.2 L1771.9 209.4 L1772.8 207.5 L1773.7 205.6 L1774.6 203.7 L1775.6 201.8 L1776.5 200 L1777.4 198.1 L1778.3 196.2 L1779.2 194.4 L1780.1 192.5 L1781 190.7 L1781.9 188.8 L1782.9 187 L1783.8 185.1 L1784.7 183.3 L1785.6 181.5 L1786.5 179.7 L1787.4 177.9 L1788.3 176.1 L1789.2 174.3 L1790.1 172.5 L1791.1 170.8 L1792 169 L1792.9 167.3 L1793.8 165.6 L1794.7 163.9 L1795.6 162.2 L1796.5 160.5 L1797.4 158.8 L1798.3 157.1 L1799.3 155.5 L1800.2 153.8 L1801.1 152.2 L1802 150.6 L1802.9 149 L1803.8 147.5 L1804.7 145.9 L1805.6 144.3 L1806.5 142.8 L1807.5 141.3 L1808.4 139.8 L1809.3 138.3 L1810.2 136.9 L1811.1 135.4 L1812 134 L1812.9 132.6 L1813.8 131.2 L1814.8 129.8 L1815.7 128.4 L1816.6 127.1 L1817.5 125.8 L1818.4 124.5 L1819.3 123.2 L1820.2 121.9 L1821.1 120.7 L1822 119.4 L1823 118.2 L1823.9 117 L1824.8 115.8 L1825.7 114.6 L1826.6 113.5 L1827.5 112.3 L1828.4 111.2 L1829.3 110.1 L1830.2 109 L1831.2 108 L1832.1 106.9 L1833 105.9 L1833.9 104.9 L1834.8 103.9 L1835.7 102.9 L1836.6 101.9 L1837.5 101 L1838.5 100.1 L1839.4 99.1 L1840.3 98.2 L1841.2 97.4 L1842.1 96.5 L1843 95.6 L1843.9 94.8 L1844.8 94 L1845.7 93.2 L1846.7 92.4 L1847.6 91.6 L1848.5 90.8 L1849.4 90.1 L1850.3 89.3 L1851.2 88.6 L1852.1 87.9 L1853 87.2 L1853.9 86.5 L1854.9 85.8 L1855.8 85.2 L1856.7 84.5 L1857.6 83.9 L1858.5 83.3 L1859.4 82.7 L1860.3 82.1 L1861.2 81.5 L1862.2 80.9 L1863.1 80.3 L1864 79.8 L1864.9 79.3 L1865.8 78.7 L1866.7 78.2 L1867.6 77.7 L1868.5 77.2 L1869.4 76.7 L1870.4 76.2 L1871.3 75.8 L1872.2 75.3 L1873.1 74.9 L1874 74.4 L1874.9 74 L1875.8 73.6 L1876.7 73.2 L1877.6 72.8 L1878.6 72.4 L1879.5 72 L1880.4 71.6 L1881.3 71.3 L1882.2 70.9 L1883.1 70.5 L1884 70.2 L1884.9 69.9 L1885.9 69.5 L1886.8 69.2 L1887.7 68.9 L1888.6 68.6 L1889.5 68.3 L1890.4 68 L1891.3 67.7 L1892.2 67.4 L1893.1 67.1 L1894.1 66.9 L1895 66.6 L1895.9 66.3 L1896.8 66.1 L1897.7 65.8" fill="none" stroke="#ff0000" stroke-width="2.8" stroke-linejoin="round" stroke-linecap="round"/>
<rect x="1584" y="352.2" width="6.5" height="6.5" fill="#000"/>
<rect x="1586.8" y="340.3" width="6.5" height="6.5" fill="#000"/>
<rect x="1589.6" y="319.5" width="6.5" height="6.5" fill="#000"/>
<rect x="1592.1" y="310.6" width="6.5" height="6.5" fill="#000"/>
<rect x="1593.7" y="292.8" width="6.5" height="6.5" fill="#000"/>
<rect x="1596.1" y="280.9" width="6.5" height="6.5" fill="#000"/>
<rect x="1597.7" y="269" width="6.5" height="6.5" fill="#000"/>
<rect x="1598.9" y="257.1" width="6.5" height="6.5" fill="#000"/>
<rect x="1601" y="239.2" width="6.5" height="6.5" fill="#000"/>
<rect x="1603" y="221.4" width="6.5" height="6.5" fill="#000"/>
<rect x="1605" y="203.6" width="6.5" height="6.5" fill="#000"/>
<rect x="1606.6" y="191.7" width="6.5" height="6.5" fill="#000"/>
<rect x="1608.2" y="173.8" width="6.5" height="6.5" fill="#000"/>
<rect x="1609.8" y="156" width="6.5" height="6.5" fill="#000"/>
<rect x="1611.5" y="138.2" width="6.5" height="6.5" fill="#000"/>
<rect x="1613.1" y="117.3" width="6.5" height="6.5" fill="#000"/>
<rect x="1615.1" y="111.4" width="6.5" height="6.5" fill="#000"/>
<rect x="1617.9" y="102.5" width="6.5" height="6.5" fill="#000"/>
<rect x="1621.2" y="87.6" width="6.5" height="6.5" fill="#000"/>
<rect x="1625.2" y="81.7" width="6.5" height="6.5" fill="#000"/>
<path d="M1534 373.3 L1534.9 373.3 L1535.8 373.3 L1536.7 373.3 L1537.7 373.3 L1538.6 373.3 L1539.5 373.3 L1540.4 373.2 L1541.3 373.2 L1542.2 373.2 L1543.1 373.2 L1544 373.2 L1544.9 373.2 L1545.9 373.2 L1546.8 373.2 L1547.7 373.2 L1548.6 373.1 L1549.5 373.1 L1550.4 373.1 L1551.3 373.1 L1552.2 373 L1553.2 373 L1554.1 373 L1555 372.9 L1555.9 372.9 L1556.8 372.8 L1557.7 372.7 L1558.6 372.7 L1559.5 372.6 L1560.4 372.5 L1561.4 372.4 L1562.3 372.3 L1563.2 372.1 L1564.1 372 L1565 371.8 L1565.9 371.6 L1566.8 371.4 L1567.7 371.1 L1568.6 370.8 L1569.6 370.5 L1570.5 370.2 L1571.4 369.8 L1572.3 369.3 L1573.2 368.8 L1574.1 368.2 L1575 367.6 L1575.9 366.8 L1576.9 366 L1577.8 365.1 L1578.7 364.1 L1579.6 362.9 L1580.5 361.6 L1581.4 360.1 L1582.3 358.5 L1583.2 356.7 L1584.1 354.6 L1585.1 352.4 L1586 349.9 L1586.9 347.1 L1587.8 344 L1588.7 340.6 L1589.6 336.8 L1590.5 332.7 L1591.4 328.2 L1592.3 323.4 L1593.3 318.1 L1594.2 312.3 L1595.1 306.2 L1596 299.6 L1596.9 292.6 L1597.8 285.2 L1598.7 277.4 L1599.6 269.3 L1600.5 260.8 L1601.5 252.1 L1602.4 243.2 L1603.3 234.2 L1604.2 225.1 L1605.1 216 L1606 207 L1606.9 198.1 L1607.8 189.4 L1608.8 180.9 L1609.7 172.7 L1610.6 164.9 L1611.5 157.5 L1612.4 150.4 L1613.3 143.8 L1614.2 137.6 L1615.1 131.8 L1616 126.5 L1617 121.5 L1617.9 117 L1618.8 112.9 L1619.7 109.1 L1620.6 105.6 L1621.5 102.5 L1622.4 99.7 L1623.3 97.2 L1624.2 94.9 L1625.2 92.8 L1626.1 91 L1627 89.3 L1627.9 87.9 L1628.8 86.5 L1629.7 85.4 L1630.6 84.3 L1631.5 83.4 L1632.5 82.5 L1633.4 81.8 L1634.3 81.1 L1635.2 80.6 L1636.1 80 L1637 79.6 L1637.9 79.2 L1638.8 78.8 L1639.7 78.5 L1640.7 78.2 L1641.6 78 L1642.5 77.7 L1643.4 77.5 L1644.3 77.4 L1645.2 77.2 L1646.1 77.1 L1647 76.9 L1647.9 76.8 L1648.9 76.7 L1649.8 76.7 L1650.7 76.6 L1651.6 76.5 L1652.5 76.5 L1653.4 76.4 L1654.3 76.4 L1655.2 76.3 L1656.2 76.3 L1657.1 76.2 L1658 76.2 L1658.9 76.2 L1659.8 76.2 L1660.7 76.1 L1661.6 76.1 L1662.5 76.1 L1663.4 76.1 L1664.4 76.1 L1665.3 76.1 L1666.2 76.1 L1667.1 76.1 L1668 76.1 L1668.9 76 L1669.8 76 L1670.7 76 L1671.6 76 L1672.6 76 L1673.5 76 L1674.4 76 L1675.3 76 L1676.2 76 L1677.1 76 L1678 76 L1678.9 76 L1679.9 76 L1680.8 76 L1681.7 76 L1682.6 76 L1683.5 76 L1684.4 76 L1685.3 76 L1686.2 76 L1687.1 76 L1688.1 76 L1689 76 L1689.9 76 L1690.8 76 L1691.7 76 L1692.6 76 L1693.5 76 L1694.4 76 L1695.3 76 L1696.3 76 L1697.2 76 L1698.1 76 L1699 76 L1699.9 76 L1700.8 76 L1701.7 76 L1702.6 76 L1703.5 76 L1704.5 76 L1705.4 76 L1706.3 76 L1707.2 76 L1708.1 76 L1709 76 L1709.9 76 L1710.8 76 L1711.8 76 L1712.7 76 L1713.6 76 L1714.5 76 L1715.4 76 L1716.3 76 L1717.2 76 L1718.1 76 L1719 76 L1720 76 L1720.9 76 L1721.8 76 L1722.7 76 L1723.6 76 L1724.5 76 L1725.4 76 L1726.3 76 L1727.2 76 L1728.2 76 L1729.1 76 L1730 76 L1730.9 76 L1731.8 76 L1732.7 76 L1733.6 76 L1734.5 76 L1735.5 76 L1736.4 76 L1737.3 76 L1738.2 76 L1739.1 76 L1740 76 L1740.9 76 L1741.8 76 L1742.7 76 L1743.7 76 L1744.6 76 L1745.5 76 L1746.4 76 L1747.3 76 L1748.2 76 L1749.1 76 L1750 76 L1750.9 76 L1751.9 76 L1752.8 76 L1753.7 76 L1754.6 76 L1755.5 76 L1756.4 76 L1757.3 76 L1758.2 76 L1759.2 76 L1760.1 76 L1761 76 L1761.9 76 L1762.8 76 L1763.7 76 L1764.6 76 L1765.5 76 L1766.4 76 L1767.4 76 L1768.3 76 L1769.2 76 L1770.1 76 L1771 76 L1771.9 76 L1772.8 76 L1773.7 76 L1774.6 76 L1775.6 76 L1776.5 76 L1777.4 76 L1778.3 76 L1779.2 76 L1780.1 76 L1781 76 L1781.9 76 L1782.9 76 L1783.8 76 L1784.7 76 L1785.6 76 L1786.5 76 L1787.4 76 L1788.3 76 L1789.2 76 L1790.1 76 L1791.1 76 L1792 76 L1792.9 76 L1793.8 76 L1794.7 76 L1795.6 76 L1796.5 76 L1797.4 76 L1798.3 76 L1799.3 76 L1800.2 76 L1801.1 76 L1802 76 L1802.9 76 L1803.8 76 L1804.7 76 L1805.6 76 L1806.5 76 L1807.5 76 L1808.4 76 L1809.3 76 L1810.2 76 L1811.1 76 L1812 76 L1812.9 76 L1813.8 76 L1814.8 76 L1815.7 76 L1816.6 76 L1817.5 76 L1818.4 76 L1819.3 76 L1820.2 76 L1821.1 76 L1822 76 L1823 76 L1823.9 76 L1824.8 76 L1825.7 76 L1826.6 76 L1827.5 76 L1828.4 76 L1829.3 76 L1830.2 76 L1831.2 76 L1832.1 76 L1833 76 L1833.9 76 L1834.8 76 L1835.7 76 L1836.6 76 L1837.5 76 L1838.5 76 L1839.4 76 L1840.3 76 L1841.2 76 L1842.1 76 L1843 76 L1843.9 76 L1844.8 76 L1845.7 76 L1846.7 76 L1847.6 76 L1848.5 76 L1849.4 76 L1850.3 76 L1851.2 76 L1852.1 76 L1853 76 L1853.9 76 L1854.9 76 L1855.8 76 L1856.7 76 L1857.6 76 L1858.5 76 L1859.4 76 L1860.3 76 L1861.2 76 L1862.2 76 L1863.1 76 L1864 76 L1864.9 76 L1865.8 76 L1866.7 76 L1867.6 76 L1868.5 76 L1869.4 76 L1870.4 76 L1871.3 76 L1872.2 76 L1873.1 76 L1874 76 L1874.9 76 L1875.8 76 L1876.7 76 L1877.6 76 L1878.6 76 L1879.5 76 L1880.4 76 L1881.3 76 L1882.2 76 L1883.1 76 L1884 76 L1884.9 76 L1885.9 76 L1886.8 76 L1887.7 76 L1888.6 76 L1889.5 76 L1890.4 76 L1891.3 76 L1892.2 76 L1893.1 76 L1894.1 76 L1895 76 L1895.9 76 L1896.8 76 L1897.7 76" fill="none" stroke="#000" stroke-width="2.8" stroke-linejoin="round" stroke-linecap="round"/>
<line x1="1778.3" y1="294.6" x2="1845" y2="294.6" stroke="#000" stroke-width="4.2" stroke-linecap="butt"/>
<line x1="1778.3" y1="328.1" x2="1845" y2="328.1" stroke="#ff0000" stroke-width="4.2" stroke-linecap="butt"/>
<text x="1849.9" y="303.7" font-size="25" fill="#222" stroke="#222" stroke-width="0.4">0</text>
<text x="1874" y="303.7" font-size="25" fill="#555" textLength="30" lengthAdjust="spacingAndGlyphs">µM</text>
<text x="1919.6 1938.1 1954.4 1968.6 1984.6" y="303.7" font-size="25" fill="#222" stroke="#222" stroke-width="0.4">E4031</text>
<text x="1849.9" y="337.3" font-size="25" fill="#222" stroke="#222" stroke-width="0.4">2</text>
<text x="1874" y="337.3" font-size="25" fill="#555" textLength="30" lengthAdjust="spacingAndGlyphs">µM</text>
<text x="1919.6 1938.1 1954.4 1968.6 1984.6" y="337.3" font-size="25" fill="#222" stroke="#222" stroke-width="0.4">E4031</text>
<line x1="1493.6" y1="574.5" x2="1493.6" y2="953.8" stroke="#000" stroke-width="4" stroke-linecap="butt"/>
<line x1="1491.5" y1="951.9" x2="1973.3" y2="951.9" stroke="#000" stroke-width="4" stroke-linecap="butt"/>
<line x1="1489.1" y1="952.2" x2="1493.6" y2="952.2" stroke="#000" stroke-width="3.2" stroke-linecap="butt"/>
<line x1="1484.6" y1="920.9" x2="1493.6" y2="920.9" stroke="#000" stroke-width="3.2" stroke-linecap="butt"/>
<line x1="1489.1" y1="889.6" x2="1493.6" y2="889.6" stroke="#000" stroke-width="3.2" stroke-linecap="butt"/>
<line x1="1484.6" y1="858.2" x2="1493.6" y2="858.2" stroke="#000" stroke-width="3.2" stroke-linecap="butt"/>
<line x1="1489.1" y1="826.9" x2="1493.6" y2="826.9" stroke="#000" stroke-width="3.2" stroke-linecap="butt"/>
<line x1="1484.6" y1="795.6" x2="1493.6" y2="795.6" stroke="#000" stroke-width="3.2" stroke-linecap="butt"/>
<line x1="1489.1" y1="764.2" x2="1493.6" y2="764.2" stroke="#000" stroke-width="3.2" stroke-linecap="butt"/>
<line x1="1484.6" y1="732.9" x2="1493.6" y2="732.9" stroke="#000" stroke-width="3.2" stroke-linecap="butt"/>
<line x1="1489.1" y1="701.6" x2="1493.6" y2="701.6" stroke="#000" stroke-width="3.2" stroke-linecap="butt"/>
<line x1="1484.6" y1="670.3" x2="1493.6" y2="670.3" stroke="#000" stroke-width="3.2" stroke-linecap="butt"/>
<line x1="1489.1" y1="638.9" x2="1493.6" y2="638.9" stroke="#000" stroke-width="3.2" stroke-linecap="butt"/>
<line x1="1484.6" y1="607.6" x2="1493.6" y2="607.6" stroke="#000" stroke-width="3.2" stroke-linecap="butt"/>
<line x1="1489.1" y1="576.3" x2="1493.6" y2="576.3" stroke="#000" stroke-width="3.2" stroke-linecap="butt"/>
<line x1="1493.9" y1="951.9" x2="1493.9" y2="961.9" stroke="#000" stroke-width="3.2" stroke-linecap="butt"/>
<line x1="1541.6" y1="951.9" x2="1541.6" y2="957.9" stroke="#000" stroke-width="3.2" stroke-linecap="butt"/>
<line x1="1589.4" y1="951.9" x2="1589.4" y2="961.9" stroke="#000" stroke-width="3.2" stroke-linecap="butt"/>
<line x1="1637.1" y1="951.9" x2="1637.1" y2="957.9" stroke="#000" stroke-width="3.2" stroke-linecap="butt"/>
<line x1="1684.9" y1="951.9" x2="1684.9" y2="961.9" stroke="#000" stroke-width="3.2" stroke-linecap="butt"/>
<line x1="1732.6" y1="951.9" x2="1732.6" y2="957.9" stroke="#000" stroke-width="3.2" stroke-linecap="butt"/>
<line x1="1780.3" y1="951.9" x2="1780.3" y2="961.9" stroke="#000" stroke-width="3.2" stroke-linecap="butt"/>
<line x1="1828.1" y1="951.9" x2="1828.1" y2="957.9" stroke="#000" stroke-width="3.2" stroke-linecap="butt"/>
<line x1="1875.8" y1="951.9" x2="1875.8" y2="961.9" stroke="#000" stroke-width="3.2" stroke-linecap="butt"/>
<line x1="1923.6" y1="951.9" x2="1923.6" y2="957.9" stroke="#000" stroke-width="3.2" stroke-linecap="butt"/>
<line x1="1971.3" y1="951.9" x2="1971.3" y2="961.9" stroke="#000" stroke-width="3.2" stroke-linecap="butt"/>
<text x="1481.5" y="927.4" font-size="24" fill="#333" text-anchor="end" letter-spacing="2.2" stroke="#333" stroke-width="0.35">0.0</text>
<text x="1481.5" y="864.7" font-size="24" fill="#333" text-anchor="end" letter-spacing="2.2" stroke="#333" stroke-width="0.35">0.2</text>
<text x="1481.5" y="802.1" font-size="24" fill="#333" text-anchor="end" letter-spacing="2.2" stroke="#333" stroke-width="0.35">0.4</text>
<text x="1481.5" y="739.4" font-size="24" fill="#333" text-anchor="end" letter-spacing="2.2" stroke="#333" stroke-width="0.35">0.6</text>
<text x="1481.5" y="676.8" font-size="24" fill="#333" text-anchor="end" letter-spacing="2.2" stroke="#333" stroke-width="0.35">0.8</text>
<text x="1481.5" y="614.1" font-size="24" fill="#333" text-anchor="end" letter-spacing="2.2" stroke="#333" stroke-width="0.35">1.0</text>
<text x="1493" y="987.1" font-size="24.5" fill="#333" text-anchor="middle" letter-spacing="2.6" stroke="#333" stroke-width="0.35">100</text>
<text x="1588.5" y="987.1" font-size="24.5" fill="#333" text-anchor="middle" letter-spacing="2.6" stroke="#333" stroke-width="0.35">200</text>
<text x="1684" y="987.1" font-size="24.5" fill="#333" text-anchor="middle" letter-spacing="2.6" stroke="#333" stroke-width="0.35">300</text>
<text x="1779.4" y="987.1" font-size="24.5" fill="#333" text-anchor="middle" letter-spacing="2.6" stroke="#333" stroke-width="0.35">400</text>
<text x="1874.9" y="987.1" font-size="24.5" fill="#333" text-anchor="middle" letter-spacing="2.6" stroke="#333" stroke-width="0.35">500</text>
<text x="1970.4" y="987.1" font-size="24.5" fill="#333" text-anchor="middle" letter-spacing="2.6" stroke="#333" stroke-width="0.35">600</text>
<text transform="translate(1423.5,964) rotate(-90)" font-size="35.5" fill="#333" textLength="349" lengthAdjust="spacingAndGlyphs">Cumulative Probability</text>
<text x="1644.5" y="1038.2" font-size="35.5" fill="#333">APD</text>
<text x="1717" y="1049.7" font-size="19" fill="#555" letter-spacing="2.5">80</text>
<text x="1747.8" y="1038.2" font-size="35.5" fill="#333">(ms)</text>
<rect x="1535" y="917.9" width="92.6" height="6" fill="#00ff00"/>
<rect x="1596.1" y="917.9" width="20.1" height="6" fill="#000"/>
<rect x="1536.3" y="918.1" width="5.5" height="5.5" fill="#000"/>
<rect x="1618" y="890.2" width="5.5" height="5.5" fill="#000"/>
<rect x="1626.2" y="882.9" width="5.5" height="5.5" fill="#000"/>
<rect x="1645.6" y="860.3" width="5.5" height="5.5" fill="#000"/>
<rect x="1644.5" y="859.5" width="5.5" height="5.5" fill="#000"/>
<rect x="1646.9" y="858.3" width="5.5" height="5.5" fill="#000"/>
<rect x="1649.9" y="856.4" width="5.5" height="5.5" fill="#000"/>
<rect x="1650" y="852.5" width="5.5" height="5.5" fill="#000"/>
<rect x="1654.8" y="848.7" width="5.5" height="5.5" fill="#000"/>
<rect x="1657.8" y="836.6" width="5.5" height="5.5" fill="#000"/>
<rect x="1673.4" y="811.5" width="5.5" height="5.5" fill="#000"/>
<rect x="1684.3" y="785.5" width="5.5" height="5.5" fill="#000"/>
<rect x="1687.8" y="783.4" width="5.5" height="5.5" fill="#000"/>
<rect x="1689.8" y="780.2" width="5.5" height="5.5" fill="#000"/>
<rect x="1689.4" y="779.9" width="5.5" height="5.5" fill="#000"/>
<rect x="1694.1" y="770.2" width="5.5" height="5.5" fill="#000"/>
<rect x="1701.1" y="762.3" width="5.5" height="5.5" fill="#000"/>
<rect x="1709.3" y="745.1" width="5.5" height="5.5" fill="#000"/>
<rect x="1711.9" y="728.3" width="5.5" height="5.5" fill="#000"/>
<rect x="1716.7" y="728.2" width="5.5" height="5.5" fill="#000"/>
<rect x="1714.1" y="720.5" width="5.5" height="5.5" fill="#000"/>
<rect x="1719.4" y="712.6" width="5.5" height="5.5" fill="#000"/>
<rect x="1722.7" y="707.6" width="5.5" height="5.5" fill="#000"/>
<rect x="1723.8" y="706.4" width="5.5" height="5.5" fill="#000"/>
<rect x="1724.5" y="699.2" width="5.5" height="5.5" fill="#000"/>
<rect x="1726.6" y="695.8" width="5.5" height="5.5" fill="#000"/>
<rect x="1730" y="691.4" width="5.5" height="5.5" fill="#000"/>
<rect x="1734.7" y="679.6" width="5.5" height="5.5" fill="#000"/>
<rect x="1740.3" y="673.4" width="5.5" height="5.5" fill="#000"/>
<rect x="1743.9" y="672.3" width="5.5" height="5.5" fill="#000"/>
<rect x="1763.4" y="650.6" width="5.5" height="5.5" fill="#000"/>
<rect x="1817.1" y="619.2" width="5.5" height="5.5" fill="#000"/>
<rect x="1821.7" y="617.9" width="5.5" height="5.5" fill="#000"/>
<rect x="1846.5" y="610.9" width="5.5" height="5.5" fill="#000"/>
<rect x="1910" y="607.1" width="5.5" height="5.5" fill="#000"/>
<rect x="1552.6" y="914.9" width="5.5" height="5.5" fill="#00ff00"/>
<rect x="1569" y="913.4" width="5.5" height="5.5" fill="#00ff00"/>
<rect x="1592.4" y="908.9" width="5.5" height="5.5" fill="#00ff00"/>
<rect x="1636.2" y="882.7" width="5.5" height="5.5" fill="#00ff00"/>
<rect x="1640.4" y="880.2" width="5.5" height="5.5" fill="#00ff00"/>
<rect x="1640.3" y="875.8" width="5.5" height="5.5" fill="#00ff00"/>
<rect x="1645.9" y="861.9" width="5.5" height="5.5" fill="#00ff00"/>
<rect x="1660.8" y="838" width="5.5" height="5.5" fill="#00ff00"/>
<rect x="1661.7" y="831.5" width="5.5" height="5.5" fill="#00ff00"/>
<rect x="1661.6" y="830.6" width="5.5" height="5.5" fill="#00ff00"/>
<rect x="1662.2" y="830.2" width="5.5" height="5.5" fill="#00ff00"/>
<rect x="1666.6" y="825.6" width="5.5" height="5.5" fill="#00ff00"/>
<rect x="1665.6" y="817.2" width="5.5" height="5.5" fill="#00ff00"/>
<rect x="1677.8" y="786.1" width="5.5" height="5.5" fill="#00ff00"/>
<rect x="1680.9" y="783" width="5.5" height="5.5" fill="#00ff00"/>
<rect x="1699.5" y="730" width="5.5" height="5.5" fill="#00ff00"/>
<rect x="1702" y="717.6" width="5.5" height="5.5" fill="#00ff00"/>
<rect x="1706.7" y="702.5" width="5.5" height="5.5" fill="#00ff00"/>
<rect x="1710.4" y="698.6" width="5.5" height="5.5" fill="#00ff00"/>
<rect x="1714.3" y="692.6" width="5.5" height="5.5" fill="#00ff00"/>
<rect x="1715.8" y="683.9" width="5.5" height="5.5" fill="#00ff00"/>
<rect x="1717" y="680.1" width="5.5" height="5.5" fill="#00ff00"/>
<rect x="1718.2" y="679.8" width="5.5" height="5.5" fill="#00ff00"/>
<rect x="1712.9" y="676" width="5.5" height="5.5" fill="#00ff00"/>
<rect x="1715.3" y="671.5" width="5.5" height="5.5" fill="#00ff00"/>
<rect x="1720.8" y="666.2" width="5.5" height="5.5" fill="#00ff00"/>
<rect x="1721.7" y="663.7" width="5.5" height="5.5" fill="#00ff00"/>
<rect x="1725.7" y="659" width="5.5" height="5.5" fill="#00ff00"/>
<rect x="1729" y="657.4" width="5.5" height="5.5" fill="#00ff00"/>
<rect x="1735.1" y="645.8" width="5.5" height="5.5" fill="#00ff00"/>
<rect x="1742.6" y="638.4" width="5.5" height="5.5" fill="#00ff00"/>
<rect x="1747.2" y="632.1" width="5.5" height="5.5" fill="#00ff00"/>
<rect x="1751.7" y="630.2" width="5.5" height="5.5" fill="#00ff00"/>
<rect x="1800.8" y="609.6" width="5.5" height="5.5" fill="#00ff00"/>
<rect x="1904.4" y="605.3" width="5.5" height="5.5" fill="#00ff00"/>
<rect x="1536.6" y="912" width="5.5" height="5.5" fill="#ff0000"/>
<rect x="1533.9" y="910.3" width="5.5" height="5.5" fill="#ff0000"/>
<rect x="1535.4" y="908.8" width="5.5" height="5.5" fill="#ff0000"/>
<rect x="1606.5" y="858.7" width="5.5" height="5.5" fill="#ff0000"/>
<rect x="1614.1" y="854.2" width="5.5" height="5.5" fill="#ff0000"/>
<rect x="1617.6" y="850.5" width="5.5" height="5.5" fill="#ff0000"/>
<rect x="1635.6" y="831" width="5.5" height="5.5" fill="#ff0000"/>
<rect x="1660.1" y="803.3" width="5.5" height="5.5" fill="#ff0000"/>
<rect x="1671" y="787.3" width="5.5" height="5.5" fill="#ff0000"/>
<rect x="1674" y="784.2" width="5.5" height="5.5" fill="#ff0000"/>
<rect x="1689" y="765.2" width="5.5" height="5.5" fill="#ff0000"/>
<rect x="1706" y="730.2" width="5.5" height="5.5" fill="#ff0000"/>
<rect x="1710.2" y="727.1" width="5.5" height="5.5" fill="#ff0000"/>
<rect x="1721.4" y="710.2" width="5.5" height="5.5" fill="#ff0000"/>
<rect x="1747.1" y="673.9" width="5.5" height="5.5" fill="#ff0000"/>
<rect x="1756.4" y="666" width="5.5" height="5.5" fill="#ff0000"/>
<rect x="1754.2" y="665.4" width="5.5" height="5.5" fill="#ff0000"/>
<rect x="1828.9" y="623.8" width="5.5" height="5.5" fill="#ff0000"/>
<rect x="1880.7" y="613.9" width="5.5" height="5.5" fill="#ff0000"/>
<rect x="1883" y="613.7" width="5.5" height="5.5" fill="#ff0000"/>
<rect x="1707" y="748.9" width="5.5" height="5.5" fill="#000"/>
<rect x="1729.5" y="700.4" width="5.5" height="5.5" fill="#000"/>
<rect x="1765.2" y="650.2" width="5.5" height="5.5" fill="#000"/>
<rect x="1792.7" y="647" width="5.5" height="5.5" fill="#000"/>
<rect x="1826.5" y="616.4" width="5.5" height="5.5" fill="#000"/>
<rect x="1863.8" y="610.6" width="5.5" height="5.5" fill="#000"/>
<rect x="1892.8" y="612.4" width="5.5" height="5.5" fill="#000"/>
<rect x="1902.5" y="612.4" width="5.5" height="5.5" fill="#000"/>
<rect x="1578.2" y="915.9" width="5.5" height="5.5" fill="#000"/>
<rect x="1587.2" y="914.2" width="5.5" height="5.5" fill="#000"/>
<rect x="1597.2" y="912.2" width="5.5" height="5.5" fill="#000"/>
<rect x="1609.2" y="909.2" width="5.5" height="5.5" fill="#000"/>
<rect x="1719.8" y="671.2" width="5.5" height="5.5" fill="#00ff00"/>
<rect x="1749" y="634.1" width="5.5" height="5.5" fill="#00ff00"/>
<rect x="1750.5" y="642.2" width="5.5" height="5.5" fill="#00ff00"/>
<rect x="1766.8" y="622.9" width="5.5" height="5.5" fill="#00ff00"/>
<rect x="1773.2" y="619.5" width="5.5" height="5.5" fill="#00ff00"/>
<rect x="1602.2" y="909.2" width="5.5" height="5.5" fill="#00ff00"/>
<rect x="1612.2" y="909.2" width="5.5" height="5.5" fill="#00ff00"/>
<rect x="1624.2" y="909.2" width="5.5" height="5.5" fill="#00ff00"/>
<rect x="1687.2" y="757.2" width="5.5" height="5.5" fill="#00ff00"/>
<rect x="1694.2" y="742.2" width="5.5" height="5.5" fill="#00ff00"/>
<rect x="1539.2" y="907" width="5.5" height="5.5" fill="#ff0000"/>
<rect x="1549.2" y="903.2" width="5.5" height="5.5" fill="#ff0000"/>
<rect x="1561" y="895" width="5.5" height="5.5" fill="#ff0000"/>
<rect x="1572.2" y="890.2" width="5.5" height="5.5" fill="#ff0000"/>
<rect x="1582.8" y="887.5" width="5.5" height="5.5" fill="#ff0000"/>
<rect x="1591.5" y="874.2" width="5.5" height="5.5" fill="#ff0000"/>
<rect x="1600.2" y="863.2" width="5.5" height="5.5" fill="#ff0000"/>
<rect x="1611.2" y="835" width="5.5" height="5.5" fill="#ff0000"/>
<rect x="1615.7" y="824" width="5.5" height="5.5" fill="#ff0000"/>
<rect x="1622.2" y="815.2" width="5.5" height="5.5" fill="#ff0000"/>
<rect x="1668" y="791.2" width="5.5" height="5.5" fill="#ff0000"/>
<rect x="1674.7" y="782.5" width="5.5" height="5.5" fill="#ff0000"/>
<rect x="1696.2" y="762.9" width="5.5" height="5.5" fill="#ff0000"/>
<rect x="1705.2" y="751.9" width="5.5" height="5.5" fill="#ff0000"/>
<rect x="1707.2" y="741" width="5.5" height="5.5" fill="#ff0000"/>
<rect x="1740.8" y="656.8" width="5.5" height="5.5" fill="#ff0000"/>
<rect x="1734.5" y="677.8" width="5.5" height="5.5" fill="#ff0000"/>
<rect x="1728" y="689" width="5.5" height="5.5" fill="#ff0000"/>
<rect x="1721.5" y="719.8" width="5.5" height="5.5" fill="#ff0000"/>
<rect x="1715" y="729.5" width="5.5" height="5.5" fill="#ff0000"/>
<rect x="1711.8" y="740.8" width="5.5" height="5.5" fill="#ff0000"/>
<rect x="1770" y="647" width="5.5" height="5.5" fill="#ff0000"/>
<rect x="1791" y="635.8" width="5.5" height="5.5" fill="#ff0000"/>
<rect x="1802.2" y="626" width="5.5" height="5.5" fill="#ff0000"/>
<rect x="1829.8" y="622.9" width="5.5" height="5.5" fill="#ff0000"/>
<rect x="1842.8" y="619.5" width="5.5" height="5.5" fill="#ff0000"/>
<rect x="1867" y="616.4" width="5.5" height="5.5" fill="#ff0000"/>
<rect x="1883.2" y="601.8" width="5.5" height="5.5" fill="#ff0000"/>
<rect x="1891.2" y="601.8" width="5.5" height="5.5" fill="#ff0000"/>
<rect x="1902.5" y="601.8" width="5.5" height="5.5" fill="#ff0000"/>
<rect x="1627.6" y="803" width="36.3" height="4" fill="#ff0000"/>
<rect x="1789.9" y="604.6" width="128.9" height="6" fill="#00ff00"/>
<path d="M1535 902.3 L1536.2 902 L1537.5 901.7 L1538.8 901.3 L1540.1 901 L1541.4 900.6 L1542.7 900.3 L1544 899.9 L1545.3 899.5 L1546.6 899.1 L1547.9 898.7 L1549.2 898.3 L1550.5 897.9 L1551.8 897.5 L1553.1 897 L1554.4 896.6 L1555.6 896.1 L1556.9 895.7 L1558.2 895.2 L1559.5 894.7 L1560.8 894.2 L1562.1 893.7 L1563.4 893.1 L1564.7 892.6 L1566 892 L1567.3 891.5 L1568.6 890.9 L1569.9 890.3 L1571.2 889.7 L1572.5 889.1 L1573.8 888.4 L1575 887.8 L1576.3 887.1 L1577.6 886.5 L1578.9 885.8 L1580.2 885.1 L1581.5 884.3 L1582.8 883.6 L1584.1 882.8 L1585.4 882.1 L1586.7 881.3 L1588 880.5 L1589.3 879.6 L1590.6 878.8 L1591.9 878 L1593.2 877.1 L1594.4 876.2 L1595.7 875.3 L1597 874.3 L1598.3 873.4 L1599.6 872.4 L1600.9 871.5 L1602.2 870.4 L1603.5 869.4 L1604.8 868.4 L1606.1 867.3 L1607.4 866.2 L1608.7 865.1 L1610 864 L1611.3 862.9 L1612.6 861.7 L1613.8 860.5 L1615.1 859.3 L1616.4 858.1 L1617.7 856.9 L1619 855.6 L1620.3 854.3 L1621.6 853 L1622.9 851.7 L1624.2 850.3 L1625.5 848.9 L1626.8 847.5 L1628.1 846.1 L1629.4 844.7 L1630.7 843.2 L1632 841.8 L1633.2 840.3 L1634.5 838.7 L1635.8 837.2 L1637.1 835.6 L1638.4 834.1 L1639.7 832.5 L1641 830.8 L1642.3 829.2 L1643.6 827.5 L1644.9 825.9 L1646.2 824.2 L1647.5 822.4 L1648.8 820.7 L1650.1 818.9 L1651.4 817.2 L1652.6 815.4 L1653.9 813.6 L1655.2 811.8 L1656.5 809.9 L1657.8 808.1 L1659.1 806.2 L1660.4 804.3 L1661.7 802.4 L1663 800.5 L1664.3 798.6 L1665.6 796.6 L1666.9 794.7 L1668.2 792.7 L1669.5 790.7 L1670.8 788.8 L1672 786.8 L1673.3 784.8 L1674.6 782.8 L1675.9 780.7 L1677.2 778.7 L1678.5 776.7 L1679.8 774.7 L1681.1 772.6 L1682.4 770.6 L1683.7 768.5 L1685 766.5 L1686.3 764.4 L1687.6 762.4 L1688.9 760.3 L1690.2 758.3 L1691.4 756.2 L1692.7 754.2 L1694 752.1 L1695.3 750.1 L1696.6 748.1 L1697.9 746 L1699.2 744 L1700.5 742 L1701.8 740 L1703.1 738 L1704.4 736 L1705.7 734 L1707 732 L1708.3 730 L1709.6 728.1 L1710.8 726.1 L1712.1 724.2 L1713.4 722.2 L1714.7 720.3 L1716 718.4 L1717.3 716.6 L1718.6 714.7 L1719.9 712.8 L1721.2 711 L1722.5 709.2 L1723.8 707.4 L1725.1 705.6 L1726.4 703.8 L1727.7 702.1 L1729 700.3 L1730.2 698.6 L1731.5 696.9 L1732.8 695.3 L1734.1 693.6 L1735.4 692 L1736.7 690.3 L1738 688.7 L1739.3 687.2 L1740.6 685.6 L1741.9 684.1 L1743.2 682.6 L1744.5 681.1 L1745.8 679.6 L1747.1 678.1 L1748.3 676.7 L1749.6 675.3 L1750.9 673.9 L1752.2 672.5 L1753.5 671.2 L1754.8 669.9 L1756.1 668.6 L1757.4 667.3 L1758.7 666 L1760 664.8 L1761.3 663.5 L1762.6 662.3 L1763.9 661.2 L1765.2 660 L1766.5 658.9 L1767.7 657.7 L1769 656.6 L1770.3 655.6 L1771.6 654.5 L1772.9 653.5 L1774.2 652.5 L1775.5 651.5 L1776.8 650.5 L1778.1 649.5 L1779.4 648.6 L1780.7 647.6 L1782 646.7 L1783.3 645.8 L1784.6 645 L1785.9 644.1 L1787.1 643.3 L1788.4 642.5 L1789.7 641.7 L1791 640.9 L1792.3 640.1 L1793.6 639.4 L1794.9 638.6 L1796.2 637.9 L1797.5 637.2 L1798.8 636.5 L1800.1 635.8 L1801.4 635.2 L1802.7 634.5 L1804 633.9 L1805.3 633.3 L1806.5 632.7 L1807.8 632.1 L1809.1 631.5 L1810.4 630.9 L1811.7 630.4 L1813 629.8 L1814.3 629.3 L1815.6 628.8 L1816.9 628.3 L1818.2 627.8 L1819.5 627.3 L1820.8 626.9 L1822.1 626.4 L1823.4 626 L1824.7 625.5 L1825.9 625.1 L1827.2 624.7 L1828.5 624.3 L1829.8 623.9 L1831.1 623.5 L1832.4 623.1 L1833.7 622.7 L1835 622.4 L1836.3 622 L1837.6 621.7 L1838.9 621.4 L1840.2 621 L1841.5 620.7 L1842.8 620.4 L1844.1 620.1 L1845.3 619.8 L1846.6 619.5 L1847.9 619.2 L1849.2 619 L1850.5 618.7 L1851.8 618.4 L1853.1 618.2 L1854.4 617.9 L1855.7 617.7 L1857 617.4 L1858.3 617.2 L1859.6 617 L1860.9 616.8 L1862.2 616.6 L1863.5 616.3 L1864.7 616.1 L1866 615.9 L1867.3 615.8 L1868.6 615.6 L1869.9 615.4 L1871.2 615.2 L1872.5 615 L1873.8 614.9 L1875.1 614.7 L1876.4 614.5 L1877.7 614.4 L1879 614.2 L1880.3 614.1 L1881.6 613.9 L1882.9 613.8 L1884.1 613.6 L1885.4 613.5 L1886.7 613.4 L1888 613.3 L1889.3 613.1 L1890.6 613 L1891.9 612.9 L1893.2 612.8 L1894.5 612.7 L1895.8 612.6 L1897.1 612.4 L1898.4 612.3 L1899.7 612.2 L1901 612.1 L1902.3 612 L1903.5 612 L1904.8 611.9 L1906.1 611.8 L1907.4 611.7 L1908.7 611.6 L1910 611.5 L1911.3 611.4 L1912.6 611.4 L1913.9 611.3 L1915.2 611.2 L1916.5 611.1 L1917.8 611.1 L1919.1 611 L1920.4 610.9 L1921.7 610.9" fill="none" stroke="#ff0000" stroke-width="3" stroke-linejoin="round" stroke-linecap="round"/>
<path d="M1535 917.2 L1536.2 917.1 L1537.5 917 L1538.8 916.9 L1540.1 916.7 L1541.4 916.6 L1542.7 916.5 L1544 916.4 L1545.3 916.2 L1546.6 916.1 L1547.9 915.9 L1549.2 915.8 L1550.5 915.6 L1551.8 915.5 L1553.1 915.3 L1554.4 915.1 L1555.6 914.9 L1556.9 914.7 L1558.2 914.5 L1559.5 914.3 L1560.8 914.1 L1562.1 913.9 L1563.4 913.7 L1564.7 913.4 L1566 913.2 L1567.3 912.9 L1568.6 912.7 L1569.9 912.4 L1571.2 912.1 L1572.5 911.8 L1573.8 911.5 L1575 911.2 L1576.3 910.9 L1577.6 910.5 L1578.9 910.2 L1580.2 909.8 L1581.5 909.4 L1582.8 909 L1584.1 908.6 L1585.4 908.2 L1586.7 907.8 L1588 907.3 L1589.3 906.9 L1590.6 906.4 L1591.9 905.9 L1593.2 905.4 L1594.4 904.8 L1595.7 904.3 L1597 903.7 L1598.3 903.1 L1599.6 902.5 L1600.9 901.9 L1602.2 901.2 L1603.5 900.5 L1604.8 899.8 L1606.1 899.1 L1607.4 898.4 L1608.7 897.6 L1610 896.8 L1611.3 896 L1612.6 895.1 L1613.8 894.3 L1615.1 893.3 L1616.4 892.4 L1617.7 891.5 L1619 890.5 L1620.3 889.4 L1621.6 888.4 L1622.9 887.3 L1624.2 886.2 L1625.5 885 L1626.8 883.9 L1628.1 882.6 L1629.4 881.4 L1630.7 880.1 L1632 878.8 L1633.2 877.4 L1634.5 876 L1635.8 874.5 L1637.1 873.1 L1638.4 871.5 L1639.7 870 L1641 868.4 L1642.3 866.7 L1643.6 865.1 L1644.9 863.3 L1646.2 861.6 L1647.5 859.8 L1648.8 857.9 L1650.1 856 L1651.4 854.1 L1652.6 852.1 L1653.9 850.1 L1655.2 848 L1656.5 845.9 L1657.8 843.8 L1659.1 841.6 L1660.4 839.4 L1661.7 837.1 L1663 834.8 L1664.3 832.5 L1665.6 830.1 L1666.9 827.6 L1668.2 825.2 L1669.5 822.7 L1670.8 820.2 L1672 817.6 L1673.3 815 L1674.6 812.4 L1675.9 809.7 L1677.2 807 L1678.5 804.3 L1679.8 801.5 L1681.1 798.8 L1682.4 796 L1683.7 793.2 L1685 790.3 L1686.3 787.5 L1687.6 784.6 L1688.9 781.7 L1690.2 778.8 L1691.4 775.9 L1692.7 773 L1694 770.1 L1695.3 767.2 L1696.6 764.3 L1697.9 761.4 L1699.2 758.4 L1700.5 755.5 L1701.8 752.6 L1703.1 749.7 L1704.4 746.8 L1705.7 744 L1707 741.1 L1708.3 738.3 L1709.6 735.4 L1710.8 732.6 L1712.1 729.9 L1713.4 727.1 L1714.7 724.4 L1716 721.7 L1717.3 719 L1718.6 716.3 L1719.9 713.7 L1721.2 711.1 L1722.5 708.6 L1723.8 706.1 L1725.1 703.6 L1726.4 701.1 L1727.7 698.7 L1729 696.4 L1730.2 694 L1731.5 691.7 L1732.8 689.5 L1734.1 687.3 L1735.4 685.1 L1736.7 683 L1738 680.9 L1739.3 678.9 L1740.6 676.9 L1741.9 674.9 L1743.2 673 L1744.5 671.1 L1745.8 669.3 L1747.1 667.5 L1748.3 665.8 L1749.6 664.1 L1750.9 662.4 L1752.2 660.8 L1753.5 659.2 L1754.8 657.6 L1756.1 656.1 L1757.4 654.7 L1758.7 653.3 L1760 651.9 L1761.3 650.5 L1762.6 649.2 L1763.9 647.9 L1765.2 646.7 L1766.5 645.5 L1767.7 644.3 L1769 643.2 L1770.3 642.1 L1771.6 641 L1772.9 640 L1774.2 639 L1775.5 638 L1776.8 637 L1778.1 636.1 L1779.4 635.2 L1780.7 634.4 L1782 633.5 L1783.3 632.7 L1784.6 631.9 L1785.9 631.2 L1787.1 630.4 L1788.4 629.7 L1789.7 629 L1791 628.4 L1792.3 627.7 L1793.6 627.1 L1794.9 626.5 L1796.2 625.9 L1797.5 625.4 L1798.8 624.8 L1800.1 624.3 L1801.4 623.8 L1802.7 623.3 L1804 622.8 L1805.3 622.4 L1806.5 621.9 L1807.8 621.5 L1809.1 621.1 L1810.4 620.7 L1811.7 620.3 L1813 619.9 L1814.3 619.6 L1815.6 619.2 L1816.9 618.9 L1818.2 618.6 L1819.5 618.2 L1820.8 617.9 L1822.1 617.7 L1823.4 617.4 L1824.7 617.1 L1825.9 616.8 L1827.2 616.6 L1828.5 616.3 L1829.8 616.1 L1831.1 615.9 L1832.4 615.7 L1833.7 615.5 L1835 615.3 L1836.3 615.1 L1837.6 614.9 L1838.9 614.7 L1840.2 614.5 L1841.5 614.3 L1842.8 614.2 L1844.1 614 L1845.3 613.9 L1846.6 613.7 L1847.9 613.6 L1849.2 613.5 L1850.5 613.3 L1851.8 613.2 L1853.1 613.1 L1854.4 613 L1855.7 612.8 L1857 612.7 L1858.3 612.6 L1859.6 612.5 L1860.9 612.4 L1862.2 612.3 L1863.5 612.3 L1864.7 612.2 L1866 612.1 L1867.3 612 L1868.6 611.9 L1869.9 611.9 L1871.2 611.8 L1872.5 611.7 L1873.8 611.6 L1875.1 611.6 L1876.4 611.5 L1877.7 611.5 L1879 611.4 L1880.3 611.3 L1881.6 611.3 L1882.9 611.2 L1884.1 611.2 L1885.4 611.1 L1886.7 611.1 L1888 611 L1889.3 611 L1890.6 611 L1891.9 610.9 L1893.2 610.9 L1894.5 610.9 L1895.8 610.8 L1897.1 610.8 L1898.4 610.7 L1899.7 610.7 L1901 610.7 L1902.3 610.7 L1903.5 610.6 L1904.8 610.6 L1906.1 610.6 L1907.4 610.5 L1908.7 610.5 L1910 610.5 L1911.3 610.5 L1912.6 610.5 L1913.9 610.4 L1915.2 610.4 L1916.5 610.4 L1917.8 610.4 L1919.1 610.4 L1920.4 610.3 L1921.7 610.3" fill="none" stroke="#000" stroke-width="3" stroke-linejoin="round" stroke-linecap="round"/>
<path d="M1535 919.9 L1536.2 919.8 L1537.5 919.8 L1538.8 919.8 L1540.1 919.7 L1541.4 919.7 L1542.7 919.7 L1544 919.6 L1545.3 919.6 L1546.6 919.5 L1547.9 919.5 L1549.2 919.4 L1550.5 919.4 L1551.8 919.3 L1553.1 919.2 L1554.4 919.2 L1555.6 919.1 L1556.9 919 L1558.2 919 L1559.5 918.9 L1560.8 918.8 L1562.1 918.7 L1563.4 918.6 L1564.7 918.5 L1566 918.4 L1567.3 918.3 L1568.6 918.2 L1569.9 918.1 L1571.2 917.9 L1572.5 917.8 L1573.8 917.7 L1575 917.5 L1576.3 917.4 L1577.6 917.2 L1578.9 917.1 L1580.2 916.9 L1581.5 916.7 L1582.8 916.5 L1584.1 916.3 L1585.4 916.1 L1586.7 915.8 L1588 915.6 L1589.3 915.4 L1590.6 915.1 L1591.9 914.8 L1593.2 914.5 L1594.4 914.2 L1595.7 913.9 L1597 913.6 L1598.3 913.2 L1599.6 912.8 L1600.9 912.5 L1602.2 912.1 L1603.5 911.6 L1604.8 911.2 L1606.1 910.7 L1607.4 910.2 L1608.7 909.7 L1610 909.2 L1611.3 908.6 L1612.6 908 L1613.8 907.4 L1615.1 906.7 L1616.4 906 L1617.7 905.3 L1619 904.6 L1620.3 903.8 L1621.6 903 L1622.9 902.1 L1624.2 901.2 L1625.5 900.3 L1626.8 899.3 L1628.1 898.3 L1629.4 897.2 L1630.7 896.1 L1632 894.9 L1633.2 893.7 L1634.5 892.4 L1635.8 891.1 L1637.1 889.7 L1638.4 888.3 L1639.7 886.8 L1641 885.2 L1642.3 883.6 L1643.6 881.9 L1644.9 880.1 L1646.2 878.3 L1647.5 876.4 L1648.8 874.5 L1650.1 872.5 L1651.4 870.4 L1652.6 868.2 L1653.9 865.9 L1655.2 863.6 L1656.5 861.2 L1657.8 858.7 L1659.1 856.2 L1660.4 853.5 L1661.7 850.8 L1663 848 L1664.3 845.2 L1665.6 842.2 L1666.9 839.2 L1668.2 836.1 L1669.5 832.9 L1670.8 829.7 L1672 826.4 L1673.3 823 L1674.6 819.6 L1675.9 816.1 L1677.2 812.5 L1678.5 808.9 L1679.8 805.2 L1681.1 801.5 L1682.4 797.7 L1683.7 793.9 L1685 790.1 L1686.3 786.2 L1687.6 782.3 L1688.9 778.4 L1690.2 774.4 L1691.4 770.4 L1692.7 766.5 L1694 762.5 L1695.3 758.5 L1696.6 754.6 L1697.9 750.6 L1699.2 746.7 L1700.5 742.7 L1701.8 738.9 L1703.1 735 L1704.4 731.2 L1705.7 727.4 L1707 723.7 L1708.3 720 L1709.6 716.3 L1710.8 712.8 L1712.1 709.2 L1713.4 705.8 L1714.7 702.4 L1716 699.1 L1717.3 695.8 L1718.6 692.6 L1719.9 689.5 L1721.2 686.5 L1722.5 683.5 L1723.8 680.6 L1725.1 677.8 L1726.4 675.1 L1727.7 672.4 L1729 669.8 L1730.2 667.3 L1731.5 664.9 L1732.8 662.5 L1734.1 660.3 L1735.4 658.1 L1736.7 655.9 L1738 653.9 L1739.3 651.9 L1740.6 650 L1741.9 648.2 L1743.2 646.4 L1744.5 644.7 L1745.8 643.1 L1747.1 641.5 L1748.3 640 L1749.6 638.5 L1750.9 637.1 L1752.2 635.8 L1753.5 634.5 L1754.8 633.2 L1756.1 632.1 L1757.4 630.9 L1758.7 629.8 L1760 628.8 L1761.3 627.8 L1762.6 626.9 L1763.9 625.9 L1765.2 625.1 L1766.5 624.2 L1767.7 623.4 L1769 622.7 L1770.3 622 L1771.6 621.3 L1772.9 620.6 L1774.2 620 L1775.5 619.4 L1776.8 618.8 L1778.1 618.2 L1779.4 617.7 L1780.7 617.2 L1782 616.7 L1783.3 616.3 L1784.6 615.9 L1785.9 615.4 L1787.1 615 L1788.4 614.7 L1789.7 614.3 L1791 614 L1792.3 613.6 L1793.6 613.3 L1794.9 613 L1796.2 612.8 L1797.5 612.5 L1798.8 612.2 L1800.1 612 L1801.4 611.8 L1802.7 611.6 L1804 611.3 L1805.3 611.1 L1806.5 611 L1807.8 610.8 L1809.1 610.6 L1810.4 610.4 L1811.7 610.3 L1813 610.1 L1814.3 610 L1815.6 609.9 L1816.9 609.7 L1818.2 609.6 L1819.5 609.5 L1820.8 609.4 L1822.1 609.3 L1823.4 609.2 L1824.7 609.1 L1825.9 609 L1827.2 608.9 L1828.5 608.8 L1829.8 608.8 L1831.1 608.7 L1832.4 608.6 L1833.7 608.6 L1835 608.5 L1836.3 608.4 L1837.6 608.4 L1838.9 608.3 L1840.2 608.3 L1841.5 608.2 L1842.8 608.2 L1844.1 608.1 L1845.3 608.1 L1846.6 608.1 L1847.9 608 L1849.2 608 L1850.5 607.9 L1851.8 607.9 L1853.1 607.9 L1854.4 607.9 L1855.7 607.8 L1857 607.8 L1858.3 607.8 L1859.6 607.7 L1860.9 607.7 L1862.2 607.7 L1863.5 607.7 L1864.7 607.7 L1866 607.6 L1867.3 607.6 L1868.6 607.6 L1869.9 607.6 L1871.2 607.6 L1872.5 607.6 L1873.8 607.6 L1875.1 607.5 L1876.4 607.5 L1877.7 607.5 L1879 607.5 L1880.3 607.5 L1881.6 607.5 L1882.9 607.5 L1884.1 607.5 L1885.4 607.5 L1886.7 607.4 L1888 607.4 L1889.3 607.4 L1890.6 607.4 L1891.9 607.4 L1893.2 607.4 L1894.5 607.4 L1895.8 607.4 L1897.1 607.4 L1898.4 607.4 L1899.7 607.4 L1901 607.4 L1902.3 607.4 L1903.5 607.4 L1904.8 607.4 L1906.1 607.4 L1907.4 607.4 L1908.7 607.4 L1910 607.4 L1911.3 607.3 L1912.6 607.3 L1913.9 607.3 L1915.2 607.3 L1916.5 607.3 L1917.8 607.3 L1919.1 607.3 L1920.4 607.3 L1921.7 607.3" fill="none" stroke="#00ff00" stroke-width="3" stroke-linejoin="round" stroke-linecap="round"/>
<line x1="1701.1" y1="846.9" x2="1767.1" y2="846.9" stroke="#000" stroke-width="4.2" stroke-linecap="butt"/>
<line x1="1701.1" y1="880.8" x2="1767.1" y2="880.8" stroke="#00ff00" stroke-width="4.2" stroke-linecap="butt"/>
<line x1="1701.1" y1="916.4" x2="1767.1" y2="916.4" stroke="#ff0000" stroke-width="4.2" stroke-linecap="butt"/>
<text x="1780.8" y="855.5" font-size="24" fill="#222" textLength="13" lengthAdjust="spacingAndGlyphs" stroke="#222" stroke-width="0.4">0</text>
<text x="1803.7" y="855.5" font-size="24" fill="#555" textLength="31" lengthAdjust="spacingAndGlyphs">µM</text>
<text x="1851.1" y="855.5" font-size="24" fill="#222" textLength="139.5" lengthAdjust="spacing" stroke="#222" stroke-width="0.4">Ranolazine</text>
<text x="1780.8" y="889.5" font-size="24" fill="#222" textLength="13" lengthAdjust="spacingAndGlyphs" stroke="#222" stroke-width="0.4">2</text>
<text x="1803.7" y="889.5" font-size="24" fill="#555" textLength="31" lengthAdjust="spacingAndGlyphs">µM</text>
<text x="1851.1" y="889.5" font-size="24" fill="#222" textLength="139.5" lengthAdjust="spacing" stroke="#222" stroke-width="0.4">Ranolazine</text>
<text x="1781.6" y="925" font-size="24" fill="#222" textLength="27" lengthAdjust="spacingAndGlyphs" stroke="#222" stroke-width="0.4">10</text>
<text x="1819.5" y="925" font-size="24" fill="#555" textLength="31" lengthAdjust="spacingAndGlyphs">µM</text>
<text x="1866.9" y="925" font-size="24" fill="#222" textLength="139.5" lengthAdjust="spacing" stroke="#222" stroke-width="0.4">Ranolazine</text>
<text transform="translate(12.3,39.7) scale(1.0,1)" font-size="54.6" font-weight="bold" fill="#000">A</text>
<text transform="translate(662.2,39.9) scale(0.81,1)" font-size="54.6" font-weight="bold" fill="#000">B</text>
<text transform="translate(1361.2,39.9) scale(0.84,1)" font-size="54.6" font-weight="bold" fill="#000">C</text>
<text transform="translate(14.5,526.5) scale(0.97,1)" font-size="54.6" font-weight="bold" fill="#000">D</text>
<text transform="translate(662.5,526) scale(0.755,1)" font-size="54.6" font-weight="bold" fill="#000">E</text>
<text transform="translate(1367.6,526.5) scale(0.78,1)" font-size="54.6" font-weight="bold" fill="#000">F</text>
</svg>
</body></html>
